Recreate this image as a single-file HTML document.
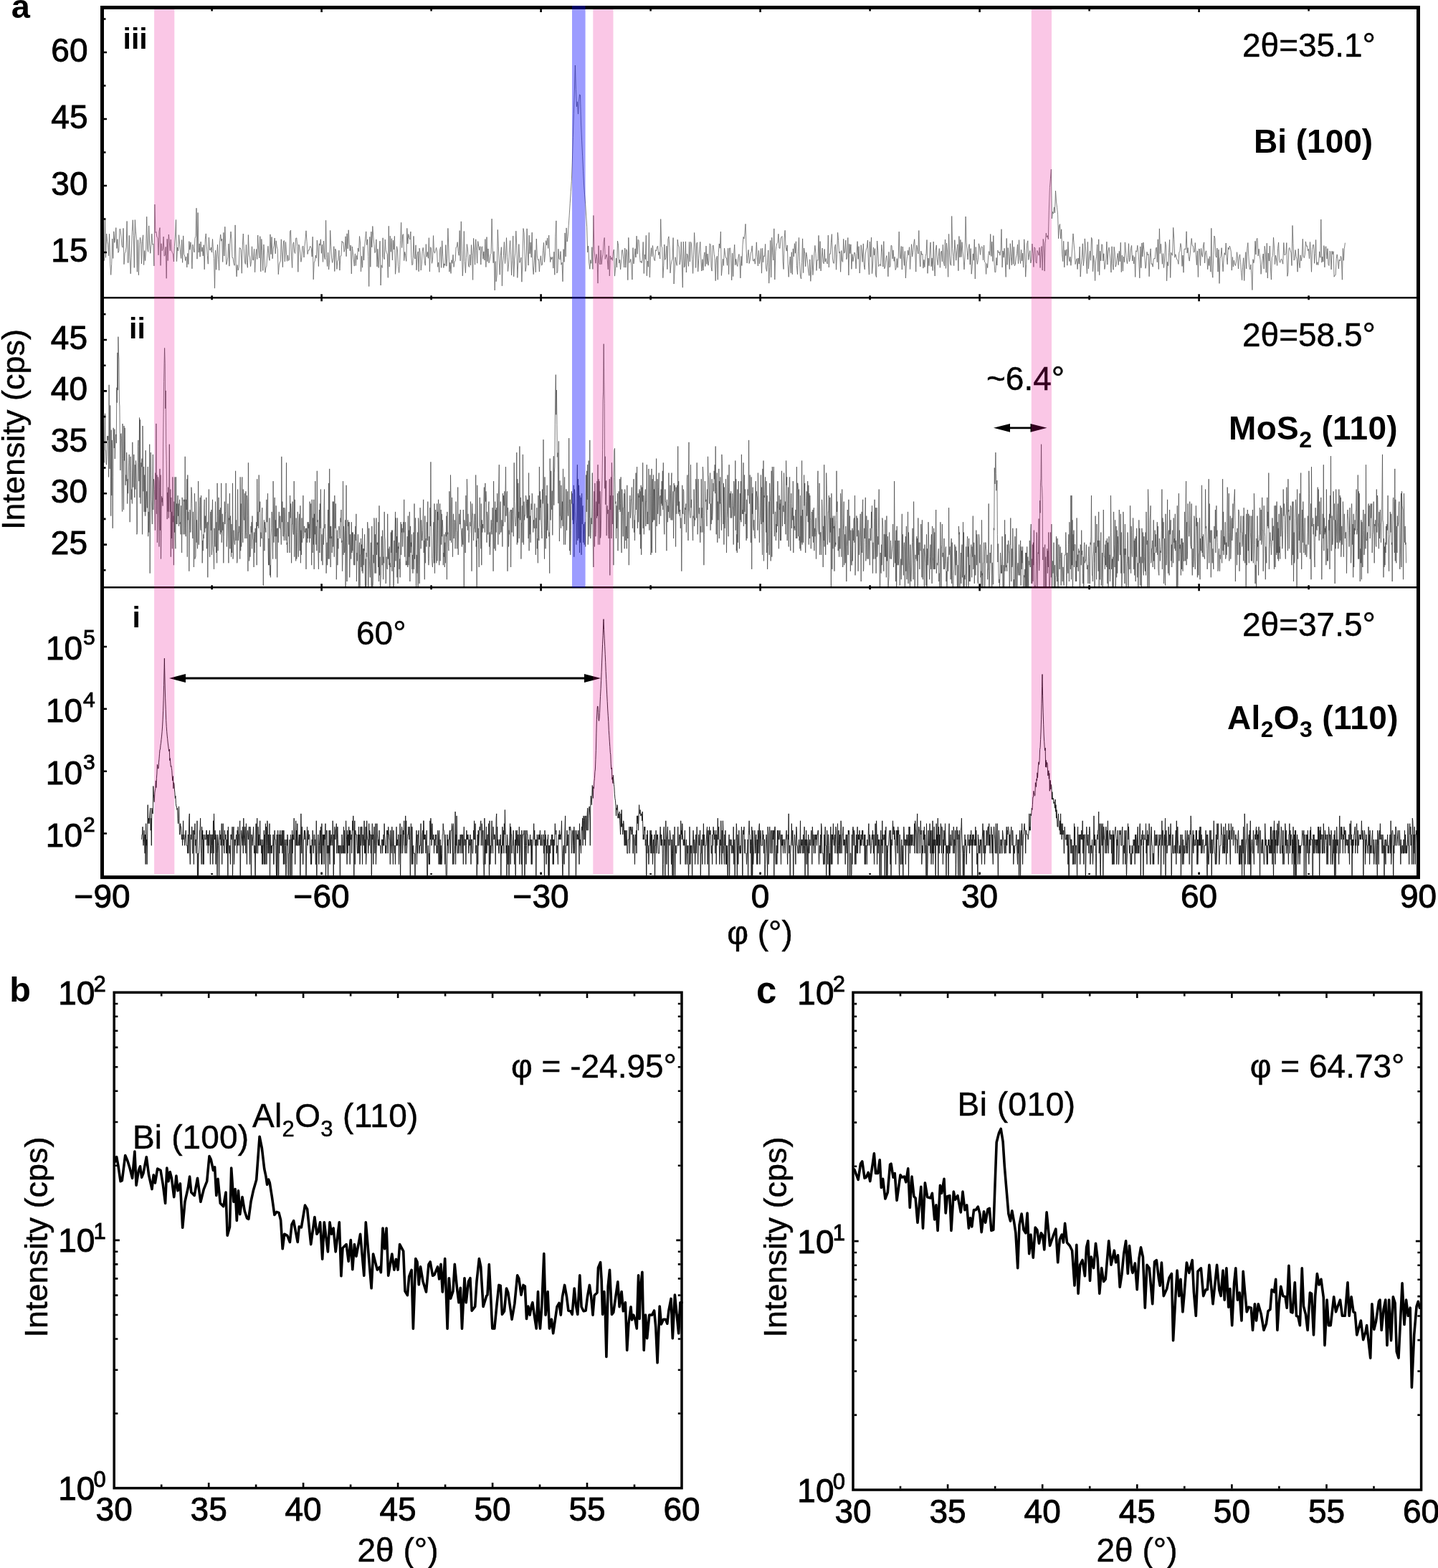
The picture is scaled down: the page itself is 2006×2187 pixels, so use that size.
<!DOCTYPE html>
<html><head><meta charset="utf-8"><style>
html,body{margin:0;padding:0;background:#fff;overflow:hidden;}
svg text{font-family:'Liberation Sans',Arial,sans-serif;fill:#000;}
svg text.r{stroke:#000;stroke-width:0.9px;}
svg text.r2{stroke:#000;stroke-width:0.45px;}
</style></head><body>
<svg width="2006" height="2187" viewBox="0 0 2006 2187" style="display:block">
<defs>
<clipPath id="clip3"><rect x="145.0" y="13.0" width="1831.0" height="400.9"/></clipPath>
<clipPath id="clip2"><rect x="145.0" y="416.5" width="1831.0" height="401.49999999999994"/></clipPath>
<clipPath id="clip1"><rect x="145.0" y="820.5999999999999" width="1831.0" height="400.49999999999994"/></clipPath>
</defs>
<g clip-path="url(#clip3)"><polyline points="145.5,363.7 146.5,305.8 147.5,359.3 148.6,326.0 149.6,336.6 150.6,341.6 151.6,356.8 152.6,326.3 153.7,367.9 154.7,383.4 155.7,368.4 156.7,333.0 157.7,360.4 158.8,322.8 159.8,338.4 160.8,331.9 161.8,317.6 162.8,346.5 163.9,333.6 164.9,352.4 165.9,349.7 166.9,319.6 167.9,319.5 169.0,329.9 170.0,342.3 171.0,345.2 172.0,318.4 173.0,368.7 174.1,353.4 175.1,351.3 176.1,344.4 177.1,308.5 178.1,366.2 179.2,366.3 180.2,328.4 181.2,357.2 182.2,381.8 183.2,359.7 184.3,323.3 185.3,306.8 186.3,328.5 187.3,373.4 188.3,306.6 189.4,322.9 190.4,333.2 191.4,379.2 192.4,334.6 193.4,383.7 194.5,341.2 195.5,331.3 196.5,336.5 197.5,367.9 198.5,336.5 199.6,327.8 200.6,369.5 201.6,349.6 202.6,363.6 203.6,349.0 204.7,302.2 205.7,347.2 206.7,351.3 207.7,314.9 208.7,342.1 209.8,353.3 210.8,340.4 211.8,326.2 212.8,341.2 213.8,340.1 214.9,370.9 215.9,285.1 216.9,324.6 217.9,323.4 218.9,330.6 220.0,331.5 221.0,355.8 222.0,322.7 223.0,317.6 224.0,370.4 225.1,339.7 226.1,349.7 227.1,347.5 228.1,330.1 229.1,357.1 230.2,356.2 231.2,344.4 232.2,388.3 233.2,333.4 234.2,363.6 235.3,327.0 236.3,338.0 237.3,349.8 238.3,334.1 239.3,349.1 240.4,352.5 241.4,354.0 242.4,365.0 243.4,343.4 244.4,330.0 245.5,306.5 246.5,364.6 247.5,345.0 248.5,349.9 249.5,327.7 250.6,340.1 251.6,351.8 252.6,360.4 253.6,334.5 254.6,366.3 255.7,328.9 256.7,354.4 257.7,357.0 258.7,363.5 259.7,358.1 260.8,372.9 261.8,353.3 262.8,368.6 263.8,336.6 264.8,348.3 265.9,337.8 266.9,347.5 267.9,374.8 268.9,341.1 269.9,346.8 271.0,351.9 272.0,332.4 273.0,329.4 274.0,290.3 275.0,361.2 276.1,296.6 277.1,352.0 278.1,339.9 279.1,358.2 280.1,337.1 281.2,350.9 282.2,344.9 283.2,356.9 284.2,341.7 285.2,375.8 286.3,333.6 287.3,325.9 288.3,343.2 289.3,356.6 290.3,368.2 291.4,331.2 292.4,348.4 293.4,349.0 294.4,345.1 295.4,352.0 296.5,333.5 297.5,350.6 298.5,360.6 299.5,402.1 300.5,349.1 301.6,376.2 302.6,354.1 303.6,341.2 304.6,361.7 305.6,377.1 306.7,335.9 307.7,327.1 308.7,336.2 309.7,333.3 310.7,365.4 311.8,324.4 312.8,357.0 313.8,316.2 314.8,344.7 315.8,369.1 316.9,364.7 317.9,358.2 318.9,340.1 319.9,371.2 320.9,340.0 322.0,323.0 323.0,333.5 324.0,359.4 325.0,359.6 326.0,366.8 327.1,370.3 328.1,313.9 329.1,366.9 330.1,385.8 331.1,369.5 332.2,377.0 333.2,372.6 334.2,345.6 335.2,346.0 336.2,348.6 337.3,381.2 338.3,342.9 339.3,326.0 340.3,346.9 341.3,364.3 342.4,368.5 343.4,341.4 344.4,366.7 345.4,373.3 346.4,327.6 347.5,355.1 348.5,359.1 349.5,371.6 350.5,364.4 351.5,343.8 352.6,362.7 353.6,362.7 354.6,347.3 355.6,379.7 356.6,357.4 357.7,347.5 358.7,361.5 359.7,328.0 360.7,348.3 361.7,359.9 362.8,329.7 363.8,378.8 364.8,333.5 365.8,349.8 366.8,377.4 367.9,341.0 368.9,355.1 369.9,380.2 370.9,373.4 371.9,371.1 373.0,353.4 374.0,343.3 375.0,358.0 376.0,363.3 377.0,326.9 378.1,354.6 379.1,330.5 380.1,360.8 381.1,347.2 382.1,342.5 383.2,332.0 384.2,353.9 385.2,335.8 386.2,343.9 387.2,347.7 388.3,382.7 389.3,369.7 390.3,366.2 391.3,364.1 392.3,333.8 393.4,353.0 394.4,372.7 395.4,336.8 396.4,335.5 397.4,364.9 398.5,337.5 399.5,352.9 400.5,364.3 401.5,355.9 402.5,363.5 403.6,361.9 404.6,322.5 405.6,321.1 406.6,357.9 407.6,373.5 408.7,340.4 409.7,337.8 410.7,351.6 411.7,353.5 412.7,332.3 413.8,331.9 414.8,343.5 415.8,379.3 416.8,341.0 417.8,344.8 418.9,353.1 419.9,365.3 420.9,359.2 421.9,343.9 422.9,343.1 424.0,359.0 425.0,343.5 426.0,333.7 427.0,321.8 428.0,336.6 429.1,354.5 430.1,348.9 431.1,349.2 432.1,344.2 433.1,343.4 434.2,346.4 435.2,358.0 436.2,330.2 437.2,389.8 438.2,366.0 439.3,364.0 440.3,356.2 441.3,360.1 442.3,335.1 443.3,344.3 444.4,371.5 445.4,339.8 446.4,342.2 447.4,333.8 448.4,353.3 449.5,341.0 450.5,365.4 451.5,336.0 452.5,358.4 453.5,361.8 454.6,307.3 455.6,359.4 456.6,371.5 457.6,352.2 458.6,376.0 459.7,362.0 460.7,321.4 461.7,343.9 462.7,361.2 463.7,366.4 464.8,359.7 465.8,343.7 466.8,378.5 467.8,347.1 468.8,350.4 469.9,375.4 470.9,364.1 471.9,362.5 472.9,349.2 473.9,377.1 475.0,357.0 476.0,356.7 477.0,336.3 478.0,338.4 479.0,338.0 480.1,351.3 481.1,347.1 482.1,329.8 483.1,357.7 484.1,325.8 485.2,346.9 486.2,320.8 487.2,339.0 488.2,349.8 489.2,342.0 490.3,381.9 491.3,343.9 492.3,351.8 493.3,361.7 494.3,371.1 495.4,353.8 496.4,370.5 497.4,356.4 498.4,362.1 499.4,346.1 500.5,350.9 501.5,329.5 502.5,338.0 503.5,378.8 504.5,357.3 505.6,373.2 506.6,343.9 507.6,363.0 508.6,345.0 509.6,333.2 510.7,322.9 511.7,341.6 512.7,333.9 513.7,357.3 514.7,399.5 515.8,330.4 516.8,372.3 517.8,323.1 518.8,344.8 519.8,315.5 520.9,331.1 521.9,340.4 522.9,352.6 523.9,351.1 524.9,333.9 526.0,371.9 527.0,347.3 528.0,373.5 529.0,360.0 530.0,336.2 531.1,398.0 532.1,369.8 533.1,373.4 534.1,331.8 535.1,358.4 536.2,361.7 537.2,334.1 538.2,348.7 539.2,352.5 540.2,354.4 541.3,387.3 542.3,315.3 543.3,372.2 544.3,329.2 545.3,351.2 546.4,332.7 547.4,362.9 548.4,335.2 549.4,348.0 550.4,329.4 551.5,382.3 552.5,370.9 553.5,343.7 554.5,348.8 555.5,371.4 556.6,380.4 557.6,369.4 558.6,335.3 559.6,310.3 560.6,345.5 561.7,327.8 562.7,326.6 563.7,363.6 564.7,351.4 565.7,356.5 566.8,364.4 567.8,318.4 568.8,340.1 569.8,326.6 570.8,331.4 571.9,334.1 572.9,323.0 573.9,359.6 574.9,369.8 575.9,368.2 577.0,329.4 578.0,359.0 579.0,361.0 580.0,341.8 581.0,376.7 582.1,355.8 583.1,350.9 584.1,378.7 585.1,346.2 586.1,352.6 587.2,377.0 588.2,368.5 589.2,350.5 590.2,345.4 591.2,353.2 592.3,365.0 593.3,370.2 594.3,340.6 595.3,358.2 596.3,351.5 597.4,360.2 598.4,331.7 599.4,378.9 600.4,344.7 601.4,345.9 602.5,367.3 603.5,362.7 604.5,328.6 605.5,351.2 606.5,353.2 607.6,349.5 608.6,345.4 609.6,350.9 610.6,372.3 611.6,366.0 612.7,379.7 613.7,348.1 614.7,344.4 615.7,373.4 616.7,335.8 617.8,358.2 618.8,373.5 619.8,367.8 620.8,370.3 621.8,341.6 622.9,371.2 623.9,360.5 624.9,318.4 625.9,346.9 626.9,379.1 628.0,366.2 629.0,381.4 630.0,362.7 631.0,367.4 632.0,355.3 633.1,372.4 634.1,364.9 635.1,364.0 636.1,345.1 637.1,344.8 638.2,337.7 639.2,350.5 640.2,356.3 641.2,321.6 642.2,363.9 643.3,308.9 644.3,349.1 645.3,384.8 646.3,365.7 647.3,322.5 648.4,364.3 649.4,380.6 650.4,359.4 651.4,340.6 652.4,347.1 653.5,370.6 654.5,372.5 655.5,355.1 656.5,370.1 657.5,341.6 658.6,356.7 659.6,390.4 660.6,332.4 661.6,348.0 662.6,369.2 663.7,333.8 664.7,349.3 665.7,367.2 666.7,336.6 667.7,343.3 668.8,348.9 669.8,343.6 670.8,369.1 671.8,344.6 672.8,343.9 673.9,361.2 674.9,350.9 675.9,363.0 676.9,333.6 677.9,372.5 679.0,330.6 680.0,364.8 681.0,346.9 682.0,366.8 683.0,363.6 684.1,354.7 685.1,353.7 686.1,305.2 687.1,344.4 688.1,366.7 689.2,350.7 690.2,404.9 691.2,364.5 692.2,392.7 693.2,383.1 694.3,320.4 695.3,343.8 696.3,366.9 697.3,383.2 698.3,356.8 699.4,344.7 700.4,398.8 701.4,367.0 702.4,356.7 703.4,337.5 704.5,367.6 705.5,356.2 706.5,331.6 707.5,358.6 708.5,378.5 709.6,368.2 710.6,348.2 711.6,335.6 712.6,355.1 713.6,383.9 714.7,362.3 715.7,329.1 716.7,385.8 717.7,362.1 718.7,353.1 719.8,322.2 720.8,342.8 721.8,387.4 722.8,366.8 723.8,340.6 724.9,366.4 725.9,363.6 726.9,359.2 727.9,393.2 728.9,363.0 730.0,318.6 731.0,324.8 732.0,351.1 733.0,378.5 734.0,372.2 735.1,318.9 736.1,350.2 737.1,370.1 738.1,328.2 739.1,353.8 740.2,337.9 741.2,359.1 742.2,324.2 743.2,371.0 744.2,382.7 745.3,363.8 746.3,348.7 747.3,379.7 748.3,333.0 749.3,357.0 750.4,362.7 751.4,361.7 752.4,379.0 753.4,363.7 754.4,356.8 755.5,370.2 756.5,368.9 757.5,349.7 758.5,338.4 759.5,365.5 760.6,353.1 761.6,335.7 762.6,341.8 763.6,331.9 764.6,346.4 765.7,328.1 766.7,352.7 767.7,365.6 768.7,358.6 769.7,361.6 770.8,358.4 771.8,374.1 772.8,351.2 773.8,383.3 774.8,330.5 775.9,307.9 776.9,380.9 777.9,378.2 778.9,347.3 779.9,360.9 781.0,362.2 782.0,350.6 783.0,369.2 784.0,366.2 785.0,392.7 786.1,347.6 787.1,365.4 788.1,324.9 789.1,357.9 790.1,317.9 791.2,337.1 792.2,329.3 793.2,314.8 794.2,300.2 795.2,283.8 796.3,267.7 797.3,252.5 798.3,226.9 799.3,191.3 800.3,158.6 801.4,126.9 802.4,91.0 803.4,124.6 804.4,148.8 805.4,141.8 806.5,159.1 807.5,141.6 808.5,131.9 809.5,132.6 810.5,172.0 811.6,196.2 812.6,217.3 813.6,238.7 814.6,258.1 815.6,271.8 816.7,284.8 817.7,301.1 818.7,316.7 819.7,351.9 820.7,343.1 821.8,367.1 822.8,375.3 823.8,362.6 824.8,367.4 825.8,344.7 826.9,375.4 827.9,300.5 828.9,348.2 829.9,358.8 830.9,367.2 832.0,354.5 833.0,361.0 834.0,395.1 835.0,342.7 836.0,366.6 837.1,369.0 838.1,348.9 839.1,368.7 840.1,359.9 841.1,354.5 842.2,337.6 843.2,331.5 844.2,361.4 845.2,358.0 846.2,355.0 847.3,362.7 848.3,375.8 849.3,342.9 850.3,384.9 851.3,356.9 852.4,361.8 853.4,359.2 854.4,363.3 855.4,351.9 856.4,348.1 857.5,385.1 858.5,374.3 859.5,360.1 860.5,373.0 861.5,336.1 862.6,342.2 863.6,367.0 864.6,362.4 865.6,375.9 866.6,364.0 867.7,348.8 868.7,348.9 869.7,361.6 870.7,373.0 871.7,346.0 872.8,373.1 873.8,347.8 874.8,351.4 875.8,390.6 876.8,331.4 877.9,366.5 878.9,365.3 879.9,361.4 880.9,370.1 881.9,390.0 883.0,345.6 884.0,367.9 885.0,359.6 886.0,346.8 887.0,359.0 888.1,329.2 889.1,354.3 890.1,334.2 891.1,335.3 892.1,352.7 893.2,365.7 894.2,364.3 895.2,366.8 896.2,361.7 897.2,337.5 898.3,381.5 899.3,355.0 900.3,361.7 901.3,328.3 902.3,384.8 903.4,364.0 904.4,372.2 905.4,324.4 906.4,386.9 907.4,357.8 908.5,345.7 909.5,357.9 910.5,342.5 911.5,355.0 912.5,361.9 913.6,363.7 914.6,348.7 915.6,349.9 916.6,344.3 917.6,343.1 918.7,355.8 919.7,351.6 920.7,361.0 921.7,305.6 922.7,343.4 923.8,345.4 924.8,387.6 925.8,370.4 926.8,341.0 927.8,362.4 928.9,359.6 929.9,343.2 930.9,375.6 931.9,333.8 932.9,329.9 934.0,345.5 935.0,380.8 936.0,369.4 937.0,363.9 938.0,361.2 939.1,331.6 940.1,396.0 941.1,377.0 942.1,358.7 943.1,365.3 944.2,370.4 945.2,334.2 946.2,343.0 947.2,343.6 948.2,369.1 949.3,362.3 950.3,337.4 951.3,368.1 952.3,401.1 953.3,337.1 954.4,373.0 955.4,371.3 956.4,336.9 957.4,380.0 958.4,353.9 959.5,356.6 960.5,371.4 961.5,337.4 962.5,364.9 963.5,337.3 964.6,340.6 965.6,361.7 966.6,381.4 967.6,355.1 968.6,324.5 969.7,345.0 970.7,373.5 971.7,339.3 972.7,338.0 973.7,378.8 974.8,360.7 975.8,347.8 976.8,337.3 977.8,362.5 978.8,378.0 979.9,361.6 980.9,377.1 981.9,358.6 982.9,351.8 983.9,371.5 985.0,343.1 986.0,368.3 987.0,354.1 988.0,370.2 989.0,363.3 990.1,339.8 991.1,341.0 992.1,372.2 993.1,378.1 994.1,342.8 995.2,342.2 996.2,354.4 997.2,360.6 998.2,391.7 999.2,362.1 1000.3,357.3 1001.3,390.2 1002.3,352.4 1003.3,340.0 1004.3,346.2 1005.4,323.0 1006.4,384.4 1007.4,373.4 1008.4,361.2 1009.4,370.5 1010.5,346.2 1011.5,354.1 1012.5,359.7 1013.5,359.9 1014.5,370.2 1015.6,346.3 1016.6,382.6 1017.6,346.2 1018.6,345.9 1019.6,359.1 1020.7,390.8 1021.7,353.1 1022.7,385.6 1023.7,354.6 1024.7,341.2 1025.8,369.6 1026.8,361.3 1027.8,369.0 1028.8,371.5 1029.8,360.2 1030.9,354.5 1031.9,366.5 1032.9,387.9 1033.9,357.4 1034.9,370.5 1036.0,341.9 1037.0,330.5 1038.0,333.1 1039.0,325.0 1040.0,312.4 1041.1,348.4 1042.1,367.0 1043.1,356.7 1044.1,348.5 1045.1,367.5 1046.2,363.0 1047.2,353.1 1048.2,350.7 1049.2,342.9 1050.2,363.4 1051.3,364.2 1052.3,360.9 1053.3,368.2 1054.3,358.6 1055.3,337.8 1056.4,358.2 1057.4,371.0 1058.4,349.4 1059.4,367.9 1060.4,361.1 1061.5,346.6 1062.5,381.1 1063.5,346.3 1064.5,365.8 1065.5,356.9 1066.6,357.5 1067.6,340.4 1068.6,374.0 1069.6,378.4 1070.6,366.2 1071.7,349.0 1072.7,395.1 1073.7,372.7 1074.7,335.4 1075.7,386.8 1076.8,331.3 1077.8,352.9 1078.8,363.0 1079.8,318.9 1080.8,390.0 1081.9,350.7 1082.9,343.5 1083.9,339.6 1084.9,338.3 1085.9,326.3 1087.0,346.1 1088.0,346.4 1089.0,332.8 1090.0,330.7 1091.0,329.5 1092.1,364.1 1093.1,375.5 1094.1,331.9 1095.1,321.3 1096.1,344.5 1097.2,350.1 1098.2,341.9 1099.2,368.3 1100.2,386.3 1101.2,370.7 1102.3,358.0 1103.3,380.8 1104.3,351.7 1105.3,382.7 1106.3,346.9 1107.4,357.8 1108.4,339.6 1109.4,353.2 1110.4,336.8 1111.4,370.4 1112.5,382.7 1113.5,350.8 1114.5,331.4 1115.5,364.6 1116.5,385.6 1117.6,389.0 1118.6,366.4 1119.6,332.9 1120.6,380.6 1121.6,346.0 1122.7,353.8 1123.7,371.7 1124.7,352.2 1125.7,357.8 1126.7,366.9 1127.8,379.1 1128.8,384.4 1129.8,361.8 1130.8,392.3 1131.8,376.3 1132.9,355.6 1133.9,383.6 1134.9,370.0 1135.9,354.0 1136.9,342.4 1138.0,353.7 1139.0,377.4 1140.0,362.5 1141.0,363.3 1142.0,328.4 1143.1,374.6 1144.1,336.6 1145.1,377.9 1146.1,361.7 1147.1,346.1 1148.2,365.5 1149.2,367.8 1150.2,347.5 1151.2,365.2 1152.2,360.5 1153.3,366.4 1154.3,368.1 1155.3,328.1 1156.3,372.9 1157.3,354.1 1158.4,354.3 1159.4,338.2 1160.4,326.6 1161.4,360.0 1162.4,366.7 1163.5,367.3 1164.5,344.9 1165.5,340.9 1166.5,376.2 1167.5,354.7 1168.6,324.3 1169.6,335.5 1170.6,353.2 1171.6,350.9 1172.6,379.3 1173.7,349.5 1174.7,364.4 1175.7,365.3 1176.7,333.3 1177.7,353.2 1178.8,351.1 1179.8,335.1 1180.8,361.8 1181.8,358.6 1182.8,331.5 1183.9,383.9 1184.9,340.4 1185.9,353.6 1186.9,340.9 1187.9,375.3 1189.0,354.5 1190.0,364.6 1191.0,357.7 1192.0,352.0 1193.0,354.6 1194.1,374.8 1195.1,353.6 1196.1,336.7 1197.1,361.4 1198.1,343.7 1199.2,381.0 1200.2,365.8 1201.2,341.8 1202.2,351.1 1203.2,365.4 1204.3,339.9 1205.3,369.8 1206.3,375.9 1207.3,354.0 1208.3,348.1 1209.4,344.9 1210.4,335.0 1211.4,365.9 1212.4,383.1 1213.4,337.0 1214.5,358.3 1215.5,331.1 1216.5,381.6 1217.5,370.1 1218.5,345.0 1219.6,355.8 1220.6,346.7 1221.6,383.7 1222.6,386.6 1223.6,336.0 1224.7,349.2 1225.7,371.7 1226.7,369.6 1227.7,368.5 1228.7,371.1 1229.8,341.4 1230.8,351.3 1231.8,372.1 1232.8,336.6 1233.8,374.8 1234.9,372.0 1235.9,359.9 1236.9,356.6 1237.9,366.1 1238.9,385.7 1240.0,351.4 1241.0,372.8 1242.0,370.8 1243.0,342.4 1244.0,342.7 1245.1,360.9 1246.1,348.8 1247.1,364.3 1248.1,358.3 1249.1,376.5 1250.2,373.7 1251.2,360.6 1252.2,373.2 1253.2,358.8 1254.2,323.1 1255.3,359.7 1256.3,360.8 1257.3,343.5 1258.3,376.0 1259.3,344.1 1260.4,357.2 1261.4,370.4 1262.4,350.4 1263.4,387.9 1264.4,367.9 1265.5,357.6 1266.5,349.2 1267.5,355.8 1268.5,344.7 1269.5,375.5 1270.6,356.6 1271.6,340.7 1272.6,358.1 1273.6,352.4 1274.6,340.9 1275.7,333.7 1276.7,351.8 1277.7,379.1 1278.7,342.0 1279.7,347.1 1280.8,354.0 1281.8,321.5 1282.8,360.1 1283.8,372.0 1284.8,350.2 1285.9,355.3 1286.9,354.0 1287.9,374.1 1288.9,362.4 1289.9,372.6 1291.0,357.6 1292.0,353.8 1293.0,334.5 1294.0,381.3 1295.0,360.1 1296.1,370.7 1297.1,348.9 1298.1,337.9 1299.1,371.7 1300.1,359.9 1301.2,377.5 1302.2,337.0 1303.2,368.2 1304.2,385.0 1305.2,349.1 1306.3,341.9 1307.3,362.1 1308.3,369.6 1309.3,357.4 1310.3,346.6 1311.4,373.3 1312.4,351.9 1313.4,350.0 1314.4,364.9 1315.4,341.3 1316.5,366.0 1317.5,371.0 1318.5,334.0 1319.5,374.4 1320.5,339.0 1321.6,351.1 1322.6,386.3 1323.6,326.4 1324.6,356.0 1325.6,368.5 1326.7,370.2 1327.7,301.5 1328.7,346.4 1329.7,357.3 1330.7,370.6 1331.8,334.7 1332.8,349.3 1333.8,363.2 1334.8,349.6 1335.8,340.8 1336.9,377.7 1337.9,329.5 1338.9,358.8 1339.9,334.4 1340.9,358.5 1342.0,337.7 1343.0,350.8 1344.0,360.0 1345.0,375.9 1346.0,359.1 1347.1,302.0 1348.1,338.2 1349.1,349.7 1350.1,362.0 1351.1,346.5 1352.2,340.6 1353.2,369.1 1354.2,346.6 1355.2,382.2 1356.2,371.6 1357.3,353.8 1358.3,363.2 1359.3,333.8 1360.3,389.0 1361.3,344.6 1362.4,359.8 1363.4,368.4 1364.4,362.3 1365.4,339.8 1366.4,343.9 1367.5,355.4 1368.5,346.0 1369.5,343.8 1370.5,344.6 1371.5,362.9 1372.6,342.0 1373.6,365.2 1374.6,366.6 1375.6,382.4 1376.6,367.6 1377.7,373.5 1378.7,356.6 1379.7,350.6 1380.7,355.8 1381.7,326.5 1382.8,357.5 1383.8,337.2 1384.8,364.5 1385.8,328.7 1386.8,363.0 1387.9,379.6 1388.9,379.6 1389.9,359.5 1390.9,370.0 1391.9,349.1 1393.0,352.7 1394.0,351.3 1395.0,356.2 1396.0,347.9 1397.0,319.7 1398.1,372.9 1399.1,350.0 1400.1,359.1 1401.1,346.3 1402.1,360.8 1403.2,386.4 1404.2,332.5 1405.2,369.3 1406.2,345.6 1407.2,357.3 1408.3,375.5 1409.3,339.7 1410.3,358.3 1411.3,369.9 1412.3,335.2 1413.4,368.4 1414.4,344.4 1415.4,370.7 1416.4,368.5 1417.4,359.1 1418.5,353.7 1419.5,340.9 1420.5,367.7 1421.5,334.7 1422.5,359.4 1423.6,367.5 1424.6,348.3 1425.6,364.0 1426.6,353.0 1427.6,372.9 1428.7,333.8 1429.7,349.6 1430.7,386.2 1431.7,368.3 1432.7,340.0 1433.8,335.8 1434.8,362.4 1435.8,354.7 1436.8,349.6 1437.8,366.9 1438.9,361.8 1439.9,340.1 1440.9,353.3 1441.9,372.4 1442.9,344.8 1444.0,346.2 1445.0,365.3 1446.0,367.1 1447.0,349.5 1448.0,352.3 1449.1,356.2 1450.1,345.1 1451.1,373.5 1452.1,351.8 1453.1,343.5 1454.2,377.0 1455.2,333.5 1456.2,338.8 1457.2,378.1 1458.2,339.4 1459.3,325.1 1460.3,330.9 1461.3,328.6 1462.3,333.7 1463.3,293.9 1464.4,261.6 1465.4,249.2 1466.4,236.1 1467.4,305.0 1468.4,295.5 1469.5,298.0 1470.5,288.9 1471.5,297.0 1472.5,266.1 1473.5,280.8 1474.6,289.7 1475.6,299.7 1476.6,332.8 1477.6,314.6 1478.6,312.6 1479.7,333.0 1480.7,319.8 1481.7,354.7 1482.7,364.6 1483.7,336.3 1484.8,372.8 1485.8,348.8 1486.8,356.6 1487.8,347.8 1488.8,370.2 1489.9,337.2 1490.9,359.4 1491.9,364.6 1492.9,358.2 1493.9,370.3 1495.0,357.9 1496.0,341.6 1497.0,325.9 1498.0,338.3 1499.0,351.3 1500.1,368.6 1501.1,364.0 1502.1,360.7 1503.1,375.5 1504.1,360.0 1505.2,368.1 1506.2,344.1 1507.2,386.0 1508.2,369.8 1509.2,359.7 1510.3,339.8 1511.3,370.6 1512.3,361.4 1513.3,332.9 1514.3,343.4 1515.4,364.0 1516.4,381.6 1517.4,337.5 1518.4,374.9 1519.4,361.0 1520.5,350.0 1521.5,363.2 1522.5,331.3 1523.5,333.6 1524.5,378.7 1525.6,356.5 1526.6,365.9 1527.6,391.5 1528.6,363.9 1529.6,357.4 1530.7,341.1 1531.7,378.7 1532.7,333.8 1533.7,383.7 1534.7,350.2 1535.8,363.8 1536.8,340.8 1537.8,341.3 1538.8,363.9 1539.8,353.7 1540.9,375.5 1541.9,369.8 1542.9,360.9 1543.9,337.2 1544.9,369.1 1546.0,350.1 1547.0,345.1 1548.0,353.5 1549.0,363.4 1550.0,380.0 1551.1,343.8 1552.1,367.6 1553.1,376.3 1554.1,344.3 1555.1,351.8 1556.2,372.2 1557.2,368.9 1558.2,359.8 1559.2,353.4 1560.2,369.6 1561.3,350.3 1562.3,364.7 1563.3,338.2 1564.3,379.5 1565.3,356.1 1566.4,378.1 1567.4,358.0 1568.4,365.6 1569.4,337.9 1570.4,350.0 1571.5,362.3 1572.5,367.8 1573.5,359.7 1574.5,339.7 1575.5,364.9 1576.6,359.5 1577.6,346.4 1578.6,342.4 1579.6,364.0 1580.6,356.4 1581.7,367.9 1582.7,358.4 1583.7,386.4 1584.7,349.7 1585.7,351.2 1586.8,342.3 1587.8,351.8 1588.8,364.0 1589.8,387.8 1590.8,343.9 1591.9,373.7 1592.9,339.0 1593.9,357.9 1594.9,338.1 1595.9,348.2 1597.0,359.6 1598.0,374.3 1599.0,369.0 1600.0,351.4 1601.0,355.9 1602.1,354.4 1603.1,385.7 1604.1,360.1 1605.1,346.9 1606.1,368.5 1607.2,367.7 1608.2,372.2 1609.2,362.1 1610.2,360.1 1611.2,361.1 1612.3,346.7 1613.3,345.0 1614.3,365.7 1615.3,333.8 1616.3,375.5 1617.4,318.9 1618.4,353.7 1619.4,340.3 1620.4,352.4 1621.4,368.3 1622.5,353.6 1623.5,373.5 1624.5,363.0 1625.5,337.0 1626.5,341.6 1627.6,391.8 1628.6,365.4 1629.6,370.7 1630.6,352.5 1631.6,334.4 1632.7,387.4 1633.7,352.3 1634.7,354.9 1635.7,356.3 1636.7,317.4 1637.8,333.4 1638.8,359.2 1639.8,354.7 1640.8,357.8 1641.8,362.1 1642.9,362.9 1643.9,368.4 1644.9,352.0 1645.9,350.3 1646.9,339.5 1648.0,345.2 1649.0,371.4 1650.0,356.0 1651.0,380.2 1652.0,347.3 1653.1,347.2 1654.1,347.9 1655.1,322.8 1656.1,352.9 1657.1,345.6 1658.2,357.7 1659.2,364.1 1660.2,355.1 1661.2,342.6 1662.2,332.5 1663.3,342.8 1664.3,342.9 1665.3,352.0 1666.3,351.3 1667.3,338.6 1668.4,355.9 1669.4,369.6 1670.4,349.9 1671.4,386.5 1672.4,347.2 1673.5,347.5 1674.5,370.5 1675.5,346.4 1676.5,355.1 1677.5,358.3 1678.6,342.1 1679.6,337.9 1680.6,366.9 1681.6,352.4 1682.6,349.8 1683.7,359.1 1684.7,375.7 1685.7,360.6 1686.7,370.5 1687.7,357.7 1688.8,379.1 1689.8,318.3 1690.8,379.1 1691.8,387.2 1692.8,355.5 1693.9,329.0 1694.9,332.5 1695.9,356.8 1696.9,359.1 1697.9,346.0 1699.0,379.1 1700.0,348.2 1701.0,395.4 1702.0,360.3 1703.0,357.4 1704.1,345.7 1705.1,362.8 1706.1,378.7 1707.1,360.9 1708.1,352.7 1709.2,355.5 1710.2,339.0 1711.2,358.7 1712.2,368.8 1713.2,345.3 1714.3,348.1 1715.3,343.1 1716.3,345.6 1717.3,351.1 1718.3,377.1 1719.4,358.5 1720.4,372.1 1721.4,363.0 1722.4,368.5 1723.4,370.5 1724.5,365.0 1725.5,351.7 1726.5,360.1 1727.5,375.0 1728.5,359.1 1729.6,354.9 1730.6,365.3 1731.6,380.7 1732.6,390.7 1733.6,372.7 1734.7,359.7 1735.7,391.5 1736.7,368.2 1737.7,351.6 1738.7,374.9 1739.8,346.6 1740.8,338.6 1741.8,357.2 1742.8,372.0 1743.8,376.0 1744.9,368.9 1745.9,383.1 1746.9,404.5 1747.9,361.7 1748.9,366.8 1750.0,361.2 1751.0,336.3 1752.0,355.0 1753.0,333.1 1754.0,332.4 1755.1,357.1 1756.1,347.2 1757.1,354.6 1758.1,362.4 1759.1,382.3 1760.2,369.8 1761.2,360.8 1762.2,354.0 1763.2,375.0 1764.2,343.3 1765.3,351.6 1766.3,380.2 1767.3,339.2 1768.3,388.0 1769.3,353.0 1770.4,364.0 1771.4,343.0 1772.4,373.1 1773.4,390.1 1774.4,359.5 1775.5,356.5 1776.5,331.2 1777.5,345.1 1778.5,368.7 1779.5,356.2 1780.6,362.0 1781.6,370.4 1782.6,346.4 1783.6,338.0 1784.6,363.3 1785.7,366.3 1786.7,362.1 1787.7,361.1 1788.7,364.3 1789.7,368.2 1790.8,338.5 1791.8,355.6 1792.8,355.6 1793.8,353.4 1794.8,338.6 1795.9,385.3 1796.9,379.7 1797.9,346.8 1798.9,345.4 1799.9,349.0 1801.0,352.6 1802.0,370.5 1803.0,314.5 1804.0,339.6 1805.0,363.1 1806.1,361.9 1807.1,348.6 1808.1,357.4 1809.1,361.4 1810.1,379.2 1811.2,346.9 1812.2,366.2 1813.2,373.7 1814.2,355.8 1815.2,363.8 1816.3,358.2 1817.3,333.3 1818.3,357.6 1819.3,359.6 1820.3,355.4 1821.4,336.9 1822.4,343.3 1823.4,342.9 1824.4,349.6 1825.4,347.4 1826.5,360.7 1827.5,337.5 1828.5,355.2 1829.5,379.3 1830.5,348.5 1831.6,341.5 1832.6,341.4 1833.6,367.3 1834.6,353.5 1835.6,334.5 1836.7,369.4 1837.7,365.6 1838.7,369.6 1839.7,364.5 1840.7,350.9 1841.8,359.3 1842.8,306.0 1843.8,366.1 1844.8,358.0 1845.8,365.1 1846.9,342.6 1847.9,372.8 1848.9,344.4 1849.9,343.8 1850.9,361.2 1852.0,346.7 1853.0,368.8 1854.0,370.5 1855.0,350.2 1856.0,351.2 1857.1,375.9 1858.1,350.2 1859.1,354.8 1860.1,350.7 1861.1,386.2 1862.2,383.9 1863.2,383.5 1864.2,360.8 1865.2,354.9 1866.2,361.8 1867.3,374.9 1868.3,362.4 1869.3,364.0 1870.3,357.4 1871.3,359.7 1872.4,390.2 1873.4,346.5 1874.4,363.3 1875.4,346.3 1876.4,338.7" fill="none" stroke="#606060" stroke-width="0.8" stroke-linejoin="round"/></g>
<g clip-path="url(#clip2)"><polyline points="145.5,645.4 146.0,608.2 146.5,576.8 147.0,628.2 147.5,628.2 148.0,645.4 148.6,648.2 149.1,636.8 149.6,608.2 150.1,613.9 150.6,608.2 151.1,608.2 151.6,665.4 152.1,536.8 152.6,628.2 153.1,653.9 153.7,565.4 154.2,616.8 154.7,719.6 155.2,599.7 155.7,691.1 156.2,613.9 156.7,625.4 157.2,736.8 157.7,665.3 158.2,596.8 158.8,613.8 159.3,625.0 159.8,598.7 160.3,640.0 160.8,622.2 161.3,609.5 161.8,605.8 162.3,618.1 162.8,540.7 163.3,561.6 163.9,491.9 164.4,544.1 164.9,469.7 165.4,491.1 165.9,501.3 166.4,559.2 166.9,567.0 167.4,613.4 167.9,656.0 168.4,605.9 169.0,604.6 169.5,611.2 170.0,661.5 170.5,713.5 171.0,591.0 171.5,639.6 172.0,659.6 172.5,711.0 173.0,594.0 173.5,642.5 174.1,596.8 174.6,628.2 175.1,676.8 175.6,662.5 176.1,671.1 176.6,631.1 177.1,642.5 177.6,702.5 178.1,668.2 178.6,688.2 179.2,665.4 179.7,645.4 180.2,633.9 180.7,651.1 181.2,728.2 181.7,685.3 182.2,636.8 182.7,659.6 183.2,696.8 183.7,682.5 184.3,702.5 184.8,616.8 185.3,653.9 185.8,679.6 186.3,651.1 186.8,633.9 187.3,673.9 187.8,693.9 188.3,648.2 188.8,682.5 189.4,642.5 189.9,648.2 190.4,673.9 190.9,745.3 191.4,742.5 191.9,679.6 192.4,622.5 192.9,613.9 193.4,645.4 193.9,671.1 194.5,582.5 195.0,693.9 195.5,585.4 196.0,702.5 196.5,653.9 197.0,645.4 197.5,651.1 198.0,639.6 198.5,745.3 199.0,594.0 199.6,645.4 200.1,685.3 200.6,651.1 201.1,713.9 201.6,662.5 202.1,702.5 202.6,719.6 203.1,628.2 203.6,713.9 204.1,696.8 204.7,685.3 205.2,708.2 205.7,708.2 206.2,651.1 206.7,748.2 207.2,713.9 207.7,742.5 208.2,722.5 208.7,619.7 209.2,799.6 209.8,659.6 210.3,631.1 210.8,662.5 211.3,696.8 211.8,713.9 212.3,731.0 212.8,693.9 213.3,633.9 213.8,711.0 214.3,668.2 214.9,671.1 215.4,682.5 215.9,705.3 216.4,739.6 216.9,659.6 217.4,696.8 217.9,590.9 218.4,716.8 218.9,662.5 219.4,756.7 220.0,722.5 220.5,665.4 221.0,671.1 221.5,711.0 222.0,762.5 222.5,679.6 223.0,653.9 223.5,739.6 224.0,662.5 224.5,779.5 225.1,710.6 225.6,692.3 226.1,700.3 226.6,694.6 227.1,705.6 227.6,623.9 228.1,578.8 228.6,532.4 229.1,506.8 229.6,485.4 230.2,506.8 230.7,569.8 231.2,544.9 231.7,619.5 232.2,641.4 232.7,679.7 233.2,724.1 233.7,686.9 234.2,713.6 234.7,679.6 235.3,722.5 235.8,679.6 236.3,619.7 236.8,693.9 237.3,713.9 237.8,682.5 238.3,776.7 238.8,693.9 239.3,751.0 239.8,713.9 240.4,765.3 240.9,665.4 241.4,728.2 241.9,719.6 242.4,788.2 242.9,699.6 243.4,742.5 243.9,665.4 244.4,751.0 244.9,765.3 245.5,665.4 246.0,731.0 246.5,702.5 247.0,731.0 247.5,702.5 248.0,691.1 248.5,719.6 249.0,702.5 249.5,733.9 250.0,705.3 250.6,696.8 251.1,731.0 251.6,728.2 252.1,745.3 252.6,705.3 253.1,731.0 253.6,771.0 254.1,693.9 254.6,699.6 255.1,708.2 255.7,745.3 256.2,696.8 256.7,699.6 257.2,696.8 257.7,745.3 258.2,636.8 258.7,736.8 259.2,748.2 259.7,696.8 260.2,711.0 260.8,668.2 261.3,776.7 261.8,662.5 262.3,725.3 262.8,713.9 263.3,731.0 263.8,796.7 264.3,739.6 264.8,711.0 265.3,713.9 265.9,742.5 266.4,708.2 266.9,679.6 267.4,685.3 267.9,702.5 268.4,739.6 268.9,751.0 269.4,713.9 269.9,748.2 270.4,791.0 271.0,759.6 271.5,688.2 272.0,779.6 272.5,776.7 273.0,776.7 273.5,699.6 274.0,756.7 274.5,725.3 275.0,748.2 275.5,765.3 276.1,751.0 276.6,671.1 277.1,759.6 277.6,759.6 278.1,728.2 278.6,705.3 279.1,693.9 279.6,736.8 280.1,739.6 280.6,691.1 281.2,736.8 281.7,748.2 282.2,785.3 282.7,753.9 283.2,768.2 283.7,745.3 284.2,751.0 284.7,708.2 285.2,696.8 285.7,742.5 286.3,719.6 286.8,736.8 287.3,733.9 287.8,693.9 288.3,765.3 288.8,731.0 289.3,728.2 289.8,805.3 290.3,733.9 290.8,725.3 291.4,682.5 291.9,756.7 292.4,776.7 292.9,776.7 293.4,719.6 293.9,713.9 294.4,739.6 294.9,711.0 295.4,773.9 295.9,722.5 296.5,696.8 297.0,759.6 297.5,768.2 298.0,771.0 298.5,793.9 299.0,736.8 299.5,753.9 300.0,762.5 300.5,699.6 301.0,739.6 301.6,771.0 302.1,728.2 302.6,785.3 303.1,673.9 303.6,719.6 304.1,768.2 304.6,736.8 305.1,693.9 305.6,739.6 306.1,711.0 306.7,733.9 307.2,745.3 307.7,708.2 308.2,742.5 308.7,673.9 309.2,756.7 309.7,745.3 310.2,716.8 310.7,739.6 311.2,728.2 311.8,785.3 312.3,748.2 312.8,728.2 313.3,699.6 313.8,731.0 314.3,716.8 314.8,713.9 315.3,673.9 315.8,716.8 316.3,762.5 316.9,748.2 317.4,728.2 317.9,702.5 318.4,722.5 318.9,785.3 319.4,722.5 319.9,725.3 320.4,688.2 320.9,765.3 321.4,719.6 322.0,739.6 322.5,776.7 323.0,731.0 323.5,771.0 324.0,745.3 324.5,673.9 325.0,779.6 325.5,771.0 326.0,739.6 326.5,751.0 327.1,756.7 327.6,759.6 328.1,748.2 328.6,656.8 329.1,753.9 329.6,725.3 330.1,753.9 330.6,785.3 331.1,782.4 331.6,682.5 332.2,753.9 332.7,742.5 333.2,742.5 333.7,733.9 334.2,751.0 334.7,779.6 335.2,665.4 335.7,768.2 336.2,702.5 336.7,762.5 337.3,679.6 337.8,665.4 338.3,742.5 338.8,756.7 339.3,682.5 339.8,719.6 340.3,725.3 340.8,725.3 341.3,688.2 341.8,751.0 342.4,739.6 342.9,685.3 343.4,742.5 343.9,751.0 344.4,691.1 344.9,696.8 345.4,719.6 345.9,796.7 346.4,645.4 346.9,708.2 347.5,782.4 348.0,776.7 348.5,745.3 349.0,776.7 349.5,762.5 350.0,733.9 350.5,742.5 351.0,728.2 351.5,765.3 352.0,719.6 352.6,739.6 353.1,751.0 353.6,753.9 354.1,791.0 354.6,742.5 355.1,771.0 355.6,748.2 356.1,736.8 356.6,745.3 357.1,756.7 357.7,728.2 358.2,788.2 358.7,668.2 359.2,733.9 359.7,731.0 360.2,713.9 360.7,736.8 361.2,662.5 361.7,713.9 362.2,713.9 362.8,699.6 363.3,762.5 363.8,742.5 364.3,745.3 364.8,751.0 365.3,716.8 365.8,708.2 366.3,751.0 366.8,751.0 367.3,816.7 367.9,739.6 368.4,725.3 368.9,768.2 369.4,728.2 369.9,736.8 370.4,736.8 370.9,742.5 371.4,713.9 371.9,696.8 372.4,728.2 373.0,719.6 373.5,688.2 374.0,765.3 374.5,788.2 375.0,751.0 375.5,788.2 376.0,722.5 376.5,802.4 377.0,788.2 377.5,805.3 378.1,748.2 378.6,736.8 379.1,713.9 379.6,719.6 380.1,742.5 380.6,779.6 381.1,671.1 381.6,736.8 382.1,756.7 382.6,711.0 383.2,693.9 383.7,748.2 384.2,725.3 384.7,779.6 385.2,705.3 385.7,748.2 386.2,736.8 386.7,805.3 387.2,736.8 387.7,736.8 388.3,756.7 388.8,722.5 389.3,713.9 389.8,733.9 390.3,736.8 390.8,719.6 391.3,736.8 391.8,739.6 392.3,759.6 392.8,636.9 393.4,728.2 393.9,699.6 394.4,731.0 394.9,748.2 395.4,708.2 395.9,725.3 396.4,753.9 396.9,708.2 397.4,711.0 397.9,742.5 398.5,751.0 399.0,753.9 399.5,645.4 400.0,759.6 400.5,756.7 401.0,771.0 401.5,728.2 402.0,736.8 402.5,748.2 403.0,713.9 403.6,759.6 404.1,771.0 404.6,691.1 405.1,722.5 405.6,702.5 406.1,711.0 406.6,785.3 407.1,731.0 407.6,731.0 408.1,699.6 408.7,739.6 409.2,745.3 409.7,745.3 410.2,671.1 410.7,776.7 411.2,696.8 411.7,733.9 412.2,745.3 412.7,782.4 413.2,722.5 413.8,779.6 414.3,771.0 414.8,742.5 415.3,713.9 415.8,725.3 416.3,776.7 416.8,753.9 417.3,728.2 417.8,716.8 418.3,768.2 418.9,705.3 419.4,785.3 419.9,739.6 420.4,773.9 420.9,722.5 421.4,756.7 421.9,745.3 422.4,736.8 422.9,691.1 423.4,751.0 424.0,748.2 424.5,733.9 425.0,739.6 425.5,742.5 426.0,739.6 426.5,736.8 427.0,793.9 427.5,736.8 428.0,742.5 428.5,756.7 429.1,728.2 429.6,751.0 430.1,728.2 430.6,736.8 431.1,731.0 431.6,756.7 432.1,699.6 432.6,751.0 433.1,731.0 433.6,702.5 434.2,736.8 434.7,788.2 435.2,696.8 435.7,719.6 436.2,771.0 436.7,722.5 437.2,759.6 437.7,696.8 438.2,793.9 438.7,716.8 439.3,745.3 439.8,671.1 440.3,748.2 440.8,759.6 441.3,733.9 441.8,768.2 442.3,656.8 442.8,728.2 443.3,725.3 443.8,768.2 444.4,793.9 444.9,759.6 445.4,711.0 445.9,771.0 446.4,702.5 446.9,736.8 447.4,682.5 447.9,742.5 448.4,782.4 448.9,745.3 449.5,756.7 450.0,788.2 450.5,742.5 451.0,736.8 451.5,759.6 452.0,705.3 452.5,682.5 453.0,736.8 453.5,731.0 454.0,748.2 454.6,756.7 455.1,799.6 455.6,776.7 456.1,756.7 456.6,788.2 457.1,745.3 457.6,711.0 458.1,779.6 458.6,673.9 459.1,779.6 459.7,653.9 460.2,751.0 460.7,733.9 461.2,791.0 461.7,733.9 462.2,751.0 462.7,748.2 463.2,771.0 463.7,759.6 464.2,699.6 464.8,762.5 465.3,699.6 465.8,753.9 466.3,776.7 466.8,691.1 467.3,728.2 467.8,736.8 468.3,702.5 468.8,745.3 469.3,808.2 469.9,776.7 470.4,739.6 470.9,788.2 471.4,751.0 471.9,765.3 472.4,736.8 472.9,733.9 473.4,736.8 473.9,739.6 474.4,751.0 475.0,722.5 475.5,728.2 476.0,711.0 476.5,756.7 477.0,753.9 477.5,796.7 478.0,785.3 478.5,671.1 479.0,773.9 479.5,733.9 480.1,751.0 480.6,771.0 481.1,768.2 481.6,725.3 482.1,836.7 482.6,739.6 483.1,676.8 483.6,768.2 484.1,811.0 484.6,756.7 485.2,725.3 485.7,733.9 486.2,728.2 486.7,759.6 487.2,728.2 487.7,805.3 488.2,782.4 488.7,745.3 489.2,759.6 489.7,779.6 490.3,728.2 490.8,771.0 491.3,742.5 491.8,768.2 492.3,742.5 492.8,762.5 493.3,785.3 493.8,788.2 494.3,745.3 494.8,788.2 495.4,745.3 495.9,733.9 496.4,753.9 496.9,716.8 497.4,811.0 497.9,771.0 498.4,782.4 498.9,753.9 499.4,745.3 499.9,753.9 500.5,825.3 501.0,765.3 501.5,756.7 502.0,833.9 502.5,773.9 503.0,773.9 503.5,751.0 504.0,791.0 504.5,759.6 505.0,796.7 505.6,736.8 506.1,799.6 506.6,765.3 507.1,788.2 507.6,765.3 508.1,768.2 508.6,745.3 509.1,782.4 509.6,825.3 510.1,779.6 510.7,865.3 511.2,771.0 511.7,776.7 512.2,756.7 512.7,728.2 513.2,736.8 513.7,842.4 514.2,782.4 514.7,736.8 515.2,776.7 515.8,793.9 516.3,805.3 516.8,779.6 517.3,756.7 517.8,793.9 518.3,833.9 518.8,733.9 519.3,811.0 519.8,819.6 520.3,813.9 520.9,773.9 521.4,785.3 521.9,722.5 522.4,728.2 522.9,799.6 523.4,745.3 523.9,776.7 524.4,799.6 524.9,722.5 525.4,773.9 526.0,756.7 526.5,759.6 527.0,756.7 527.5,791.0 528.0,728.2 528.5,811.0 529.0,705.3 529.5,802.4 530.0,776.7 530.5,822.4 531.1,808.2 531.6,802.4 532.1,748.2 532.6,748.2 533.1,788.2 533.6,739.6 534.1,768.2 534.6,808.2 535.1,776.7 535.6,785.3 536.2,713.9 536.7,748.2 537.2,753.9 537.7,793.9 538.2,813.9 538.7,808.2 539.2,776.7 539.7,791.0 540.2,793.9 540.7,716.8 541.3,779.6 541.8,765.3 542.3,771.0 542.8,788.2 543.3,762.5 543.8,828.1 544.3,785.3 544.8,791.0 545.3,742.5 545.8,771.0 546.4,739.6 546.9,796.7 547.4,739.6 547.9,765.3 548.4,788.2 548.9,828.1 549.4,813.9 549.9,753.9 550.4,791.0 550.9,742.5 551.5,713.9 552.0,782.4 552.5,722.5 553.0,771.0 553.5,748.2 554.0,805.3 554.5,722.5 555.0,813.9 555.5,762.5 556.0,765.3 556.6,756.7 557.1,793.9 557.6,779.6 558.1,805.3 558.6,782.4 559.1,728.2 559.6,773.9 560.1,731.0 560.6,742.5 561.1,736.8 561.7,762.5 562.2,745.3 562.7,728.2 563.2,742.5 563.7,696.8 564.2,765.3 564.7,776.7 565.2,728.2 565.7,739.6 566.2,788.2 566.8,782.4 567.3,788.2 567.8,785.3 568.3,748.2 568.8,791.0 569.3,719.6 569.8,788.2 570.3,739.6 570.8,776.7 571.3,713.9 571.9,811.0 572.4,733.9 572.9,771.0 573.4,756.7 573.9,762.5 574.4,745.3 574.9,793.9 575.4,773.9 575.9,799.6 576.4,776.7 577.0,742.5 577.5,793.9 578.0,702.5 578.5,779.6 579.0,753.9 579.5,722.5 580.0,745.3 580.5,822.4 581.0,773.9 581.5,776.7 582.1,799.6 582.6,742.5 583.1,825.3 583.6,722.5 584.1,728.2 584.6,788.2 585.1,813.9 585.6,768.2 586.1,708.2 586.6,725.3 587.2,765.3 587.7,725.3 588.2,739.6 588.7,753.9 589.2,753.9 589.7,739.6 590.2,719.6 590.7,696.8 591.2,771.0 591.7,753.9 592.3,808.2 592.8,719.6 593.3,785.3 593.8,753.9 594.3,751.0 594.8,762.5 595.3,728.2 595.8,745.3 596.3,753.9 596.8,699.6 597.4,779.6 597.9,788.2 598.4,782.4 598.9,748.2 599.4,762.5 599.9,708.2 600.4,733.9 600.9,644.3 601.4,725.3 601.9,748.2 602.5,779.6 603.0,788.2 603.5,791.0 604.0,779.6 604.5,736.8 605.0,728.2 605.5,785.3 606.0,702.5 606.5,799.6 607.0,722.5 607.6,711.0 608.1,771.0 608.6,785.3 609.1,751.0 609.6,702.5 610.1,782.4 610.6,713.9 611.1,725.3 611.6,696.8 612.1,751.0 612.7,788.2 613.2,719.6 613.7,702.5 614.2,782.4 614.7,745.3 615.2,711.0 615.7,759.6 616.2,716.8 616.7,748.2 617.2,725.3 617.8,736.8 618.3,788.2 618.8,771.0 619.3,776.7 619.8,745.3 620.3,791.0 620.8,756.7 621.3,785.3 621.8,742.5 622.3,748.2 622.9,719.6 623.4,808.2 623.9,713.9 624.4,745.3 624.9,742.5 625.4,762.5 625.9,768.2 626.4,742.5 626.9,685.3 627.4,708.2 628.0,753.9 628.5,662.5 629.0,696.8 629.5,756.7 630.0,713.9 630.5,693.9 631.0,731.0 631.5,776.7 632.0,728.2 632.5,716.8 633.1,751.0 633.6,745.3 634.1,725.3 634.6,728.2 635.1,765.3 635.6,748.2 636.1,699.6 636.6,739.6 637.1,742.5 637.6,765.3 638.2,739.6 638.7,679.6 639.2,773.9 639.7,736.8 640.2,728.2 640.7,716.8 641.2,731.0 641.7,731.0 642.2,711.0 642.7,736.8 643.3,739.6 643.8,751.0 644.3,762.5 644.8,736.8 645.3,751.0 645.8,759.6 646.3,711.0 646.8,728.2 647.3,853.8 647.8,725.3 648.4,731.0 648.9,771.0 649.4,771.0 649.9,691.1 650.4,725.3 650.9,733.9 651.4,668.2 651.9,682.5 652.4,739.6 652.9,716.8 653.5,733.9 654.0,756.7 654.5,745.3 655.0,742.5 655.5,728.2 656.0,733.9 656.5,699.6 657.0,713.9 657.5,725.3 658.0,796.7 658.6,702.5 659.1,716.8 659.6,716.8 660.1,731.0 660.6,753.9 661.1,736.8 661.6,736.8 662.1,716.8 662.6,725.3 663.1,742.5 663.7,662.5 664.2,762.5 664.7,753.9 665.2,819.6 665.7,676.8 666.2,708.2 666.7,751.0 667.2,736.8 667.7,759.6 668.2,791.0 668.8,739.6 669.3,693.9 669.8,733.9 670.3,733.9 670.8,765.3 671.3,702.5 671.8,788.2 672.3,725.3 672.8,742.5 673.3,731.0 673.9,736.8 674.4,736.8 674.9,699.6 675.4,679.6 675.9,716.8 676.4,742.5 676.9,673.9 677.4,699.6 677.9,685.3 678.4,693.9 679.0,756.7 679.5,713.9 680.0,719.6 680.5,745.3 681.0,745.3 681.5,705.3 682.0,699.6 682.5,762.5 683.0,742.5 683.5,773.9 684.1,756.7 684.6,739.6 685.1,725.3 685.6,739.6 686.1,745.3 686.6,728.2 687.1,708.2 687.6,728.2 688.1,796.7 688.6,671.1 689.2,751.0 689.7,765.3 690.2,725.3 690.7,699.6 691.2,768.2 691.7,711.0 692.2,742.5 692.7,708.2 693.2,728.2 693.7,688.2 694.3,705.3 694.8,759.6 695.3,696.8 695.8,673.9 696.3,648.2 696.8,745.3 697.3,739.6 697.8,711.0 698.3,699.6 698.8,742.5 699.4,739.6 699.9,725.3 700.4,733.9 700.9,762.5 701.4,688.2 701.9,733.9 702.4,691.1 702.9,702.5 703.4,705.3 703.9,685.3 704.5,728.2 705.0,682.5 705.5,651.1 706.0,719.6 706.5,711.0 707.0,688.2 707.5,685.3 708.0,796.7 708.5,708.2 709.0,719.6 709.6,762.5 710.1,739.6 710.6,745.3 711.1,713.9 711.6,713.9 712.1,711.0 712.6,791.0 713.1,725.3 713.6,711.0 714.1,742.5 714.7,713.9 715.2,708.2 715.7,716.8 716.2,748.2 716.7,719.6 717.2,645.4 717.7,699.6 718.2,711.0 718.7,728.2 719.2,733.9 719.8,728.2 720.3,719.6 720.8,631.1 721.3,759.6 721.8,668.2 722.3,756.7 722.8,673.9 723.3,722.5 723.8,713.9 724.3,751.0 724.9,622.5 725.4,705.3 725.9,725.3 726.4,693.9 726.9,779.6 727.4,731.0 727.9,728.2 728.4,705.3 728.9,756.7 729.4,633.9 730.0,708.2 730.5,759.6 731.0,699.6 731.5,725.3 732.0,719.6 732.5,719.6 733.0,716.8 733.5,691.1 734.0,693.9 734.5,702.5 735.1,722.5 735.6,696.8 736.1,722.5 736.6,696.8 737.1,751.0 737.6,659.6 738.1,768.2 738.6,691.1 739.1,745.3 739.6,719.6 740.2,756.7 740.7,711.0 741.2,702.5 741.7,711.0 742.2,688.2 742.7,691.1 743.2,711.0 743.7,742.5 744.2,728.2 744.7,725.3 745.3,736.8 745.8,702.5 746.3,731.0 746.8,742.5 747.3,773.9 747.8,722.5 748.3,736.8 748.8,708.2 749.3,765.3 749.8,751.0 750.4,785.3 750.9,691.1 751.4,745.3 751.9,753.9 752.4,651.1 752.9,725.3 753.4,685.3 753.9,708.2 754.4,696.8 754.9,728.2 755.5,739.6 756.0,751.0 756.5,682.5 757.0,702.5 757.5,696.8 758.0,613.1 758.5,685.3 759.0,722.5 759.5,779.6 760.0,665.4 760.6,739.6 761.1,765.3 761.6,733.9 762.1,691.1 762.6,751.0 763.1,676.8 763.6,739.6 764.1,702.5 764.6,725.3 765.1,736.8 765.7,748.2 766.2,742.5 766.7,799.6 767.2,639.6 767.7,725.3 768.2,725.3 768.7,656.8 769.2,705.3 769.7,710.8 770.2,684.7 770.8,746.4 771.3,700.8 771.8,655.2 772.3,636.2 772.8,704.6 773.3,659.6 773.8,651.1 774.3,591.9 774.8,546.1 775.3,522.6 775.9,578.3 776.4,544.0 776.9,592.5 777.4,637.4 777.9,631.6 778.4,659.3 778.9,702.1 779.4,615.4 779.9,669.5 780.4,755.0 781.0,670.4 781.5,719.4 782.0,719.6 782.5,736.7 783.0,676.8 783.5,725.3 784.0,722.5 784.5,699.6 785.0,733.9 785.5,653.9 786.1,731.0 786.6,759.6 787.1,693.9 787.6,665.4 788.1,725.3 788.6,759.6 789.1,742.5 789.6,682.5 790.1,682.5 790.6,739.6 791.2,711.0 791.7,685.3 792.2,711.0 792.7,719.6 793.2,702.5 793.7,611.1 794.2,708.2 794.7,768.2 795.2,696.8 795.7,773.9 796.3,739.6 796.8,705.3 797.3,685.3 797.8,702.5 798.3,688.2 798.8,725.3 799.3,702.5 799.8,731.0 800.3,676.8 800.8,776.7 801.4,682.5 801.9,688.2 802.4,713.9 802.9,725.3 803.4,731.0 803.9,759.6 804.4,728.2 804.9,676.8 805.4,648.2 805.9,753.9 806.5,668.2 807.0,751.0 807.5,676.8 808.0,699.6 808.5,771.0 809.0,691.1 809.5,756.7 810.0,693.9 810.5,739.6 811.0,773.9 811.6,688.2 812.1,731.0 812.6,708.2 813.1,705.3 813.6,756.7 814.1,731.0 814.6,745.3 815.1,759.6 815.6,731.0 816.1,728.2 816.7,762.5 817.2,722.5 817.7,662.5 818.2,713.9 818.7,656.8 819.2,696.8 819.7,648.2 820.2,759.6 820.7,748.2 821.2,642.5 821.8,748.2 822.3,722.5 822.8,613.9 823.3,731.0 823.8,751.0 824.3,739.6 824.8,722.5 825.3,731.0 825.8,708.2 826.3,659.6 826.9,725.3 827.4,762.5 827.9,791.0 828.4,713.9 828.9,685.3 829.4,762.5 829.9,673.9 830.4,711.0 830.9,748.2 831.4,739.6 832.0,699.6 832.5,722.5 833.0,671.1 833.5,719.6 834.0,648.2 834.5,759.6 835.0,668.2 835.5,702.5 836.0,671.1 836.5,759.6 837.1,685.2 837.6,750.4 838.1,745.9 838.6,724.1 839.1,696.0 839.6,685.6 840.1,663.9 840.6,627.4 841.1,557.9 841.6,546.1 842.2,479.7 842.7,530.9 843.2,562.6 843.7,681.3 844.2,636.7 844.7,703.7 845.2,692.5 845.7,670.4 846.2,747.1 846.7,707.9 847.3,705.3 847.8,716.7 848.3,711.0 848.8,745.3 849.3,751.0 849.8,708.2 850.3,668.2 850.8,802.4 851.3,691.1 851.8,711.0 852.4,665.4 852.9,751.0 853.4,645.4 853.9,665.4 854.4,731.0 854.9,691.1 855.4,711.0 855.9,788.2 856.4,665.4 856.9,628.2 857.5,625.4 858.0,671.1 858.5,702.5 859.0,699.6 859.5,751.0 860.0,705.3 860.5,736.8 861.0,719.6 861.5,688.2 862.0,768.2 862.6,716.8 863.1,685.3 863.6,696.8 864.1,711.0 864.6,668.2 865.1,713.9 865.6,702.5 866.1,665.4 866.6,753.9 867.1,771.0 867.7,682.5 868.2,693.9 868.7,719.6 869.2,748.2 869.7,708.2 870.2,708.2 870.7,688.2 871.2,765.3 871.7,682.5 872.2,691.1 872.8,753.9 873.3,739.6 873.8,733.9 874.3,765.3 874.8,676.8 875.3,748.2 875.8,751.0 876.3,719.6 876.8,713.9 877.3,788.2 877.9,745.3 878.4,699.6 878.9,691.1 879.4,722.5 879.9,713.9 880.4,696.8 880.9,696.8 881.4,679.6 881.9,711.0 882.4,736.8 883.0,705.3 883.5,688.2 884.0,668.2 884.5,742.5 885.0,725.3 885.5,753.9 886.0,719.6 886.5,716.8 887.0,659.6 887.5,711.0 888.1,679.6 888.6,651.1 889.1,728.2 889.6,736.8 890.1,688.2 890.6,728.2 891.1,691.1 891.6,693.9 892.1,682.5 892.6,745.3 893.2,685.3 893.7,765.3 894.2,676.8 894.7,773.9 895.2,711.0 895.7,679.6 896.2,699.6 896.7,645.4 897.2,736.8 897.7,691.1 898.3,745.3 898.8,731.0 899.3,711.0 899.8,691.1 900.3,682.5 900.8,733.9 901.3,699.6 901.8,699.6 902.3,648.2 902.8,731.0 903.4,713.9 903.9,731.0 904.4,693.9 904.9,653.9 905.4,719.6 905.9,739.6 906.4,691.1 906.9,662.5 907.4,691.1 907.9,773.9 908.5,765.3 909.0,653.9 909.5,771.0 910.0,668.2 910.5,728.2 911.0,725.3 911.5,662.5 912.0,725.3 912.5,682.5 913.0,725.3 913.6,671.1 914.1,719.6 914.6,771.0 915.1,688.2 915.6,639.6 916.1,733.9 916.6,725.3 917.1,668.2 917.6,716.8 918.1,705.3 918.7,679.6 919.2,659.6 919.7,731.0 920.2,693.9 920.7,693.9 921.2,691.1 921.7,719.6 922.2,682.5 922.7,702.5 923.2,671.1 923.8,705.3 924.3,656.8 924.8,711.0 925.3,645.4 925.8,705.3 926.3,731.0 926.8,745.3 927.3,708.2 927.8,682.5 928.3,699.6 928.9,699.6 929.4,713.9 929.9,768.2 930.4,696.8 930.9,713.9 931.4,728.2 931.9,705.3 932.4,713.9 932.9,659.6 933.4,705.3 934.0,722.5 934.5,688.2 935.0,676.8 935.5,691.1 936.0,725.3 936.5,665.4 937.0,659.6 937.5,725.3 938.0,725.3 938.5,708.2 939.1,685.3 939.6,751.0 940.1,673.9 940.6,685.3 941.1,682.5 941.6,676.8 942.1,702.5 942.6,762.5 943.1,679.6 943.6,716.8 944.2,688.2 944.7,676.8 945.2,705.3 945.7,622.5 946.2,716.8 946.7,671.1 947.2,713.9 947.7,699.6 948.2,719.6 948.7,711.0 949.3,736.8 949.8,722.5 950.3,736.8 950.8,796.7 951.3,745.3 951.8,676.8 952.3,713.9 952.8,716.8 953.3,682.5 953.8,685.3 954.4,719.6 954.9,731.0 955.4,719.6 955.9,708.2 956.4,711.0 956.9,702.5 957.4,742.5 957.9,705.3 958.4,668.2 958.9,662.5 959.5,708.2 960.0,753.9 960.5,659.6 961.0,616.8 961.5,711.0 962.0,713.9 962.5,719.6 963.0,722.5 963.5,648.2 964.0,708.2 964.6,696.8 965.1,719.6 965.6,722.5 966.1,742.5 966.6,753.9 967.1,719.6 967.6,722.5 968.1,682.5 968.6,733.9 969.1,722.5 969.7,725.3 970.2,688.2 970.7,668.2 971.2,673.9 971.7,722.5 972.2,645.4 972.7,702.5 973.2,745.3 973.7,719.6 974.2,668.2 974.8,713.9 975.3,716.8 975.8,708.2 976.3,745.3 976.8,756.7 977.3,733.9 977.8,742.5 978.3,668.2 978.8,722.5 979.3,708.2 979.9,742.5 980.4,651.1 980.9,659.6 981.4,719.6 981.9,788.2 982.4,745.3 982.9,722.5 983.4,671.1 983.9,685.3 984.4,699.6 985.0,696.8 985.5,716.8 986.0,733.9 986.5,682.5 987.0,711.0 987.5,636.8 988.0,662.5 988.5,665.4 989.0,691.1 989.5,702.5 990.1,699.6 990.6,659.6 991.1,739.6 991.6,702.5 992.1,731.0 992.6,719.6 993.1,668.2 993.6,725.3 994.1,713.9 994.6,693.9 995.2,673.9 995.7,685.3 996.2,656.8 996.7,668.2 997.2,648.2 997.7,688.2 998.2,622.5 998.7,685.3 999.2,745.3 999.7,679.6 1000.3,659.6 1000.8,756.7 1001.3,699.6 1001.8,725.3 1002.3,693.9 1002.8,653.9 1003.3,751.0 1003.8,671.1 1004.3,702.5 1004.8,665.4 1005.4,699.6 1005.9,722.5 1006.4,739.6 1006.9,633.9 1007.4,645.4 1007.9,673.9 1008.4,676.8 1008.9,731.0 1009.4,673.9 1009.9,759.6 1010.5,679.6 1011.0,736.8 1011.5,725.3 1012.0,708.2 1012.5,668.2 1013.0,722.5 1013.5,771.0 1014.0,722.5 1014.5,713.9 1015.0,662.5 1015.6,722.5 1016.1,748.2 1016.6,679.6 1017.1,648.2 1017.6,705.3 1018.1,708.2 1018.6,688.2 1019.1,722.5 1019.6,685.3 1020.1,705.3 1020.7,722.5 1021.2,716.8 1021.7,688.2 1022.2,705.3 1022.7,711.0 1023.2,759.6 1023.7,671.1 1024.2,676.8 1024.7,719.6 1025.2,702.5 1025.8,642.5 1026.3,739.6 1026.8,668.2 1027.3,768.2 1027.8,745.3 1028.3,771.0 1028.8,682.5 1029.3,756.7 1029.8,708.2 1030.3,671.1 1030.9,725.3 1031.4,765.3 1031.9,731.0 1032.4,688.2 1032.9,725.3 1033.4,671.1 1033.9,728.2 1034.4,633.9 1034.9,679.6 1035.4,716.8 1036.0,711.0 1036.5,716.8 1037.0,645.4 1037.5,733.9 1038.0,699.6 1038.5,662.5 1039.0,713.9 1039.5,682.5 1040.0,731.0 1040.5,716.8 1041.1,753.9 1041.6,696.8 1042.1,751.0 1042.6,708.2 1043.1,682.5 1043.6,691.1 1044.1,673.9 1044.6,613.9 1045.1,691.1 1045.6,702.5 1046.2,662.5 1046.7,708.2 1047.2,756.7 1047.7,756.7 1048.2,665.4 1048.7,793.9 1049.2,688.2 1049.7,716.8 1050.2,679.6 1050.7,733.9 1051.3,739.6 1051.8,725.3 1052.3,745.3 1052.8,748.2 1053.3,751.0 1053.8,682.5 1054.3,671.1 1054.8,711.0 1055.3,685.3 1055.8,691.1 1056.4,693.9 1056.9,739.6 1057.4,659.6 1057.9,691.1 1058.4,705.3 1058.9,725.3 1059.4,756.7 1059.9,728.2 1060.4,722.5 1060.9,685.3 1061.5,662.5 1062.0,731.0 1062.5,679.6 1063.0,739.6 1063.5,773.9 1064.0,653.9 1064.5,728.2 1065.0,642.5 1065.5,782.4 1066.0,691.1 1066.6,693.9 1067.1,676.8 1067.6,665.4 1068.1,708.2 1068.6,742.5 1069.1,671.1 1069.6,771.0 1070.1,691.1 1070.6,793.9 1071.1,762.5 1071.7,756.7 1072.2,711.0 1072.7,699.6 1073.2,773.9 1073.7,673.9 1074.2,688.2 1074.7,699.6 1075.2,782.4 1075.7,739.6 1076.2,656.8 1076.8,776.7 1077.3,651.1 1077.8,659.6 1078.3,679.6 1078.8,716.8 1079.3,651.1 1079.8,728.2 1080.3,748.2 1080.8,739.6 1081.3,713.9 1081.9,713.9 1082.4,753.9 1082.9,731.0 1083.4,742.5 1083.9,699.6 1084.4,733.9 1084.9,671.1 1085.4,708.2 1085.9,708.2 1086.4,765.3 1087.0,691.1 1087.5,711.0 1088.0,702.5 1088.5,753.9 1089.0,696.8 1089.5,753.9 1090.0,699.6 1090.5,656.8 1091.0,676.8 1091.5,733.9 1092.1,708.2 1092.6,705.3 1093.1,713.9 1093.6,659.6 1094.1,696.8 1094.6,731.0 1095.1,716.8 1095.6,699.6 1096.1,745.3 1096.6,642.5 1097.2,676.8 1097.7,665.4 1098.2,753.9 1098.7,722.5 1099.2,696.8 1099.7,679.6 1100.2,762.5 1100.7,702.5 1101.2,668.2 1101.7,665.4 1102.3,745.3 1102.8,768.2 1103.3,702.5 1103.8,688.2 1104.3,736.8 1104.8,716.8 1105.3,708.2 1105.8,725.3 1106.3,671.1 1106.8,771.0 1107.4,719.6 1107.9,736.8 1108.4,733.9 1108.9,739.6 1109.4,719.6 1109.9,711.0 1110.4,751.0 1110.9,719.6 1111.4,651.1 1111.9,751.0 1112.5,673.9 1113.0,673.9 1113.5,682.5 1114.0,748.2 1114.5,682.5 1115.0,753.9 1115.5,748.2 1116.0,765.3 1116.5,691.1 1117.0,768.2 1117.6,719.6 1118.1,756.7 1118.6,642.5 1119.1,759.6 1119.6,711.0 1120.1,725.3 1120.6,756.7 1121.1,702.5 1121.6,662.5 1122.1,705.3 1122.7,673.9 1123.2,756.7 1123.7,771.0 1124.2,751.0 1124.7,699.6 1125.2,685.3 1125.7,719.6 1126.2,713.9 1126.7,671.1 1127.2,728.2 1127.8,676.8 1128.3,759.6 1128.8,688.2 1129.3,751.0 1129.8,691.1 1130.3,722.5 1130.8,725.3 1131.3,765.3 1131.8,733.9 1132.3,713.9 1132.9,716.8 1133.4,748.2 1133.9,711.0 1134.4,756.7 1134.9,713.9 1135.4,708.2 1135.9,768.2 1136.4,736.8 1136.9,748.2 1137.4,742.5 1138.0,722.5 1138.5,779.6 1139.0,748.2 1139.5,742.5 1140.0,736.8 1140.5,676.8 1141.0,656.8 1141.5,719.6 1142.0,742.5 1142.5,745.3 1143.1,673.9 1143.6,773.9 1144.1,751.0 1144.6,742.5 1145.1,742.5 1145.6,773.9 1146.1,722.5 1146.6,696.8 1147.1,708.2 1147.6,739.6 1148.2,791.0 1148.7,733.9 1149.2,753.9 1149.7,648.2 1150.2,762.5 1150.7,719.6 1151.2,739.6 1151.7,773.9 1152.2,733.9 1152.7,659.6 1153.3,682.5 1153.8,713.9 1154.3,759.6 1154.8,751.0 1155.3,713.9 1155.8,713.9 1156.3,691.1 1156.8,725.3 1157.3,756.7 1157.8,693.9 1158.4,742.5 1158.9,722.5 1159.4,831.0 1159.9,688.2 1160.4,728.2 1160.9,793.9 1161.4,722.5 1161.9,765.3 1162.4,719.6 1162.9,736.8 1163.5,733.9 1164.0,796.7 1164.5,719.6 1165.0,762.5 1165.5,756.7 1166.0,759.6 1166.5,725.3 1167.0,656.8 1167.5,713.9 1168.0,699.6 1168.6,748.2 1169.1,768.2 1169.6,762.5 1170.1,748.2 1170.6,776.7 1171.1,736.8 1171.6,765.3 1172.1,765.3 1172.6,688.2 1173.1,702.5 1173.7,776.7 1174.2,713.9 1174.7,682.5 1175.2,722.5 1175.7,791.0 1176.2,739.6 1176.7,731.0 1177.2,699.6 1177.7,788.2 1178.2,771.0 1178.8,745.3 1179.3,785.3 1179.8,733.9 1180.3,751.0 1180.8,811.0 1181.3,762.5 1181.8,751.0 1182.3,711.0 1182.8,773.9 1183.3,773.9 1183.9,696.8 1184.4,736.8 1184.9,753.9 1185.4,719.6 1185.9,751.0 1186.4,796.7 1186.9,739.6 1187.4,779.6 1187.9,788.2 1188.4,788.2 1189.0,736.8 1189.5,782.4 1190.0,739.6 1190.5,753.9 1191.0,725.3 1191.5,722.5 1192.0,756.7 1192.5,691.1 1193.0,802.4 1193.5,782.4 1194.1,736.8 1194.6,719.6 1195.1,719.6 1195.6,748.2 1196.1,722.5 1196.6,725.3 1197.1,796.7 1197.6,739.6 1198.1,745.3 1198.6,773.9 1199.2,756.7 1199.7,733.9 1200.2,716.8 1200.7,762.5 1201.2,811.0 1201.7,753.9 1202.2,713.9 1202.7,771.0 1203.2,705.3 1203.7,696.8 1204.3,796.7 1204.8,793.9 1205.3,756.7 1205.8,736.8 1206.3,751.0 1206.8,728.2 1207.3,693.9 1207.8,782.4 1208.3,759.6 1208.8,719.6 1209.4,771.0 1209.9,779.6 1210.4,736.8 1210.9,725.3 1211.4,779.6 1211.9,753.9 1212.4,751.0 1212.9,768.2 1213.4,788.2 1213.9,736.8 1214.5,753.9 1215.0,753.9 1215.5,713.9 1216.0,736.8 1216.5,705.3 1217.0,782.4 1217.5,799.6 1218.0,756.7 1218.5,779.6 1219.0,759.6 1219.6,722.5 1220.1,696.8 1220.6,779.6 1221.1,771.0 1221.6,708.2 1222.1,799.6 1222.6,736.8 1223.1,708.2 1223.6,776.7 1224.1,773.9 1224.7,748.2 1225.2,759.6 1225.7,713.9 1226.2,682.5 1226.7,753.9 1227.2,816.7 1227.7,828.1 1228.2,771.0 1228.7,796.7 1229.2,799.6 1229.8,759.6 1230.3,788.2 1230.8,722.5 1231.3,725.3 1231.8,736.8 1232.3,776.7 1232.8,796.7 1233.3,745.3 1233.8,745.3 1234.3,776.7 1234.9,725.3 1235.4,776.7 1235.9,745.3 1236.4,805.3 1236.9,719.6 1237.4,782.4 1237.9,771.0 1238.4,748.2 1238.9,831.0 1239.4,813.9 1240.0,805.3 1240.5,742.5 1241.0,776.7 1241.5,776.7 1242.0,779.6 1242.5,753.9 1243.0,773.9 1243.5,779.6 1244.0,771.0 1244.5,765.3 1245.1,759.6 1245.6,731.0 1246.1,765.3 1246.6,791.0 1247.1,773.9 1247.6,671.1 1248.1,739.6 1248.6,785.3 1249.1,753.9 1249.6,811.0 1250.2,739.6 1250.7,828.1 1251.2,733.9 1251.7,788.2 1252.2,785.3 1252.7,753.9 1253.2,788.2 1253.7,782.4 1254.2,753.9 1254.7,768.2 1255.3,816.7 1255.8,796.7 1256.3,788.2 1256.8,779.6 1257.3,808.2 1257.8,751.0 1258.3,716.8 1258.8,788.2 1259.3,745.3 1259.8,773.9 1260.4,802.4 1260.9,762.5 1261.4,756.7 1261.9,771.0 1262.4,851.0 1262.9,762.5 1263.4,748.2 1263.9,796.7 1264.4,733.9 1264.9,808.2 1265.5,793.9 1266.0,773.9 1266.5,713.9 1267.0,813.9 1267.5,742.5 1268.0,762.5 1268.5,788.2 1269.0,811.0 1269.5,819.6 1270.0,759.6 1270.6,808.2 1271.1,811.0 1271.6,791.0 1272.1,768.2 1272.6,756.7 1273.1,736.8 1273.6,756.7 1274.1,808.2 1274.6,699.6 1275.1,762.5 1275.7,785.3 1276.2,839.6 1276.7,796.7 1277.2,773.9 1277.7,779.6 1278.2,773.9 1278.7,748.2 1279.2,782.4 1279.7,751.0 1280.2,833.9 1280.8,722.5 1281.3,773.9 1281.8,756.7 1282.3,773.9 1282.8,793.9 1283.3,756.7 1283.8,768.2 1284.3,733.9 1284.8,731.0 1285.3,736.8 1285.9,805.3 1286.4,725.3 1286.9,771.0 1287.4,808.2 1287.9,773.9 1288.4,765.3 1288.9,771.0 1289.4,825.3 1289.9,759.6 1290.4,771.0 1291.0,776.7 1291.5,785.3 1292.0,816.7 1292.5,745.3 1293.0,822.4 1293.5,765.3 1294.0,788.2 1294.5,779.6 1295.0,728.2 1295.5,745.3 1296.1,788.2 1296.6,808.2 1297.1,791.0 1297.6,776.7 1298.1,759.6 1298.6,793.9 1299.1,748.2 1299.6,745.3 1300.1,813.9 1300.6,733.9 1301.2,776.7 1301.7,782.4 1302.2,793.9 1302.7,736.8 1303.2,793.9 1303.7,742.5 1304.2,793.9 1304.7,779.6 1305.2,748.2 1305.7,711.0 1306.3,799.6 1306.8,791.0 1307.3,785.3 1307.8,788.2 1308.3,782.4 1308.8,771.0 1309.3,765.3 1309.8,811.0 1310.3,799.6 1310.8,822.4 1311.4,782.4 1311.9,728.2 1312.4,791.0 1312.9,839.6 1313.4,765.3 1313.9,759.6 1314.4,731.0 1314.9,776.7 1315.4,771.0 1315.9,779.6 1316.5,793.9 1317.0,751.0 1317.5,793.9 1318.0,791.0 1318.5,782.4 1319.0,765.3 1319.5,762.5 1320.0,811.0 1320.5,796.7 1321.0,828.1 1321.6,782.4 1322.1,776.7 1322.6,796.7 1323.1,782.4 1323.6,708.2 1324.1,773.9 1324.6,765.3 1325.1,762.5 1325.6,771.0 1326.1,808.2 1326.7,759.6 1327.2,751.0 1327.7,813.9 1328.2,756.7 1328.7,802.4 1329.2,839.6 1329.7,828.1 1330.2,802.4 1330.7,793.9 1331.2,776.7 1331.8,759.6 1332.3,771.0 1332.8,802.4 1333.3,762.5 1333.8,788.2 1334.3,768.2 1334.8,785.3 1335.3,813.9 1335.8,842.4 1336.3,788.2 1336.9,842.4 1337.4,733.9 1337.9,745.3 1338.4,742.5 1338.9,819.6 1339.4,808.2 1339.9,796.7 1340.4,771.0 1340.9,813.9 1341.4,771.0 1342.0,759.6 1342.5,805.3 1343.0,799.6 1343.5,728.2 1344.0,836.7 1344.5,742.5 1345.0,831.0 1345.5,802.4 1346.0,808.2 1346.5,802.4 1347.1,799.6 1347.6,762.5 1348.1,839.6 1348.6,791.0 1349.1,762.5 1349.6,748.2 1350.1,776.7 1350.6,762.5 1351.1,839.6 1351.6,751.0 1352.2,811.0 1352.7,788.2 1353.2,811.0 1353.7,773.9 1354.2,771.0 1354.7,759.6 1355.2,779.6 1355.7,805.3 1356.2,762.5 1356.7,776.7 1357.3,719.6 1357.8,793.9 1358.3,791.0 1358.8,756.7 1359.3,813.9 1359.8,773.9 1360.3,776.7 1360.8,802.4 1361.3,768.2 1361.8,739.6 1362.4,788.2 1362.9,745.3 1363.4,753.9 1363.9,811.0 1364.4,813.9 1364.9,799.6 1365.4,745.3 1365.9,751.0 1366.4,782.4 1366.9,785.3 1367.5,759.6 1368.0,805.3 1368.5,796.7 1369.0,845.3 1369.5,725.3 1370.0,802.4 1370.5,799.6 1371.0,839.6 1371.5,785.3 1372.0,785.3 1372.6,756.7 1373.1,776.7 1373.6,842.4 1374.1,805.3 1374.6,756.7 1375.1,756.7 1375.6,765.3 1376.1,768.2 1376.6,785.3 1377.1,773.9 1377.7,808.2 1378.2,793.9 1378.7,793.9 1379.2,702.5 1379.7,833.9 1380.2,819.6 1380.7,796.7 1381.2,771.0 1381.7,785.3 1382.2,773.9 1382.8,759.6 1383.3,802.4 1383.8,828.0 1384.3,784.8 1384.8,800.9 1385.3,815.2 1385.8,814.5 1386.3,736.6 1386.8,739.3 1387.3,652.5 1387.9,675.0 1388.4,652.5 1388.9,631.1 1389.4,660.3 1389.9,684.3 1390.4,679.9 1390.9,670.0 1391.4,745.3 1391.9,784.0 1392.4,758.5 1393.0,799.8 1393.5,813.0 1394.0,807.9 1394.5,819.5 1395.0,799.6 1395.5,771.0 1396.0,779.6 1396.5,799.6 1397.0,788.2 1397.5,799.6 1398.1,748.2 1398.6,782.4 1399.1,851.0 1399.6,819.6 1400.1,788.2 1400.6,831.0 1401.1,782.4 1401.6,725.3 1402.1,796.7 1402.6,745.3 1403.2,791.0 1403.7,791.0 1404.2,788.2 1404.7,796.7 1405.2,759.6 1405.7,785.3 1406.2,768.2 1406.7,753.9 1407.2,768.2 1407.7,771.0 1408.3,831.0 1408.8,759.6 1409.3,759.6 1409.8,722.5 1410.3,793.9 1410.8,811.0 1411.3,765.3 1411.8,791.0 1412.3,788.2 1412.8,736.8 1413.4,768.2 1413.9,831.0 1414.4,808.2 1414.9,839.6 1415.4,819.6 1415.9,748.2 1416.4,773.9 1416.9,842.4 1417.4,788.2 1417.9,736.8 1418.5,819.6 1419.0,819.6 1419.5,791.0 1420.0,785.3 1420.5,796.7 1421.0,802.4 1421.5,759.6 1422.0,796.7 1422.5,802.4 1423.0,782.4 1423.6,753.9 1424.1,816.7 1424.6,762.5 1425.1,793.9 1425.6,768.2 1426.1,785.3 1426.6,762.5 1427.1,808.2 1427.6,836.7 1428.1,842.4 1428.7,802.4 1429.2,805.3 1429.7,793.9 1430.2,833.9 1430.7,771.0 1431.2,836.7 1431.7,771.0 1432.2,819.6 1432.7,762.5 1433.2,825.3 1433.8,776.7 1434.3,805.3 1434.8,822.4 1435.3,782.4 1435.8,788.2 1436.3,753.9 1436.8,771.0 1437.3,791.0 1437.8,739.6 1438.3,731.0 1438.9,813.9 1439.4,779.6 1439.9,813.9 1440.4,759.6 1440.9,811.0 1441.4,756.7 1441.9,788.2 1442.4,739.6 1442.9,813.9 1443.4,853.8 1444.0,816.7 1444.5,828.1 1445.0,808.2 1445.5,782.4 1446.0,742.5 1446.5,745.3 1447.0,819.6 1447.5,788.1 1448.0,770.6 1448.5,772.3 1449.1,723.5 1449.6,795.9 1450.1,786.4 1450.6,698.2 1451.1,715.4 1451.6,673.8 1452.1,667.8 1452.6,619.7 1453.1,676.2 1453.6,680.2 1454.2,696.5 1454.7,781.0 1455.2,766.7 1455.7,763.4 1456.2,825.4 1456.7,790.2 1457.2,770.8 1457.7,759.6 1458.2,828.1 1458.7,776.7 1459.3,859.6 1459.8,791.0 1460.3,782.4 1460.8,765.3 1461.3,799.6 1461.8,768.2 1462.3,791.0 1462.8,742.5 1463.3,773.9 1463.8,831.0 1464.4,816.7 1464.9,802.4 1465.4,742.5 1465.9,751.0 1466.4,805.3 1466.9,731.0 1467.4,828.1 1467.9,816.7 1468.4,782.4 1468.9,799.6 1469.5,793.9 1470.0,756.7 1470.5,831.0 1471.0,796.7 1471.5,788.2 1472.0,831.0 1472.5,805.3 1473.0,802.4 1473.5,748.2 1474.0,788.2 1474.6,811.0 1475.1,751.0 1475.6,813.9 1476.1,822.4 1476.6,805.3 1477.1,759.6 1477.6,776.7 1478.1,793.9 1478.6,779.6 1479.1,762.5 1479.7,779.6 1480.2,816.7 1480.7,773.9 1481.2,771.0 1481.7,793.9 1482.2,811.0 1482.7,791.0 1483.2,791.0 1483.7,811.0 1484.2,816.7 1484.8,776.7 1485.3,773.9 1485.8,773.9 1486.3,773.9 1486.8,742.5 1487.3,762.5 1487.8,831.0 1488.3,802.4 1488.8,771.0 1489.3,791.0 1489.9,799.6 1490.4,759.6 1490.9,745.3 1491.4,811.0 1491.9,728.2 1492.4,742.5 1492.9,771.0 1493.4,793.9 1493.9,691.1 1494.4,808.2 1495.0,691.1 1495.5,788.2 1496.0,725.3 1496.5,822.4 1497.0,745.3 1497.5,768.2 1498.0,739.6 1498.5,791.0 1499.0,759.6 1499.5,759.6 1500.1,759.6 1500.6,811.0 1501.1,782.4 1501.6,811.0 1502.1,722.5 1502.6,791.0 1503.1,773.9 1503.6,773.9 1504.1,796.7 1504.6,765.3 1505.2,771.0 1505.7,768.2 1506.2,831.0 1506.7,836.7 1507.2,759.6 1507.7,762.5 1508.2,788.2 1508.7,739.6 1509.2,773.9 1509.7,768.2 1510.3,799.6 1510.8,813.9 1511.3,776.7 1511.8,833.9 1512.3,762.5 1512.8,756.7 1513.3,785.3 1513.8,782.4 1514.3,782.4 1514.8,779.6 1515.4,759.6 1515.9,785.3 1516.4,793.9 1516.9,791.0 1517.4,788.2 1517.9,813.9 1518.4,776.7 1518.9,762.5 1519.4,782.4 1519.9,813.9 1520.5,813.9 1521.0,756.7 1521.5,759.6 1522.0,748.2 1522.5,691.1 1523.0,762.5 1523.5,802.4 1524.0,802.4 1524.5,811.0 1525.0,776.7 1525.6,768.2 1526.1,756.7 1526.6,785.3 1527.1,839.6 1527.6,768.2 1528.1,719.6 1528.6,771.0 1529.1,762.5 1529.6,808.2 1530.1,731.0 1530.7,753.9 1531.2,762.5 1531.7,753.9 1532.2,796.7 1532.7,713.9 1533.2,819.6 1533.7,753.9 1534.2,808.2 1534.7,808.2 1535.2,771.0 1535.8,742.5 1536.3,816.7 1536.8,805.3 1537.3,788.2 1537.8,771.0 1538.3,822.4 1538.8,776.7 1539.3,711.0 1539.8,765.3 1540.3,776.7 1540.9,776.7 1541.4,793.9 1541.9,759.6 1542.4,788.2 1542.9,753.9 1543.4,788.2 1543.9,791.0 1544.4,751.0 1544.9,813.9 1545.4,756.7 1546.0,831.0 1546.5,776.7 1547.0,748.2 1547.5,793.9 1548.0,773.9 1548.5,811.0 1549.0,796.7 1549.5,691.1 1550.0,742.5 1550.5,793.9 1551.1,785.3 1551.6,779.6 1552.1,822.4 1552.6,776.7 1553.1,828.1 1553.6,713.9 1554.1,759.6 1554.6,771.0 1555.1,791.0 1555.6,725.3 1556.2,842.4 1556.7,796.7 1557.2,733.9 1557.7,805.3 1558.2,739.6 1558.7,799.6 1559.2,748.2 1559.7,759.6 1560.2,782.4 1560.7,753.9 1561.3,711.0 1561.8,733.9 1562.3,773.9 1562.8,773.9 1563.3,716.8 1563.8,799.6 1564.3,742.5 1564.8,842.4 1565.3,808.2 1565.8,779.6 1566.4,771.0 1566.9,713.9 1567.4,736.8 1567.9,799.6 1568.4,765.3 1568.9,813.9 1569.4,731.0 1569.9,773.9 1570.4,765.3 1570.9,825.3 1571.5,828.1 1572.0,791.0 1572.5,782.4 1573.0,742.5 1573.5,753.9 1574.0,825.3 1574.5,776.7 1575.0,785.3 1575.5,793.9 1576.0,793.9 1576.6,705.3 1577.1,756.7 1577.6,799.6 1578.1,733.9 1578.6,739.6 1579.1,771.0 1579.6,776.7 1580.1,742.5 1580.6,722.5 1581.1,736.8 1581.7,793.9 1582.2,753.9 1582.7,802.4 1583.2,751.0 1583.7,785.3 1584.2,811.0 1584.7,748.2 1585.2,776.7 1585.7,736.8 1586.2,773.9 1586.8,805.3 1587.3,785.3 1587.8,839.6 1588.3,791.0 1588.8,725.3 1589.3,785.3 1589.8,736.8 1590.3,802.4 1590.8,816.7 1591.3,776.7 1591.9,793.9 1592.4,819.6 1592.9,736.8 1593.4,762.5 1593.9,785.3 1594.4,742.5 1594.9,796.7 1595.4,802.4 1595.9,748.2 1596.4,776.7 1597.0,791.0 1597.5,796.7 1598.0,742.5 1598.5,802.4 1599.0,713.9 1599.5,751.0 1600.0,759.6 1600.5,753.9 1601.0,862.4 1601.5,682.5 1602.1,702.5 1602.6,796.7 1603.1,819.6 1603.6,768.2 1604.1,725.3 1604.6,716.8 1605.1,705.3 1605.6,785.3 1606.1,782.4 1606.6,765.3 1607.2,765.3 1607.7,753.9 1608.2,791.0 1608.7,759.6 1609.2,725.3 1609.7,782.4 1610.2,771.0 1610.7,793.9 1611.2,739.6 1611.7,762.5 1612.3,745.3 1612.8,771.0 1613.3,768.2 1613.8,762.5 1614.3,728.2 1614.8,773.9 1615.3,733.9 1615.8,793.9 1616.3,799.6 1616.8,802.4 1617.4,751.0 1617.9,762.5 1618.4,782.4 1618.9,768.2 1619.4,771.0 1619.9,762.5 1620.4,739.6 1620.9,682.5 1621.4,793.9 1621.9,722.5 1622.5,751.0 1623.0,728.2 1623.5,813.9 1624.0,799.6 1624.5,751.0 1625.0,771.0 1625.5,816.7 1626.0,716.8 1626.5,751.0 1627.0,788.2 1627.6,773.9 1628.1,748.2 1628.6,696.8 1629.1,782.4 1629.6,799.6 1630.1,742.5 1630.6,739.6 1631.1,802.4 1631.6,711.0 1632.1,745.3 1632.7,736.8 1633.2,725.3 1633.7,782.4 1634.2,759.6 1634.7,791.0 1635.2,765.3 1635.7,739.6 1636.2,773.9 1636.7,785.3 1637.2,722.5 1637.8,756.7 1638.3,751.0 1638.8,765.3 1639.3,716.8 1639.8,768.2 1640.3,753.9 1640.8,759.6 1641.3,819.6 1641.8,808.2 1642.3,705.3 1642.9,822.4 1643.4,759.6 1643.9,733.9 1644.4,688.2 1644.9,782.4 1645.4,739.6 1645.9,765.3 1646.4,759.6 1646.9,773.9 1647.4,802.4 1648.0,751.0 1648.5,793.9 1649.0,751.0 1649.5,759.6 1650.0,796.7 1650.5,756.7 1651.0,776.7 1651.5,782.4 1652.0,782.4 1652.5,713.9 1653.1,745.3 1653.6,782.4 1654.1,702.5 1654.6,671.1 1655.1,788.2 1655.6,728.2 1656.1,779.6 1656.6,768.2 1657.1,702.5 1657.6,725.3 1658.2,736.8 1658.7,748.2 1659.2,739.6 1659.7,699.6 1660.2,719.6 1660.7,759.6 1661.2,762.5 1661.7,765.3 1662.2,702.5 1662.7,782.4 1663.3,802.4 1663.8,765.3 1664.3,765.3 1664.8,791.0 1665.3,779.6 1665.8,719.6 1666.3,722.5 1666.8,782.4 1667.3,793.9 1667.8,776.7 1668.4,705.3 1668.9,733.9 1669.4,722.5 1669.9,751.0 1670.4,805.3 1670.9,728.2 1671.4,791.0 1671.9,802.4 1672.4,773.9 1672.9,771.0 1673.5,722.5 1674.0,808.2 1674.5,751.0 1675.0,765.3 1675.5,768.2 1676.0,742.5 1676.5,676.8 1677.0,771.0 1677.5,748.2 1678.0,776.7 1678.6,745.3 1679.1,773.9 1679.6,776.7 1680.1,776.7 1680.6,779.6 1681.1,742.5 1681.6,682.5 1682.1,736.8 1682.6,733.9 1683.1,748.2 1683.7,765.3 1684.2,793.9 1684.7,773.9 1685.2,756.7 1685.7,728.2 1686.2,668.2 1686.7,785.3 1687.2,702.5 1687.7,751.0 1688.2,756.7 1688.8,739.6 1689.3,805.3 1689.8,762.5 1690.3,739.6 1690.8,765.3 1691.3,785.3 1691.8,765.3 1692.3,776.7 1692.8,793.9 1693.3,753.9 1693.9,733.9 1694.4,751.0 1694.9,751.0 1695.4,711.0 1695.9,771.0 1696.4,751.0 1696.9,705.3 1697.4,748.2 1697.9,739.6 1698.4,756.7 1699.0,796.7 1699.5,793.9 1700.0,771.0 1700.5,765.3 1701.0,779.6 1701.5,796.7 1702.0,773.9 1702.5,779.6 1703.0,759.6 1703.5,739.6 1704.1,768.2 1704.6,785.3 1705.1,745.3 1705.6,668.2 1706.1,768.2 1706.6,713.9 1707.1,773.9 1707.6,748.2 1708.1,751.0 1708.6,759.6 1709.2,728.2 1709.7,779.6 1710.2,776.7 1710.7,756.7 1711.2,773.9 1711.7,728.2 1712.2,679.6 1712.7,693.9 1713.2,762.5 1713.7,742.5 1714.3,688.2 1714.8,782.4 1715.3,756.7 1715.8,742.5 1716.3,719.6 1716.8,779.6 1717.3,765.3 1717.8,728.2 1718.3,722.5 1718.8,753.9 1719.4,745.3 1719.9,702.5 1720.4,736.8 1720.9,716.8 1721.4,699.6 1721.9,691.1 1722.4,682.5 1722.9,725.3 1723.4,811.0 1723.9,759.6 1724.5,742.5 1725.0,762.5 1725.5,788.2 1726.0,736.8 1726.5,748.2 1727.0,773.9 1727.5,711.0 1728.0,711.0 1728.5,713.9 1729.0,796.7 1729.6,756.7 1730.1,773.9 1730.6,731.0 1731.1,719.6 1731.6,742.5 1732.1,742.5 1732.6,762.5 1733.1,759.6 1733.6,745.3 1734.1,719.6 1734.7,782.4 1735.2,708.2 1735.7,725.3 1736.2,779.6 1736.7,785.3 1737.2,779.6 1737.7,745.3 1738.2,831.0 1738.7,716.8 1739.2,788.2 1739.8,751.0 1740.3,711.0 1740.8,742.5 1741.3,768.2 1741.8,716.8 1742.3,785.3 1742.8,731.0 1743.3,719.6 1743.8,719.6 1744.3,742.5 1744.9,753.9 1745.4,782.4 1745.9,719.6 1746.4,782.4 1746.9,759.6 1747.4,711.0 1747.9,745.3 1748.4,785.3 1748.9,765.3 1749.4,688.2 1750.0,705.3 1750.5,759.6 1751.0,813.9 1751.5,788.2 1752.0,788.2 1752.5,822.4 1753.0,751.0 1753.5,782.4 1754.0,719.6 1754.5,762.5 1755.1,753.9 1755.6,802.4 1756.1,756.7 1756.6,748.2 1757.1,745.3 1757.6,708.2 1758.1,753.9 1758.6,751.0 1759.1,711.0 1759.6,759.6 1760.2,753.9 1760.7,693.9 1761.2,739.6 1761.7,739.6 1762.2,796.7 1762.7,762.5 1763.2,705.3 1763.7,722.5 1764.2,742.5 1764.7,748.2 1765.3,808.2 1765.8,762.5 1766.3,771.0 1766.8,785.3 1767.3,716.8 1767.8,693.9 1768.3,733.9 1768.8,713.9 1769.3,736.8 1769.8,659.6 1770.4,793.9 1770.9,765.3 1771.4,759.6 1771.9,742.5 1772.4,753.9 1772.9,753.9 1773.4,773.9 1773.9,762.5 1774.4,756.7 1774.9,722.5 1775.5,753.9 1776.0,733.9 1776.5,733.9 1777.0,765.3 1777.5,793.9 1778.0,705.3 1778.5,751.0 1779.0,791.0 1779.5,705.3 1780.0,705.3 1780.6,773.9 1781.1,699.6 1781.6,771.0 1782.1,728.2 1782.6,779.6 1783.1,736.8 1783.6,782.4 1784.1,716.8 1784.6,771.0 1785.1,762.5 1785.7,779.6 1786.2,705.3 1786.7,748.2 1787.2,736.8 1787.7,708.2 1788.2,716.8 1788.7,765.3 1789.2,762.5 1789.7,739.6 1790.2,682.5 1790.8,719.6 1791.3,702.5 1791.8,708.2 1792.3,725.3 1792.8,765.3 1793.3,779.6 1793.8,719.6 1794.3,716.8 1794.8,679.6 1795.3,699.6 1795.9,745.3 1796.4,768.2 1796.9,668.2 1797.4,713.9 1797.9,711.0 1798.4,765.3 1798.9,719.6 1799.4,725.3 1799.9,719.6 1800.4,705.3 1801.0,708.2 1801.5,782.4 1802.0,788.2 1802.5,771.0 1803.0,699.6 1803.5,773.9 1804.0,699.6 1804.5,811.0 1805.0,742.5 1805.5,785.3 1806.1,782.4 1806.6,722.5 1807.1,705.3 1807.6,696.8 1808.1,708.2 1808.6,733.9 1809.1,819.6 1809.6,682.5 1810.1,759.6 1810.6,779.6 1811.2,722.5 1811.7,716.8 1812.2,753.9 1812.7,739.6 1813.2,688.2 1813.7,771.0 1814.2,682.5 1814.7,659.6 1815.2,722.5 1815.7,793.9 1816.3,736.8 1816.8,711.0 1817.3,756.7 1817.8,699.6 1818.3,728.2 1818.8,771.0 1819.3,759.6 1819.8,759.6 1820.3,722.5 1820.8,773.9 1821.4,768.2 1821.9,759.6 1822.4,776.7 1822.9,776.7 1823.4,762.5 1823.9,742.5 1824.4,719.6 1824.9,731.0 1825.4,759.6 1825.9,656.8 1826.5,688.2 1827.0,748.2 1827.5,779.6 1828.0,753.9 1828.5,702.5 1829.0,808.2 1829.5,651.1 1830.0,733.9 1830.5,733.9 1831.0,728.2 1831.6,722.5 1832.1,745.3 1832.6,731.0 1833.1,756.7 1833.6,782.4 1834.1,791.0 1834.6,731.0 1835.1,708.2 1835.6,748.2 1836.1,719.6 1836.7,736.8 1837.2,739.6 1837.7,708.2 1838.2,679.6 1838.7,733.9 1839.2,682.5 1839.7,699.6 1840.2,753.9 1840.7,699.6 1841.2,733.9 1841.8,745.3 1842.3,716.8 1842.8,693.9 1843.3,739.6 1843.8,808.2 1844.3,768.2 1844.8,753.9 1845.3,716.8 1845.8,751.0 1846.3,648.2 1846.9,768.2 1847.4,722.5 1847.9,745.3 1848.4,736.8 1848.9,742.5 1849.4,733.9 1849.9,788.2 1850.4,682.5 1850.9,745.3 1851.4,782.4 1852.0,765.3 1852.5,782.4 1853.0,759.6 1853.5,725.3 1854.0,739.6 1854.5,716.8 1855.0,793.9 1855.5,691.1 1856.0,722.5 1856.5,636.0 1857.1,768.2 1857.6,768.2 1858.1,719.6 1858.6,759.6 1859.1,759.6 1859.6,751.0 1860.1,685.3 1860.6,702.5 1861.1,725.3 1861.6,702.5 1862.2,813.9 1862.7,725.3 1863.2,765.3 1863.7,682.5 1864.2,725.3 1864.7,748.2 1865.2,756.7 1865.7,716.8 1866.2,702.5 1866.7,765.3 1867.3,753.9 1867.8,682.5 1868.3,728.2 1868.8,756.7 1869.3,691.1 1869.8,753.9 1870.3,693.9 1870.8,776.7 1871.3,762.5 1871.8,733.9 1872.4,759.6 1872.9,742.5 1873.4,699.6 1873.9,716.8 1874.4,776.7 1874.9,733.9 1875.4,716.8 1875.9,731.0 1876.4,751.0 1876.9,742.5 1877.5,742.5 1878.0,756.7 1878.5,799.6 1879.0,765.3 1879.5,716.8 1880.0,711.0 1880.5,719.6 1881.0,725.3 1881.5,739.6 1882.0,762.5 1882.6,731.0 1883.1,708.2 1883.6,742.5 1884.1,762.5 1884.6,785.3 1885.1,771.0 1885.6,702.5 1886.1,733.9 1886.6,759.6 1887.1,731.0 1887.7,805.3 1888.2,716.8 1888.7,791.0 1889.2,736.8 1889.7,745.3 1890.2,725.3 1890.7,739.6 1891.2,713.9 1891.7,711.0 1892.2,682.5 1892.8,745.3 1893.3,739.6 1893.8,736.8 1894.3,662.5 1894.8,779.6 1895.3,685.3 1895.8,779.6 1896.3,688.2 1896.8,756.7 1897.3,811.0 1897.9,765.3 1898.4,785.3 1898.9,725.3 1899.4,808.2 1899.9,728.2 1900.4,745.3 1900.9,791.0 1901.4,725.3 1901.9,711.0 1902.4,739.6 1903.0,773.9 1903.5,768.2 1904.0,716.8 1904.5,751.0 1905.0,765.3 1905.5,648.2 1906.0,753.9 1906.5,753.9 1907.0,751.0 1907.5,742.5 1908.1,799.6 1908.6,705.3 1909.1,702.5 1909.6,733.9 1910.1,705.3 1910.6,705.3 1911.1,751.0 1911.6,748.2 1912.1,702.5 1912.6,722.5 1913.2,708.2 1913.7,702.5 1914.2,771.0 1914.7,745.3 1915.2,742.5 1915.7,722.5 1916.2,699.6 1916.7,736.8 1917.2,785.3 1917.7,731.0 1918.3,733.9 1918.8,725.3 1919.3,759.6 1919.8,762.5 1920.3,682.5 1920.8,742.5 1921.3,691.1 1921.8,693.9 1922.3,728.2 1922.8,736.8 1923.4,765.3 1923.9,713.9 1924.4,751.0 1924.9,731.0 1925.4,711.0 1925.9,731.0 1926.4,756.7 1926.9,731.0 1927.4,728.2 1927.9,696.8 1928.5,633.9 1929.0,725.3 1929.5,728.2 1930.0,805.3 1930.5,751.0 1931.0,791.0 1931.5,762.5 1932.0,788.2 1932.5,756.7 1933.0,771.0 1933.6,733.9 1934.1,759.6 1934.6,731.0 1935.1,739.6 1935.6,736.8 1936.1,691.1 1936.6,745.3 1937.1,782.4 1937.6,796.7 1938.1,753.9 1938.7,745.3 1939.2,713.9 1939.7,716.8 1940.2,742.5 1940.7,716.8 1941.2,759.6 1941.7,756.7 1942.2,811.0 1942.7,731.0 1943.2,696.8 1943.8,693.9 1944.3,699.6 1944.8,731.0 1945.3,771.0 1945.8,653.9 1946.3,782.4 1946.8,696.8 1947.3,742.5 1947.8,785.3 1948.3,733.9 1948.9,771.0 1949.4,719.6 1949.9,733.9 1950.4,731.0 1950.9,728.2 1951.4,705.3 1951.9,699.6 1952.4,791.0 1952.9,793.9 1953.4,773.9 1954.0,731.0 1954.5,688.2 1955.0,791.0 1955.5,685.3 1956.0,705.3 1956.5,708.2 1957.0,711.0 1957.5,808.2 1958.0,756.7 1958.5,688.2 1959.1,733.9 1959.6,756.7 1960.1,733.9 1960.6,759.6 1961.1,756.7 1961.6,785.3" fill="none" stroke="#444" stroke-width="0.72" stroke-linejoin="round"/></g>
<g clip-path="url(#clip1)"><polyline points="197.5,1170.9 198.0,1164.0 198.5,1164.0 199.0,1153.2 199.5,1170.9 200.0,1179.3 200.6,1170.9 201.1,1158.2 201.6,1170.9 202.1,1190.2 202.6,1164.0 203.1,1205.5 203.6,1148.7 204.1,1179.3 204.6,1170.9 205.1,1205.5 205.7,1164.0 206.2,1122.6 206.7,1148.7 207.2,1144.8 207.7,1141.2 208.2,1148.7 208.7,1137.9 209.2,1132.1 209.7,1127.1 210.2,1158.2 210.8,1141.2 211.3,1179.3 211.8,1127.1 212.3,1129.5 212.8,1134.9 213.3,1134.9 213.8,1096.5 214.3,1107.3 214.8,1113.4 215.3,1118.6 215.9,1105.9 216.4,1102.1 216.9,1099.8 217.4,1088.9 217.9,1098.6 218.4,1085.6 218.9,1079.1 219.4,1066.4 219.9,1067.8 220.4,1071.9 221.0,1071.9 221.5,1063.2 222.0,1058.3 222.5,1051.7 223.0,1045.5 223.5,1045.3 224.0,1039.3 224.5,1036.6 225.0,1031.5 225.5,1027.1 226.1,1020.3 226.6,1013.1 227.1,1003.9 227.6,991.7 228.1,976.1 228.6,955.4 229.1,932.3 229.4,918.2 229.6,930.7 230.1,952.1 230.6,973.1 231.2,989.3 231.7,1004.6 232.2,1013.3 232.7,1020.3 233.2,1026.0 233.7,1030.5 234.2,1036.0 234.7,1040.0 235.2,1044.0 235.7,1047.8 236.3,1045.0 236.8,1060.7 237.3,1057.6 237.8,1064.1 238.3,1069.3 238.8,1068.3 239.3,1071.4 239.8,1074.8 240.3,1083.3 240.8,1088.9 241.4,1082.6 241.9,1099.8 242.4,1091.6 242.9,1093.5 243.4,1100.9 243.9,1105.9 244.4,1113.4 244.9,1110.2 245.4,1120.6 245.9,1124.8 246.5,1124.8 247.0,1129.5 247.5,1127.1 248.0,1141.2 248.5,1148.7 249.0,1141.2 249.5,1124.8 250.0,1144.8 250.5,1164.0 251.0,1164.0 251.6,1148.7 252.1,1153.2 252.6,1153.2 253.1,1164.0 253.6,1170.9 254.1,1164.0 254.6,1179.3 255.1,1164.0 255.6,1144.8 256.1,1170.9 256.7,1164.0 257.2,1170.9 257.7,1179.3 258.2,1170.9 258.7,1164.0 259.2,1158.2 259.7,1170.9 260.2,1179.3 260.7,1179.3 261.2,1179.3 261.8,1190.2 262.3,1164.0 262.8,1190.2 263.3,1170.9 263.8,1141.2 264.3,1134.9 264.8,1190.2 265.3,1205.5 265.8,1170.9 266.3,1164.0 266.9,1170.9 267.4,1153.2 267.9,1153.2 268.4,1190.2 268.9,1190.2 269.4,1158.2 269.9,1170.9 270.4,1205.5 270.9,1158.2 271.4,1164.0 272.0,1148.7 272.5,1179.3 273.0,1170.9 273.5,1190.2 274.0,1170.9 274.5,1170.9 275.0,1144.8 275.5,1240.0 276.0,1190.2 276.5,1231.6 277.1,1190.2 277.6,1190.2 278.1,1179.3 278.6,1158.2 279.1,1158.2 279.6,1141.2 280.1,1179.3 280.6,1190.2 281.1,1205.5 281.6,1153.2 282.2,1170.9 282.7,1158.2 283.2,1205.5 283.7,1164.0 284.2,1205.5 284.7,1170.9 285.2,1170.9 285.7,1164.0 286.2,1170.9 286.7,1170.9 287.3,1170.9 287.8,1158.2 288.3,1158.2 288.8,1179.3 289.3,1170.9 289.8,1164.0 290.3,1190.2 290.8,1164.0 291.3,1179.3 291.8,1164.0 292.4,1158.2 292.9,1170.9 293.4,1205.5 293.9,1164.0 294.4,1164.0 294.9,1190.2 295.4,1179.3 295.9,1164.0 296.4,1164.0 296.9,1205.5 297.5,1144.8 298.0,1190.2 298.5,1134.9 299.0,1158.2 299.5,1170.9 300.0,1158.2 300.5,1170.9 301.0,1205.5 301.5,1164.0 302.0,1170.9 302.6,1190.2 303.1,1231.6 303.6,1164.0 304.1,1170.9 304.6,1179.3 305.1,1190.2 305.6,1240.0 306.1,1170.9 306.6,1158.2 307.1,1170.9 307.7,1164.0 308.2,1179.3 308.7,1170.9 309.2,1148.7 309.7,1205.5 310.2,1170.9 310.7,1170.9 311.2,1148.7 311.7,1179.3 312.2,1170.9 312.8,1190.2 313.3,1158.2 313.8,1164.0 314.3,1170.9 314.8,1164.0 315.3,1179.3 315.8,1190.2 316.3,1170.9 316.8,1190.2 317.3,1158.2 317.9,1240.0 318.4,1153.2 318.9,1179.3 319.4,1179.3 319.9,1190.2 320.4,1190.2 320.9,1179.3 321.4,1205.5 321.9,1164.0 322.4,1164.0 323.0,1170.9 323.5,1170.9 324.0,1153.2 324.5,1231.6 325.0,1179.3 325.5,1158.2 326.0,1153.2 326.5,1205.5 327.0,1190.2 327.5,1170.9 328.1,1179.3 328.6,1170.9 329.1,1170.9 329.6,1164.0 330.1,1170.9 330.6,1190.2 331.1,1158.2 331.6,1179.3 332.1,1153.2 332.6,1164.0 333.2,1179.3 333.7,1164.0 334.2,1164.0 334.7,1144.8 335.2,1231.6 335.7,1190.2 336.2,1170.9 336.7,1158.2 337.2,1164.0 337.7,1170.9 338.3,1179.3 338.8,1153.2 339.3,1190.2 339.8,1141.2 340.3,1164.0 340.8,1170.9 341.3,1179.3 341.8,1153.2 342.3,1179.3 342.8,1190.2 343.4,1148.7 343.9,1164.0 344.4,1205.5 344.9,1164.0 345.4,1158.2 345.9,1164.0 346.4,1170.9 346.9,1164.0 347.4,1153.2 347.9,1179.3 348.5,1205.5 349.0,1153.2 349.5,1158.2 350.0,1190.2 350.5,1231.6 351.0,1164.0 351.5,1170.9 352.0,1179.3 352.5,1170.9 353.0,1164.0 353.6,1153.2 354.1,1170.9 354.6,1190.2 355.1,1179.3 355.6,1190.2 356.1,1231.6 356.6,1179.3 357.1,1148.7 357.6,1190.2 358.1,1164.0 358.7,1141.2 359.2,1190.2 359.7,1190.2 360.2,1153.2 360.7,1179.3 361.2,1164.0 361.7,1179.3 362.2,1164.0 362.7,1144.8 363.2,1179.3 363.8,1170.9 364.3,1170.9 364.8,1190.2 365.3,1179.3 365.8,1205.5 366.3,1170.9 366.8,1205.5 367.3,1179.3 367.8,1179.3 368.3,1158.2 368.9,1205.5 369.4,1164.0 369.9,1205.5 370.4,1148.7 370.9,1164.0 371.4,1153.2 371.9,1205.5 372.4,1179.3 372.9,1144.8 373.4,1153.2 374.0,1190.2 374.5,1164.0 375.0,1190.2 375.5,1179.3 376.0,1148.7 376.5,1231.6 377.0,1164.0 377.5,1179.3 378.0,1190.2 378.5,1179.3 379.1,1190.2 379.6,1179.3 380.1,1179.3 380.6,1179.3 381.1,1164.0 381.6,1205.5 382.1,1205.5 382.6,1170.9 383.1,1158.2 383.6,1170.9 384.2,1170.9 384.7,1179.3 385.2,1205.5 385.7,1231.6 386.2,1164.0 386.7,1231.6 387.2,1190.2 387.7,1158.2 388.2,1190.2 388.7,1231.6 389.3,1164.0 389.8,1190.2 390.3,1164.0 390.8,1158.2 391.3,1179.3 391.8,1164.0 392.3,1179.3 392.8,1179.3 393.3,1158.2 393.8,1190.2 394.4,1179.3 394.9,1158.2 395.4,1205.5 395.9,1158.2 396.4,1190.2 396.9,1205.5 397.4,1179.3 397.9,1170.9 398.4,1179.3 398.9,1231.6 399.5,1205.5 400.0,1170.9 400.5,1179.3 401.0,1164.0 401.5,1170.9 402.0,1231.6 402.5,1231.6 403.0,1190.2 403.5,1190.2 404.0,1170.9 404.6,1231.6 405.1,1231.6 405.6,1164.0 406.1,1170.9 406.6,1170.9 407.1,1231.6 407.6,1158.2 408.1,1190.2 408.6,1164.0 409.1,1170.9 409.7,1170.9 410.2,1141.2 410.7,1170.9 411.2,1170.9 411.7,1205.5 412.2,1164.0 412.7,1144.8 413.2,1179.3 413.7,1158.2 414.2,1179.3 414.8,1148.7 415.3,1179.3 415.8,1179.3 416.3,1179.3 416.8,1170.9 417.3,1164.0 417.8,1179.3 418.3,1164.0 418.8,1240.0 419.3,1179.3 419.9,1134.9 420.4,1164.0 420.9,1190.2 421.4,1153.2 421.9,1170.9 422.4,1205.5 422.9,1205.5 423.4,1170.9 423.9,1170.9 424.4,1158.2 425.0,1170.9 425.5,1158.2 426.0,1164.0 426.5,1170.9 427.0,1231.6 427.5,1190.2 428.0,1179.3 428.5,1153.2 429.0,1179.3 429.5,1170.9 430.1,1158.2 430.6,1170.9 431.1,1164.0 431.6,1164.0 432.1,1170.9 432.6,1190.2 433.1,1179.3 433.6,1205.5 434.1,1179.3 434.6,1205.5 435.2,1170.9 435.7,1179.3 436.2,1158.2 436.7,1170.9 437.2,1190.2 437.7,1179.3 438.2,1164.0 438.7,1164.0 439.2,1179.3 439.7,1170.9 440.3,1205.5 440.8,1205.5 441.3,1144.8 441.8,1240.0 442.3,1190.2 442.8,1190.2 443.3,1170.9 443.8,1164.0 444.3,1179.3 444.8,1205.5 445.4,1179.3 445.9,1170.9 446.4,1158.2 446.9,1190.2 447.4,1153.2 447.9,1158.2 448.4,1205.5 448.9,1148.7 449.4,1205.5 449.9,1179.3 450.5,1164.0 451.0,1179.3 451.5,1164.0 452.0,1205.5 452.5,1164.0 453.0,1170.9 453.5,1164.0 454.0,1148.7 454.5,1231.6 455.0,1170.9 455.6,1158.2 456.1,1158.2 456.6,1190.2 457.1,1179.3 457.6,1231.6 458.1,1179.3 458.6,1190.2 459.1,1158.2 459.6,1190.2 460.1,1205.5 460.7,1158.2 461.2,1179.3 461.7,1170.9 462.2,1164.0 462.7,1170.9 463.2,1179.3 463.7,1170.9 464.2,1144.8 464.7,1158.2 465.2,1231.6 465.8,1164.0 466.3,1205.5 466.8,1153.2 467.3,1158.2 467.8,1170.9 468.3,1158.2 468.8,1158.2 469.3,1148.7 469.8,1190.2 470.3,1170.9 470.9,1153.2 471.4,1170.9 471.9,1190.2 472.4,1179.3 472.9,1190.2 473.4,1179.3 473.9,1179.3 474.4,1240.0 474.9,1179.3 475.4,1179.3 476.0,1190.2 476.5,1190.2 477.0,1164.0 477.5,1170.9 478.0,1190.2 478.5,1179.3 479.0,1190.2 479.5,1153.2 480.0,1190.2 480.5,1158.2 481.1,1190.2 481.6,1190.2 482.1,1170.9 482.6,1144.8 483.1,1164.0 483.6,1170.9 484.1,1205.5 484.6,1158.2 485.1,1190.2 485.6,1164.0 486.2,1179.3 486.7,1153.2 487.2,1179.3 487.7,1158.2 488.2,1205.5 488.7,1158.2 489.2,1170.9 489.7,1170.9 490.2,1164.0 490.7,1190.2 491.3,1164.0 491.8,1144.8 492.3,1158.2 492.8,1137.9 493.3,1164.0 493.8,1231.6 494.3,1170.9 494.8,1144.8 495.3,1205.5 495.8,1158.2 496.4,1164.0 496.9,1164.0 497.4,1164.0 497.9,1179.3 498.4,1190.2 498.9,1190.2 499.4,1164.0 499.9,1190.2 500.4,1153.2 500.9,1190.2 501.5,1164.0 502.0,1205.5 502.5,1190.2 503.0,1153.2 503.5,1179.3 504.0,1170.9 504.5,1153.2 505.0,1153.2 505.5,1205.5 506.0,1164.0 506.6,1170.9 507.1,1179.3 507.6,1164.0 508.1,1144.8 508.6,1190.2 509.1,1170.9 509.6,1190.2 510.1,1153.2 510.6,1205.5 511.1,1190.2 511.7,1144.8 512.2,1164.0 512.7,1170.9 513.2,1170.9 513.7,1190.2 514.2,1179.3 514.7,1148.7 515.2,1179.3 515.7,1158.2 516.2,1164.0 516.8,1164.0 517.3,1190.2 517.8,1164.0 518.3,1231.6 518.8,1170.9 519.3,1148.7 519.8,1170.9 520.3,1164.0 520.8,1205.5 521.3,1164.0 521.9,1153.2 522.4,1170.9 522.9,1190.2 523.4,1179.3 523.9,1148.7 524.4,1205.5 524.9,1190.2 525.4,1179.3 525.9,1148.7 526.4,1164.0 527.0,1170.9 527.5,1179.3 528.0,1170.9 528.5,1179.3 529.0,1158.2 529.5,1179.3 530.0,1179.3 530.5,1179.3 531.0,1190.2 531.5,1190.2 532.1,1179.3 532.6,1170.9 533.1,1170.9 533.6,1190.2 534.1,1170.9 534.6,1179.3 535.1,1164.0 535.6,1179.3 536.1,1148.7 536.6,1164.0 537.2,1170.9 537.7,1190.2 538.2,1179.3 538.7,1190.2 539.2,1179.3 539.7,1158.2 540.2,1164.0 540.7,1158.2 541.2,1190.2 541.7,1153.2 542.3,1164.0 542.8,1164.0 543.3,1170.9 543.8,1170.9 544.3,1205.5 544.8,1158.2 545.3,1179.3 545.8,1179.3 546.3,1190.2 546.8,1153.2 547.4,1179.3 547.9,1179.3 548.4,1205.5 548.9,1158.2 549.4,1179.3 549.9,1179.3 550.4,1190.2 550.9,1179.3 551.4,1205.5 551.9,1179.3 552.5,1179.3 553.0,1153.2 553.5,1179.3 554.0,1179.3 554.5,1170.9 555.0,1179.3 555.5,1164.0 556.0,1164.0 556.5,1205.5 557.0,1179.3 557.6,1179.3 558.1,1148.7 558.6,1231.6 559.1,1164.0 559.6,1190.2 560.1,1158.2 560.6,1153.2 561.1,1158.2 561.6,1190.2 562.1,1179.3 562.7,1158.2 563.2,1164.0 563.7,1144.8 564.2,1179.3 564.7,1179.3 565.2,1190.2 565.7,1137.9 566.2,1179.3 566.7,1144.8 567.2,1190.2 567.8,1179.3 568.3,1170.9 568.8,1164.0 569.3,1164.0 569.8,1153.2 570.3,1164.0 570.8,1170.9 571.3,1153.2 571.8,1164.0 572.3,1231.6 572.9,1179.3 573.4,1148.7 573.9,1170.9 574.4,1205.5 574.9,1153.2 575.4,1179.3 575.9,1205.5 576.4,1179.3 576.9,1190.2 577.4,1190.2 578.0,1190.2 578.5,1190.2 579.0,1231.6 579.5,1190.2 580.0,1179.3 580.5,1170.9 581.0,1158.2 581.5,1205.5 582.0,1164.0 582.5,1190.2 583.1,1170.9 583.6,1164.0 584.1,1158.2 584.6,1190.2 585.1,1190.2 585.6,1179.3 586.1,1179.3 586.6,1179.3 587.1,1148.7 587.6,1190.2 588.2,1190.2 588.7,1190.2 589.2,1164.0 589.7,1158.2 590.2,1190.2 590.7,1144.8 591.2,1144.8 591.7,1170.9 592.2,1164.0 592.7,1170.9 593.3,1164.0 593.8,1190.2 594.3,1179.3 594.8,1170.9 595.3,1158.2 595.8,1231.6 596.3,1240.0 596.8,1190.2 597.3,1179.3 597.8,1190.2 598.4,1205.5 598.9,1190.2 599.4,1205.5 599.9,1144.8 600.4,1170.9 600.9,1141.2 601.4,1153.2 601.9,1179.3 602.4,1170.9 602.9,1148.7 603.5,1170.9 604.0,1170.9 604.5,1170.9 605.0,1164.0 605.5,1190.2 606.0,1170.9 606.5,1170.9 607.0,1179.3 607.5,1164.0 608.0,1170.9 608.6,1164.0 609.1,1190.2 609.6,1179.3 610.1,1190.2 610.6,1158.2 611.1,1164.0 611.6,1179.3 612.1,1205.5 612.6,1158.2 613.1,1179.3 613.7,1205.5 614.2,1170.9 614.7,1205.5 615.2,1179.3 615.7,1205.5 616.2,1205.5 616.7,1190.2 617.2,1164.0 617.7,1164.0 618.2,1148.7 618.8,1158.2 619.3,1158.2 619.8,1170.9 620.3,1179.3 620.8,1205.5 621.3,1164.0 621.8,1205.5 622.3,1231.6 622.8,1231.6 623.3,1231.6 623.9,1164.0 624.4,1179.3 624.9,1170.9 625.4,1190.2 625.9,1170.9 626.4,1170.9 626.9,1164.0 627.4,1158.2 627.9,1190.2 628.4,1190.2 629.0,1158.2 629.5,1158.2 630.0,1158.2 630.5,1148.7 631.0,1164.0 631.5,1205.5 632.0,1153.2 632.5,1148.7 633.0,1205.5 633.5,1190.2 634.1,1190.2 634.6,1179.3 635.1,1132.1 635.6,1205.5 636.1,1164.0 636.6,1179.3 637.1,1137.9 637.6,1164.0 638.1,1190.2 638.6,1190.2 639.2,1179.3 639.7,1170.9 640.2,1190.2 640.7,1179.3 641.2,1170.9 641.7,1179.3 642.2,1164.0 642.7,1190.2 643.2,1170.9 643.7,1164.0 644.3,1164.0 644.8,1190.2 645.3,1164.0 645.8,1170.9 646.3,1205.5 646.8,1170.9 647.3,1153.2 647.8,1179.3 648.3,1170.9 648.8,1170.9 649.4,1170.9 649.9,1205.5 650.4,1179.3 650.9,1158.2 651.4,1170.9 651.9,1164.0 652.4,1170.9 652.9,1164.0 653.4,1170.9 653.9,1190.2 654.5,1179.3 655.0,1170.9 655.5,1179.3 656.0,1164.0 656.5,1179.3 657.0,1205.5 657.5,1170.9 658.0,1170.9 658.5,1170.9 659.0,1190.2 659.6,1190.2 660.1,1179.3 660.6,1158.2 661.1,1170.9 661.6,1144.8 662.1,1170.9 662.6,1170.9 663.1,1148.7 663.6,1190.2 664.1,1179.3 664.7,1179.3 665.2,1240.0 665.7,1205.5 666.2,1164.0 666.7,1205.5 667.2,1158.2 667.7,1179.3 668.2,1170.9 668.7,1158.2 669.2,1153.2 669.8,1158.2 670.3,1148.7 670.8,1144.8 671.3,1179.3 671.8,1164.0 672.3,1148.7 672.8,1158.2 673.3,1179.3 673.8,1158.2 674.3,1205.5 674.9,1205.5 675.4,1240.0 675.9,1141.2 676.4,1179.3 676.9,1205.5 677.4,1170.9 677.9,1190.2 678.4,1153.2 678.9,1190.2 679.4,1179.3 680.0,1164.0 680.5,1164.0 681.0,1179.3 681.5,1148.7 682.0,1170.9 682.5,1231.6 683.0,1144.8 683.5,1205.5 684.0,1205.5 684.5,1179.3 685.1,1190.2 685.6,1164.0 686.1,1144.8 686.6,1179.3 687.1,1179.3 687.6,1190.2 688.1,1153.2 688.6,1164.0 689.1,1170.9 689.6,1164.0 690.2,1164.0 690.7,1170.9 691.2,1205.5 691.7,1170.9 692.2,1141.2 692.7,1134.9 693.2,1179.3 693.7,1153.2 694.2,1179.3 694.7,1170.9 695.3,1179.3 695.8,1190.2 696.3,1190.2 696.8,1170.9 697.3,1170.9 697.8,1179.3 698.3,1164.0 698.8,1231.6 699.3,1179.3 699.8,1190.2 700.4,1190.2 700.9,1153.2 701.4,1179.3 701.9,1170.9 702.4,1158.2 702.9,1190.2 703.4,1148.7 703.9,1164.0 704.4,1129.5 704.9,1153.2 705.5,1170.9 706.0,1190.2 706.5,1179.3 707.0,1231.6 707.5,1164.0 708.0,1170.9 708.5,1205.5 709.0,1179.3 709.5,1179.3 710.0,1231.6 710.6,1179.3 711.1,1164.0 711.6,1148.7 712.1,1205.5 712.6,1153.2 713.1,1164.0 713.6,1164.0 714.1,1190.2 714.6,1179.3 715.1,1179.3 715.7,1170.9 716.2,1158.2 716.7,1190.2 717.2,1190.2 717.7,1205.5 718.2,1179.3 718.7,1170.9 719.2,1231.6 719.7,1158.2 720.2,1179.3 720.8,1164.0 721.3,1158.2 721.8,1190.2 722.3,1179.3 722.8,1164.0 723.3,1179.3 723.8,1179.3 724.3,1153.2 724.8,1205.5 725.3,1190.2 725.9,1164.0 726.4,1164.0 726.9,1170.9 727.4,1205.5 727.9,1158.2 728.4,1231.6 728.9,1170.9 729.4,1164.0 729.9,1164.0 730.4,1164.0 731.0,1158.2 731.5,1179.3 732.0,1231.6 732.5,1164.0 733.0,1158.2 733.5,1179.3 734.0,1205.5 734.5,1179.3 735.0,1158.2 735.5,1164.0 736.1,1164.0 736.6,1190.2 737.1,1170.9 737.6,1179.3 738.1,1179.3 738.6,1179.3 739.1,1170.9 739.6,1164.0 740.1,1179.3 740.6,1170.9 741.2,1205.5 741.7,1170.9 742.2,1205.5 742.7,1179.3 743.2,1179.3 743.7,1170.9 744.2,1164.0 744.7,1148.7 745.2,1170.9 745.7,1158.2 746.3,1179.3 746.8,1179.3 747.3,1170.9 747.8,1240.0 748.3,1170.9 748.8,1179.3 749.3,1164.0 749.8,1170.9 750.3,1179.3 750.8,1170.9 751.4,1164.0 751.9,1170.9 752.4,1164.0 752.9,1170.9 753.4,1158.2 753.9,1179.3 754.4,1179.3 754.9,1170.9 755.4,1164.0 755.9,1179.3 756.5,1179.3 757.0,1170.9 757.5,1164.0 758.0,1164.0 758.5,1190.2 759.0,1170.9 759.5,1231.6 760.0,1158.2 760.5,1179.3 761.0,1164.0 761.6,1170.9 762.1,1205.5 762.6,1179.3 763.1,1190.2 763.6,1170.9 764.1,1170.9 764.6,1164.0 765.1,1231.6 765.6,1179.3 766.1,1240.0 766.7,1179.3 767.2,1179.3 767.7,1190.2 768.2,1170.9 768.7,1179.3 769.2,1170.9 769.7,1164.0 770.2,1179.3 770.7,1164.0 771.2,1205.5 771.8,1170.9 772.3,1205.5 772.8,1170.9 773.3,1179.3 773.8,1164.0 774.3,1148.7 774.8,1158.2 775.3,1164.0 775.8,1158.2 776.3,1190.2 776.9,1179.3 777.4,1179.3 777.9,1190.2 778.4,1205.5 778.9,1170.9 779.4,1164.0 779.9,1170.9 780.4,1158.2 780.9,1170.9 781.4,1164.0 782.0,1170.9 782.5,1164.0 783.0,1158.2 783.5,1144.8 784.0,1179.3 784.5,1205.5 785.0,1231.6 785.5,1190.2 786.0,1179.3 786.5,1179.3 787.1,1205.5 787.6,1170.9 788.1,1153.2 788.6,1137.9 789.1,1190.2 789.6,1179.3 790.1,1179.3 790.6,1179.3 791.1,1158.2 791.6,1179.3 792.2,1179.3 792.7,1164.0 793.2,1190.2 793.7,1240.0 794.2,1153.2 794.7,1158.2 795.2,1153.2 795.7,1153.2 796.2,1158.2 796.7,1158.2 797.3,1190.2 797.8,1179.3 798.3,1164.0 798.8,1158.2 799.3,1158.2 799.8,1190.2 800.3,1179.3 800.8,1153.2 801.3,1190.2 801.8,1179.3 802.4,1158.2 802.9,1164.0 803.4,1240.0 803.9,1190.2 804.4,1158.2 804.9,1170.9 805.4,1164.0 805.9,1164.0 806.4,1170.9 806.9,1158.2 807.5,1170.9 808.0,1205.5 808.5,1148.7 809.0,1179.3 809.5,1170.9 810.0,1179.3 810.5,1190.2 811.0,1164.0 811.5,1153.2 812.0,1158.2 812.6,1141.2 813.1,1179.3 813.6,1144.8 814.1,1137.9 814.6,1144.8 815.1,1170.9 815.6,1141.2 816.1,1137.9 816.6,1179.3 817.1,1158.2 817.7,1137.9 818.2,1153.2 818.7,1158.2 819.2,1134.9 819.7,1127.1 820.2,1158.2 820.7,1141.2 821.2,1132.1 821.7,1127.1 822.2,1124.8 822.8,1137.9 823.3,1179.3 823.8,1120.6 824.3,1110.2 824.8,1115.0 825.3,1122.6 825.8,1111.8 826.3,1095.4 826.8,1105.9 827.3,1113.4 827.9,1097.5 828.4,1099.8 828.9,1089.8 829.4,1085.6 829.9,1076.6 830.4,1073.0 830.9,1059.5 831.4,1046.3 831.9,1022.9 832.4,1003.2 833.0,989.7 833.5,985.0 833.5,985.2 834.0,985.2 834.5,993.2 835.0,1003.5 835.5,1005.5 836.0,1002.4 836.5,994.6 837.0,983.0 837.5,971.7 838.1,960.8 838.6,949.2 839.1,937.5 839.6,924.1 840.1,910.8 840.6,898.3 841.1,886.7 841.6,872.0 842.0,863.6 842.1,866.5 842.6,878.6 843.2,890.8 843.7,901.7 844.2,912.4 844.7,923.5 845.2,936.6 845.7,947.4 846.2,957.9 846.7,968.9 847.2,978.4 847.7,989.0 848.3,998.7 848.8,1006.5 849.3,1018.7 849.8,1025.8 850.3,1034.1 850.8,1041.5 851.3,1049.5 851.8,1052.7 852.3,1065.9 852.8,1072.5 853.4,1070.9 853.9,1087.2 854.4,1084.1 854.9,1092.5 855.4,1081.2 855.9,1088.1 856.4,1094.4 856.9,1097.5 857.4,1107.3 857.9,1113.4 858.5,1116.8 859.0,1124.8 859.5,1137.9 860.0,1127.1 860.5,1129.5 861.0,1122.6 861.5,1124.8 862.0,1141.2 862.5,1134.9 863.0,1134.9 863.6,1141.2 864.1,1132.1 864.6,1144.8 865.1,1153.2 865.6,1164.0 866.1,1134.9 866.6,1153.2 867.1,1129.5 867.6,1153.2 868.1,1148.7 868.7,1164.0 869.2,1158.2 869.7,1144.8 870.2,1148.7 870.7,1164.0 871.2,1179.3 871.7,1158.2 872.2,1179.3 872.7,1158.2 873.2,1170.9 873.8,1179.3 874.3,1158.2 874.8,1190.2 875.3,1190.2 875.8,1190.2 876.3,1170.9 876.8,1170.9 877.3,1170.9 877.8,1153.2 878.3,1190.2 878.9,1170.9 879.4,1153.2 879.9,1158.2 880.4,1153.2 880.9,1164.0 881.4,1158.2 881.9,1158.2 882.4,1153.2 882.9,1190.2 883.4,1190.2 884.0,1164.0 884.5,1170.9 885.0,1179.3 885.5,1205.5 886.0,1170.9 886.5,1164.0 887.0,1179.3 887.5,1158.2 888.0,1190.2 888.5,1137.9 889.1,1148.7 889.6,1137.9 890.1,1137.9 890.6,1158.2 891.1,1137.9 891.6,1122.6 892.1,1134.9 892.6,1134.9 893.1,1129.5 893.6,1137.9 894.2,1137.9 894.7,1134.9 895.2,1134.9 895.7,1144.8 896.2,1132.1 896.7,1148.7 897.2,1170.9 897.7,1164.0 898.2,1170.9 898.7,1153.2 899.3,1158.2 899.8,1153.2 900.3,1179.3 900.8,1170.9 901.3,1190.2 901.8,1231.6 902.3,1164.0 902.8,1190.2 903.3,1158.2 903.8,1179.3 904.4,1179.3 904.9,1205.5 905.4,1190.2 905.9,1179.3 906.4,1179.3 906.9,1158.2 907.4,1164.0 907.9,1190.2 908.4,1158.2 908.9,1190.2 909.5,1164.0 910.0,1179.3 910.5,1205.5 911.0,1179.3 911.5,1170.9 912.0,1190.2 912.5,1170.9 913.0,1164.0 913.5,1240.0 914.0,1179.3 914.6,1179.3 915.1,1158.2 915.6,1190.2 916.1,1179.3 916.6,1164.0 917.1,1170.9 917.6,1164.0 918.1,1190.2 918.6,1190.2 919.1,1190.2 919.7,1190.2 920.2,1170.9 920.7,1164.0 921.2,1153.2 921.7,1170.9 922.2,1179.3 922.7,1164.0 923.2,1179.3 923.7,1170.9 924.2,1190.2 924.8,1231.6 925.3,1205.5 925.8,1158.2 926.3,1153.2 926.8,1179.3 927.3,1170.9 927.8,1231.6 928.3,1170.9 928.8,1144.8 929.3,1170.9 929.9,1205.5 930.4,1170.9 930.9,1164.0 931.4,1153.2 931.9,1179.3 932.4,1231.6 932.9,1170.9 933.4,1170.9 933.9,1179.3 934.4,1158.2 935.0,1164.0 935.5,1170.9 936.0,1179.3 936.5,1205.5 937.0,1170.9 937.5,1190.2 938.0,1231.6 938.5,1190.2 939.0,1164.0 939.5,1231.6 940.1,1179.3 940.6,1179.3 941.1,1153.2 941.6,1231.6 942.1,1190.2 942.6,1179.3 943.1,1190.2 943.6,1190.2 944.1,1179.3 944.6,1179.3 945.2,1179.3 945.7,1153.2 946.2,1179.3 946.7,1179.3 947.2,1179.3 947.7,1164.0 948.2,1164.0 948.7,1170.9 949.2,1205.5 949.7,1144.8 950.3,1164.0 950.8,1158.2 951.3,1170.9 951.8,1148.7 952.3,1164.0 952.8,1170.9 953.3,1179.3 953.8,1170.9 954.3,1170.9 954.8,1179.3 955.4,1158.2 955.9,1205.5 956.4,1205.5 956.9,1179.3 957.4,1170.9 957.9,1190.2 958.4,1205.5 958.9,1179.3 959.4,1190.2 959.9,1179.3 960.5,1231.6 961.0,1205.5 961.5,1205.5 962.0,1153.2 962.5,1179.3 963.0,1205.5 963.5,1179.3 964.0,1190.2 964.5,1179.3 965.0,1179.3 965.6,1231.6 966.1,1190.2 966.6,1170.9 967.1,1158.2 967.6,1170.9 968.1,1190.2 968.6,1170.9 969.1,1179.3 969.6,1205.5 970.1,1190.2 970.7,1164.0 971.2,1190.2 971.7,1170.9 972.2,1153.2 972.7,1170.9 973.2,1179.3 973.7,1205.5 974.2,1179.3 974.7,1164.0 975.2,1170.9 975.8,1179.3 976.3,1158.2 976.8,1158.2 977.3,1231.6 977.8,1190.2 978.3,1190.2 978.8,1170.9 979.3,1190.2 979.8,1205.5 980.3,1164.0 980.9,1179.3 981.4,1148.7 981.9,1179.3 982.4,1164.0 982.9,1170.9 983.4,1205.5 983.9,1179.3 984.4,1179.3 984.9,1179.3 985.4,1170.9 986.0,1158.2 986.5,1153.2 987.0,1205.5 987.5,1170.9 988.0,1158.2 988.5,1170.9 989.0,1231.6 989.5,1153.2 990.0,1164.0 990.5,1164.0 991.1,1158.2 991.6,1170.9 992.1,1190.2 992.6,1190.2 993.1,1179.3 993.6,1205.5 994.1,1164.0 994.6,1179.3 995.1,1153.2 995.6,1164.0 996.2,1158.2 996.7,1170.9 997.2,1164.0 997.7,1190.2 998.2,1164.0 998.7,1158.2 999.2,1205.5 999.7,1164.0 1000.2,1179.3 1000.7,1170.9 1001.3,1141.2 1001.8,1170.9 1002.3,1158.2 1002.8,1153.2 1003.3,1179.3 1003.8,1205.5 1004.3,1190.2 1004.8,1170.9 1005.3,1179.3 1005.8,1144.8 1006.4,1190.2 1006.9,1205.5 1007.4,1158.2 1007.9,1190.2 1008.4,1144.8 1008.9,1158.2 1009.4,1179.3 1009.9,1190.2 1010.4,1205.5 1010.9,1164.0 1011.5,1179.3 1012.0,1158.2 1012.5,1205.5 1013.0,1179.3 1013.5,1205.5 1014.0,1179.3 1014.5,1190.2 1015.0,1231.6 1015.5,1231.6 1016.0,1179.3 1016.6,1179.3 1017.1,1164.0 1017.6,1240.0 1018.1,1170.9 1018.6,1170.9 1019.1,1179.3 1019.6,1179.3 1020.1,1170.9 1020.6,1190.2 1021.1,1179.3 1021.7,1179.3 1022.2,1190.2 1022.7,1179.3 1023.2,1153.2 1023.7,1205.5 1024.2,1170.9 1024.7,1179.3 1025.2,1231.6 1025.7,1190.2 1026.2,1170.9 1026.8,1170.9 1027.3,1148.7 1027.8,1158.2 1028.3,1231.6 1028.8,1164.0 1029.3,1179.3 1029.8,1205.5 1030.3,1179.3 1030.8,1158.2 1031.3,1179.3 1031.9,1190.2 1032.4,1190.2 1032.9,1179.3 1033.4,1190.2 1033.9,1170.9 1034.4,1153.2 1034.9,1164.0 1035.4,1190.2 1035.9,1231.6 1036.4,1158.2 1037.0,1158.2 1037.5,1164.0 1038.0,1153.2 1038.5,1190.2 1039.0,1170.9 1039.5,1170.9 1040.0,1190.2 1040.5,1190.2 1041.0,1190.2 1041.5,1205.5 1042.1,1190.2 1042.6,1190.2 1043.1,1170.9 1043.6,1231.6 1044.1,1164.0 1044.6,1158.2 1045.1,1144.8 1045.6,1164.0 1046.1,1164.0 1046.6,1190.2 1047.2,1170.9 1047.7,1179.3 1048.2,1231.6 1048.7,1153.2 1049.2,1170.9 1049.7,1231.6 1050.2,1158.2 1050.7,1205.5 1051.2,1190.2 1051.7,1190.2 1052.3,1170.9 1052.8,1158.2 1053.3,1170.9 1053.8,1190.2 1054.3,1179.3 1054.8,1164.0 1055.3,1190.2 1055.8,1205.5 1056.3,1170.9 1056.8,1205.5 1057.4,1158.2 1057.9,1190.2 1058.4,1170.9 1058.9,1153.2 1059.4,1148.7 1059.9,1205.5 1060.4,1170.9 1060.9,1158.2 1061.4,1164.0 1061.9,1179.3 1062.5,1179.3 1063.0,1179.3 1063.5,1179.3 1064.0,1158.2 1064.5,1170.9 1065.0,1164.0 1065.5,1190.2 1066.0,1170.9 1066.5,1170.9 1067.0,1231.6 1067.6,1205.5 1068.1,1190.2 1068.6,1170.9 1069.1,1164.0 1069.6,1170.9 1070.1,1190.2 1070.6,1231.6 1071.1,1153.2 1071.6,1164.0 1072.1,1205.5 1072.7,1190.2 1073.2,1164.0 1073.7,1153.2 1074.2,1170.9 1074.7,1190.2 1075.2,1164.0 1075.7,1158.2 1076.2,1158.2 1076.7,1190.2 1077.2,1190.2 1077.8,1158.2 1078.3,1158.2 1078.8,1170.9 1079.3,1158.2 1079.8,1231.6 1080.3,1164.0 1080.8,1153.2 1081.3,1153.2 1081.8,1190.2 1082.3,1205.5 1082.9,1190.2 1083.4,1179.3 1083.9,1205.5 1084.4,1158.2 1084.9,1190.2 1085.4,1170.9 1085.9,1158.2 1086.4,1170.9 1086.9,1170.9 1087.4,1164.0 1088.0,1158.2 1088.5,1170.9 1089.0,1179.3 1089.5,1205.5 1090.0,1164.0 1090.5,1179.3 1091.0,1164.0 1091.5,1179.3 1092.0,1170.9 1092.5,1190.2 1093.1,1170.9 1093.6,1170.9 1094.1,1170.9 1094.6,1179.3 1095.1,1190.2 1095.6,1170.9 1096.1,1170.9 1096.6,1164.0 1097.1,1158.2 1097.6,1170.9 1098.2,1190.2 1098.7,1205.5 1099.2,1164.0 1099.7,1170.9 1100.2,1134.9 1100.7,1190.2 1101.2,1179.3 1101.7,1179.3 1102.2,1231.6 1102.7,1190.2 1103.3,1179.3 1103.8,1170.9 1104.3,1148.7 1104.8,1170.9 1105.3,1179.3 1105.8,1158.2 1106.3,1190.2 1106.8,1231.6 1107.3,1179.3 1107.8,1179.3 1108.4,1164.0 1108.9,1170.9 1109.4,1179.3 1109.9,1205.5 1110.4,1170.9 1110.9,1153.2 1111.4,1158.2 1111.9,1179.3 1112.4,1179.3 1112.9,1190.2 1113.5,1190.2 1114.0,1179.3 1114.5,1170.9 1115.0,1190.2 1115.5,1179.3 1116.0,1179.3 1116.5,1144.8 1117.0,1190.2 1117.5,1179.3 1118.0,1170.9 1118.6,1179.3 1119.1,1170.9 1119.6,1190.2 1120.1,1179.3 1120.6,1164.0 1121.1,1190.2 1121.6,1179.3 1122.1,1153.2 1122.6,1179.3 1123.1,1231.6 1123.7,1170.9 1124.2,1179.3 1124.7,1158.2 1125.2,1205.5 1125.7,1170.9 1126.2,1179.3 1126.7,1190.2 1127.2,1231.6 1127.7,1164.0 1128.2,1179.3 1128.8,1190.2 1129.3,1179.3 1129.8,1170.9 1130.3,1179.3 1130.8,1179.3 1131.3,1164.0 1131.8,1158.2 1132.3,1164.0 1132.8,1205.5 1133.3,1153.2 1133.9,1164.0 1134.4,1179.3 1134.9,1164.0 1135.4,1190.2 1135.9,1170.9 1136.4,1170.9 1136.9,1164.0 1137.4,1190.2 1137.9,1164.0 1138.4,1170.9 1139.0,1164.0 1139.5,1179.3 1140.0,1164.0 1140.5,1164.0 1141.0,1158.2 1141.5,1158.2 1142.0,1190.2 1142.5,1205.5 1143.0,1190.2 1143.5,1179.3 1144.1,1190.2 1144.6,1164.0 1145.1,1190.2 1145.6,1148.7 1146.1,1153.2 1146.6,1170.9 1147.1,1190.2 1147.6,1190.2 1148.1,1190.2 1148.6,1205.5 1149.2,1205.5 1149.7,1164.0 1150.2,1205.5 1150.7,1170.9 1151.2,1153.2 1151.7,1179.3 1152.2,1179.3 1152.7,1231.6 1153.2,1190.2 1153.7,1158.2 1154.3,1179.3 1154.8,1205.5 1155.3,1164.0 1155.8,1164.0 1156.3,1179.3 1156.8,1240.0 1157.3,1190.2 1157.8,1240.0 1158.3,1179.3 1158.8,1153.2 1159.4,1205.5 1159.9,1164.0 1160.4,1164.0 1160.9,1205.5 1161.4,1164.0 1161.9,1170.9 1162.4,1148.7 1162.9,1170.9 1163.4,1179.3 1163.9,1170.9 1164.5,1164.0 1165.0,1190.2 1165.5,1170.9 1166.0,1153.2 1166.5,1158.2 1167.0,1170.9 1167.5,1190.2 1168.0,1190.2 1168.5,1148.7 1169.0,1205.5 1169.6,1179.3 1170.1,1158.2 1170.6,1179.3 1171.1,1190.2 1171.6,1164.0 1172.1,1190.2 1172.6,1164.0 1173.1,1144.8 1173.6,1153.2 1174.1,1190.2 1174.7,1170.9 1175.2,1164.0 1175.7,1164.0 1176.2,1153.2 1176.7,1179.3 1177.2,1170.9 1177.7,1179.3 1178.2,1170.9 1178.7,1179.3 1179.2,1205.5 1179.8,1170.9 1180.3,1164.0 1180.8,1179.3 1181.3,1190.2 1181.8,1164.0 1182.3,1190.2 1182.8,1231.6 1183.3,1158.2 1183.8,1164.0 1184.3,1158.2 1184.9,1164.0 1185.4,1231.6 1185.9,1190.2 1186.4,1190.2 1186.9,1190.2 1187.4,1231.6 1187.9,1231.6 1188.4,1164.0 1188.9,1205.5 1189.4,1158.2 1190.0,1153.2 1190.5,1158.2 1191.0,1179.3 1191.5,1158.2 1192.0,1164.0 1192.5,1205.5 1193.0,1190.2 1193.5,1179.3 1194.0,1205.5 1194.5,1164.0 1195.1,1190.2 1195.6,1170.9 1196.1,1153.2 1196.6,1190.2 1197.1,1164.0 1197.6,1170.9 1198.1,1164.0 1198.6,1170.9 1199.1,1158.2 1199.6,1190.2 1200.2,1170.9 1200.7,1179.3 1201.2,1164.0 1201.7,1179.3 1202.2,1170.9 1202.7,1158.2 1203.2,1170.9 1203.7,1158.2 1204.2,1179.3 1204.7,1179.3 1205.3,1179.3 1205.8,1164.0 1206.3,1205.5 1206.8,1164.0 1207.3,1205.5 1207.8,1179.3 1208.3,1179.3 1208.8,1179.3 1209.3,1205.5 1209.8,1170.9 1210.4,1179.3 1210.9,1179.3 1211.4,1158.2 1211.9,1148.7 1212.4,1170.9 1212.9,1179.3 1213.4,1164.0 1213.9,1170.9 1214.4,1190.2 1214.9,1190.2 1215.5,1179.3 1216.0,1170.9 1216.5,1164.0 1217.0,1170.9 1217.5,1158.2 1218.0,1179.3 1218.5,1190.2 1219.0,1164.0 1219.5,1205.5 1220.0,1179.3 1220.6,1179.3 1221.1,1148.7 1221.6,1179.3 1222.1,1179.3 1222.6,1144.8 1223.1,1164.0 1223.6,1205.5 1224.1,1164.0 1224.6,1164.0 1225.1,1190.2 1225.7,1170.9 1226.2,1179.3 1226.7,1170.9 1227.2,1231.6 1227.7,1179.3 1228.2,1179.3 1228.7,1158.2 1229.2,1231.6 1229.7,1170.9 1230.2,1179.3 1230.8,1144.8 1231.3,1190.2 1231.8,1164.0 1232.3,1170.9 1232.8,1170.9 1233.3,1170.9 1233.8,1164.0 1234.3,1231.6 1234.8,1158.2 1235.3,1179.3 1235.9,1153.2 1236.4,1231.6 1236.9,1179.3 1237.4,1179.3 1237.9,1231.6 1238.4,1190.2 1238.9,1179.3 1239.4,1179.3 1239.9,1170.9 1240.4,1164.0 1241.0,1158.2 1241.5,1170.9 1242.0,1205.5 1242.5,1158.2 1243.0,1231.6 1243.5,1179.3 1244.0,1170.9 1244.5,1179.3 1245.0,1158.2 1245.5,1144.8 1246.1,1164.0 1246.6,1153.2 1247.1,1153.2 1247.6,1170.9 1248.1,1158.2 1248.6,1179.3 1249.1,1190.2 1249.6,1205.5 1250.1,1170.9 1250.6,1158.2 1251.2,1179.3 1251.7,1158.2 1252.2,1190.2 1252.7,1153.2 1253.2,1164.0 1253.7,1158.2 1254.2,1205.5 1254.7,1231.6 1255.2,1164.0 1255.7,1190.2 1256.3,1205.5 1256.8,1205.5 1257.3,1179.3 1257.8,1170.9 1258.3,1205.5 1258.8,1179.3 1259.3,1190.2 1259.8,1231.6 1260.3,1179.3 1260.8,1153.2 1261.4,1164.0 1261.9,1179.3 1262.4,1170.9 1262.9,1170.9 1263.4,1205.5 1263.9,1170.9 1264.4,1179.3 1264.9,1164.0 1265.4,1170.9 1265.9,1179.3 1266.5,1179.3 1267.0,1164.0 1267.5,1231.6 1268.0,1153.2 1268.5,1179.3 1269.0,1153.2 1269.5,1190.2 1270.0,1170.9 1270.5,1164.0 1271.0,1179.3 1271.6,1164.0 1272.1,1179.3 1272.6,1170.9 1273.1,1164.0 1273.6,1164.0 1274.1,1179.3 1274.6,1179.3 1275.1,1179.3 1275.6,1148.7 1276.1,1190.2 1276.7,1144.8 1277.2,1158.2 1277.7,1158.2 1278.2,1170.9 1278.7,1190.2 1279.2,1148.7 1279.7,1134.9 1280.2,1190.2 1280.7,1190.2 1281.2,1164.0 1281.8,1153.2 1282.3,1158.2 1282.8,1158.2 1283.3,1190.2 1283.8,1170.9 1284.3,1144.8 1284.8,1164.0 1285.3,1158.2 1285.8,1205.5 1286.3,1190.2 1286.9,1179.3 1287.4,1190.2 1287.9,1158.2 1288.4,1170.9 1288.9,1170.9 1289.4,1153.2 1289.9,1190.2 1290.4,1164.0 1290.9,1179.3 1291.4,1179.3 1292.0,1231.6 1292.5,1148.7 1293.0,1179.3 1293.5,1231.6 1294.0,1205.5 1294.5,1179.3 1295.0,1158.2 1295.5,1179.3 1296.0,1179.3 1296.5,1179.3 1297.1,1148.7 1297.6,1190.2 1298.1,1158.2 1298.6,1164.0 1299.1,1205.5 1299.6,1190.2 1300.1,1158.2 1300.6,1190.2 1301.1,1144.8 1301.6,1205.5 1302.2,1170.9 1302.7,1190.2 1303.2,1153.2 1303.7,1179.3 1304.2,1170.9 1304.7,1190.2 1305.2,1231.6 1305.7,1170.9 1306.2,1148.7 1306.7,1179.3 1307.3,1164.0 1307.8,1179.3 1308.3,1141.2 1308.8,1231.6 1309.3,1153.2 1309.8,1170.9 1310.3,1190.2 1310.8,1164.0 1311.3,1179.3 1311.8,1158.2 1312.4,1148.7 1312.9,1153.2 1313.4,1190.2 1313.9,1153.2 1314.4,1158.2 1314.9,1158.2 1315.4,1205.5 1315.9,1170.9 1316.4,1190.2 1316.9,1158.2 1317.5,1164.0 1318.0,1179.3 1318.5,1148.7 1319.0,1170.9 1319.5,1179.3 1320.0,1231.6 1320.5,1179.3 1321.0,1179.3 1321.5,1190.2 1322.0,1179.3 1322.6,1179.3 1323.1,1231.6 1323.6,1164.0 1324.1,1148.7 1324.6,1190.2 1325.1,1190.2 1325.6,1179.3 1326.1,1164.0 1326.6,1179.3 1327.1,1179.3 1327.7,1179.3 1328.2,1158.2 1328.7,1170.9 1329.2,1170.9 1329.7,1190.2 1330.2,1153.2 1330.7,1158.2 1331.2,1190.2 1331.7,1170.9 1332.2,1179.3 1332.8,1158.2 1333.3,1240.0 1333.8,1205.5 1334.3,1158.2 1334.8,1153.2 1335.3,1170.9 1335.8,1158.2 1336.3,1190.2 1336.8,1231.6 1337.3,1164.0 1337.9,1170.9 1338.4,1158.2 1338.9,1231.6 1339.4,1240.0 1339.9,1190.2 1340.4,1158.2 1340.9,1153.2 1341.4,1141.2 1341.9,1164.0 1342.4,1179.3 1343.0,1190.2 1343.5,1231.6 1344.0,1179.3 1344.5,1190.2 1345.0,1231.6 1345.5,1190.2 1346.0,1164.0 1346.5,1179.3 1347.0,1170.9 1347.5,1179.3 1348.1,1205.5 1348.6,1190.2 1349.1,1179.3 1349.6,1179.3 1350.1,1164.0 1350.6,1164.0 1351.1,1179.3 1351.6,1179.3 1352.1,1170.9 1352.6,1190.2 1353.2,1164.0 1353.7,1179.3 1354.2,1170.9 1354.7,1158.2 1355.2,1179.3 1355.7,1170.9 1356.2,1231.6 1356.7,1164.0 1357.2,1179.3 1357.7,1164.0 1358.3,1164.0 1358.8,1170.9 1359.3,1179.3 1359.8,1170.9 1360.3,1179.3 1360.8,1153.2 1361.3,1179.3 1361.8,1158.2 1362.3,1179.3 1362.8,1205.5 1363.4,1190.2 1363.9,1231.6 1364.4,1164.0 1364.9,1170.9 1365.4,1170.9 1365.9,1190.2 1366.4,1179.3 1366.9,1190.2 1367.4,1170.9 1367.9,1179.3 1368.5,1170.9 1369.0,1190.2 1369.5,1205.5 1370.0,1170.9 1370.5,1164.0 1371.0,1148.7 1371.5,1164.0 1372.0,1190.2 1372.5,1158.2 1373.0,1158.2 1373.6,1205.5 1374.1,1179.3 1374.6,1190.2 1375.1,1179.3 1375.6,1179.3 1376.1,1158.2 1376.6,1164.0 1377.1,1179.3 1377.6,1158.2 1378.1,1153.2 1378.7,1153.2 1379.2,1179.3 1379.7,1148.7 1380.2,1179.3 1380.7,1164.0 1381.2,1190.2 1381.7,1170.9 1382.2,1164.0 1382.7,1153.2 1383.2,1158.2 1383.8,1190.2 1384.3,1164.0 1384.8,1190.2 1385.3,1205.5 1385.8,1164.0 1386.3,1153.2 1386.8,1153.2 1387.3,1164.0 1387.8,1170.9 1388.3,1190.2 1388.9,1170.9 1389.4,1148.7 1389.9,1190.2 1390.4,1190.2 1390.9,1170.9 1391.4,1148.7 1391.9,1190.2 1392.4,1240.0 1392.9,1179.3 1393.4,1158.2 1394.0,1170.9 1394.5,1190.2 1395.0,1190.2 1395.5,1190.2 1396.0,1170.9 1396.5,1179.3 1397.0,1170.9 1397.5,1190.2 1398.0,1190.2 1398.5,1158.2 1399.1,1164.0 1399.6,1170.9 1400.1,1170.9 1400.6,1179.3 1401.1,1190.2 1401.6,1190.2 1402.1,1170.9 1402.6,1179.3 1403.1,1190.2 1403.6,1170.9 1404.2,1153.2 1404.7,1179.3 1405.2,1158.2 1405.7,1164.0 1406.2,1153.2 1406.7,1153.2 1407.2,1158.2 1407.7,1164.0 1408.2,1190.2 1408.7,1164.0 1409.3,1190.2 1409.8,1164.0 1410.3,1158.2 1410.8,1153.2 1411.3,1170.9 1411.8,1179.3 1412.3,1158.2 1412.8,1158.2 1413.3,1170.9 1413.8,1205.5 1414.4,1179.3 1414.9,1190.2 1415.4,1190.2 1415.9,1179.3 1416.4,1179.3 1416.9,1179.3 1417.4,1170.9 1417.9,1164.0 1418.4,1179.3 1418.9,1190.2 1419.5,1205.5 1420.0,1170.9 1420.5,1190.2 1421.0,1170.9 1421.5,1240.0 1422.0,1179.3 1422.5,1158.2 1423.0,1179.3 1423.5,1240.0 1424.0,1164.0 1424.6,1158.2 1425.1,1179.3 1425.6,1148.7 1426.1,1170.9 1426.6,1205.5 1427.1,1179.3 1427.6,1164.0 1428.1,1164.0 1428.6,1153.2 1429.1,1148.7 1429.7,1158.2 1430.2,1158.2 1430.7,1190.2 1431.2,1158.2 1431.7,1158.2 1432.2,1164.0 1432.7,1164.0 1433.2,1164.0 1433.7,1164.0 1434.2,1170.9 1434.8,1164.0 1435.3,1158.2 1435.8,1134.9 1436.3,1158.2 1436.8,1153.2 1437.3,1158.2 1437.8,1134.9 1438.3,1137.9 1438.8,1134.9 1439.3,1127.1 1439.9,1129.5 1440.4,1122.6 1440.9,1111.8 1441.4,1111.8 1441.9,1103.3 1442.4,1107.3 1442.9,1107.3 1443.4,1110.2 1443.9,1108.7 1444.4,1091.6 1445.0,1094.4 1445.5,1097.5 1446.0,1086.4 1446.5,1088.9 1447.0,1077.8 1447.5,1084.8 1448.0,1074.2 1448.5,1066.8 1449.0,1062.8 1449.5,1066.4 1450.1,1060.7 1450.6,1045.3 1451.1,1042.5 1451.6,1031.4 1452.1,1020.0 1452.6,1003.1 1453.1,981.2 1453.6,957.8 1454.0,940.5 1454.1,948.8 1454.6,970.8 1455.2,993.9 1455.7,1010.8 1456.2,1025.0 1456.7,1034.6 1457.2,1042.2 1457.7,1046.9 1458.2,1043.2 1458.7,1069.8 1459.2,1060.3 1459.7,1070.3 1460.3,1063.6 1460.8,1063.6 1461.3,1067.8 1461.8,1081.9 1462.3,1079.1 1462.8,1074.8 1463.3,1086.4 1463.8,1078.5 1464.3,1103.3 1464.8,1088.1 1465.4,1088.9 1465.9,1100.9 1466.4,1094.4 1466.9,1097.5 1467.4,1115.0 1467.9,1104.6 1468.4,1115.0 1468.9,1115.0 1469.4,1113.4 1469.9,1120.6 1470.5,1118.6 1471.0,1120.6 1471.5,1127.1 1472.0,1115.0 1472.5,1132.1 1473.0,1122.6 1473.5,1141.2 1474.0,1129.5 1474.5,1141.2 1475.0,1153.2 1475.6,1153.2 1476.1,1141.2 1476.6,1134.9 1477.1,1153.2 1477.6,1153.2 1478.1,1158.2 1478.6,1144.8 1479.1,1164.0 1479.6,1134.9 1480.1,1164.0 1480.7,1148.7 1481.2,1170.9 1481.7,1158.2 1482.2,1148.7 1482.7,1164.0 1483.2,1164.0 1483.7,1158.2 1484.2,1190.2 1484.7,1190.2 1485.2,1153.2 1485.8,1164.0 1486.3,1170.9 1486.8,1170.9 1487.3,1170.9 1487.8,1164.0 1488.3,1179.3 1488.8,1164.0 1489.3,1164.0 1489.8,1205.5 1490.3,1164.0 1490.9,1231.6 1491.4,1231.6 1491.9,1179.3 1492.4,1164.0 1492.9,1170.9 1493.4,1170.9 1493.9,1190.2 1494.4,1170.9 1494.9,1170.9 1495.4,1190.2 1496.0,1179.3 1496.5,1205.5 1497.0,1205.5 1497.5,1179.3 1498.0,1205.5 1498.5,1148.7 1499.0,1179.3 1499.5,1153.2 1500.0,1205.5 1500.5,1179.3 1501.1,1179.3 1501.6,1179.3 1502.1,1190.2 1502.6,1231.6 1503.1,1164.0 1503.6,1153.2 1504.1,1190.2 1504.6,1190.2 1505.1,1164.0 1505.6,1190.2 1506.2,1164.0 1506.7,1205.5 1507.2,1164.0 1507.7,1164.0 1508.2,1170.9 1508.7,1158.2 1509.2,1170.9 1509.7,1170.9 1510.2,1144.8 1510.7,1190.2 1511.3,1164.0 1511.8,1205.5 1512.3,1170.9 1512.8,1164.0 1513.3,1164.0 1513.8,1164.0 1514.3,1231.6 1514.8,1205.5 1515.3,1170.9 1515.8,1153.2 1516.4,1170.9 1516.9,1179.3 1517.4,1179.3 1517.9,1164.0 1518.4,1179.3 1518.9,1190.2 1519.4,1158.2 1519.9,1153.2 1520.4,1158.2 1520.9,1205.5 1521.5,1179.3 1522.0,1179.3 1522.5,1179.3 1523.0,1190.2 1523.5,1170.9 1524.0,1190.2 1524.5,1205.5 1525.0,1190.2 1525.5,1179.3 1526.0,1137.9 1526.6,1179.3 1527.1,1164.0 1527.6,1179.3 1528.1,1170.9 1528.6,1190.2 1529.1,1231.6 1529.6,1190.2 1530.1,1170.9 1530.6,1164.0 1531.1,1170.9 1531.7,1158.2 1532.2,1158.2 1532.7,1132.1 1533.2,1190.2 1533.7,1179.3 1534.2,1148.7 1534.7,1205.5 1535.2,1231.6 1535.7,1190.2 1536.2,1148.7 1536.8,1170.9 1537.3,1179.3 1537.8,1153.2 1538.3,1148.7 1538.8,1231.6 1539.3,1179.3 1539.8,1153.2 1540.3,1164.0 1540.8,1170.9 1541.3,1170.9 1541.9,1190.2 1542.4,1158.2 1542.9,1153.2 1543.4,1164.0 1543.9,1190.2 1544.4,1158.2 1544.9,1179.3 1545.4,1144.8 1545.9,1179.3 1546.4,1190.2 1547.0,1170.9 1547.5,1164.0 1548.0,1158.2 1548.5,1158.2 1549.0,1170.9 1549.5,1164.0 1550.0,1164.0 1550.5,1190.2 1551.0,1164.0 1551.5,1205.5 1552.1,1205.5 1552.6,1158.2 1553.1,1205.5 1553.6,1164.0 1554.1,1205.5 1554.6,1164.0 1555.1,1158.2 1555.6,1158.2 1556.1,1153.2 1556.6,1164.0 1557.2,1170.9 1557.7,1205.5 1558.2,1170.9 1558.7,1179.3 1559.2,1158.2 1559.7,1170.9 1560.2,1205.5 1560.7,1205.5 1561.2,1190.2 1561.7,1158.2 1562.3,1164.0 1562.8,1164.0 1563.3,1158.2 1563.8,1179.3 1564.3,1179.3 1564.8,1179.3 1565.3,1158.2 1565.8,1153.2 1566.3,1179.3 1566.8,1205.5 1567.4,1179.3 1567.9,1179.3 1568.4,1190.2 1568.9,1158.2 1569.4,1170.9 1569.9,1205.5 1570.4,1170.9 1570.9,1158.2 1571.4,1231.6 1571.9,1205.5 1572.5,1190.2 1573.0,1164.0 1573.5,1148.7 1574.0,1170.9 1574.5,1153.2 1575.0,1170.9 1575.5,1190.2 1576.0,1179.3 1576.5,1179.3 1577.0,1205.5 1577.6,1205.5 1578.1,1190.2 1578.6,1205.5 1579.1,1179.3 1579.6,1190.2 1580.1,1190.2 1580.6,1190.2 1581.1,1170.9 1581.6,1179.3 1582.1,1179.3 1582.7,1170.9 1583.2,1205.5 1583.7,1164.0 1584.2,1190.2 1584.7,1164.0 1585.2,1170.9 1585.7,1190.2 1586.2,1190.2 1586.7,1164.0 1587.2,1153.2 1587.8,1190.2 1588.3,1179.3 1588.8,1190.2 1589.3,1179.3 1589.8,1153.2 1590.3,1148.7 1590.8,1170.9 1591.3,1231.6 1591.8,1170.9 1592.3,1179.3 1592.9,1164.0 1593.4,1170.9 1593.9,1158.2 1594.4,1179.3 1594.9,1231.6 1595.4,1179.3 1595.9,1164.0 1596.4,1170.9 1596.9,1170.9 1597.4,1170.9 1598.0,1170.9 1598.5,1148.7 1599.0,1190.2 1599.5,1170.9 1600.0,1205.5 1600.5,1158.2 1601.0,1179.3 1601.5,1164.0 1602.0,1179.3 1602.5,1170.9 1603.1,1148.7 1603.6,1158.2 1604.1,1190.2 1604.6,1205.5 1605.1,1205.5 1605.6,1164.0 1606.1,1153.2 1606.6,1170.9 1607.1,1179.3 1607.6,1179.3 1608.2,1205.5 1608.7,1190.2 1609.2,1190.2 1609.7,1205.5 1610.2,1170.9 1610.7,1158.2 1611.2,1179.3 1611.7,1179.3 1612.2,1164.0 1612.7,1179.3 1613.3,1179.3 1613.8,1164.0 1614.3,1164.0 1614.8,1179.3 1615.3,1179.3 1615.8,1205.5 1616.3,1190.2 1616.8,1164.0 1617.3,1179.3 1617.8,1170.9 1618.4,1170.9 1618.9,1164.0 1619.4,1240.0 1619.9,1205.5 1620.4,1170.9 1620.9,1144.8 1621.4,1179.3 1621.9,1158.2 1622.4,1158.2 1622.9,1170.9 1623.5,1205.5 1624.0,1170.9 1624.5,1164.0 1625.0,1179.3 1625.5,1141.2 1626.0,1231.6 1626.5,1170.9 1627.0,1158.2 1627.5,1170.9 1628.0,1190.2 1628.6,1179.3 1629.1,1179.3 1629.6,1179.3 1630.1,1153.2 1630.6,1164.0 1631.1,1179.3 1631.6,1164.0 1632.1,1179.3 1632.6,1164.0 1633.1,1148.7 1633.7,1170.9 1634.2,1231.6 1634.7,1190.2 1635.2,1190.2 1635.7,1164.0 1636.2,1164.0 1636.7,1190.2 1637.2,1190.2 1637.7,1190.2 1638.2,1179.3 1638.8,1179.3 1639.3,1190.2 1639.8,1170.9 1640.3,1158.2 1640.8,1205.5 1641.3,1144.8 1641.8,1170.9 1642.3,1190.2 1642.8,1153.2 1643.3,1170.9 1643.9,1179.3 1644.4,1190.2 1644.9,1190.2 1645.4,1190.2 1645.9,1179.3 1646.4,1190.2 1646.9,1164.0 1647.4,1231.6 1647.9,1190.2 1648.4,1179.3 1649.0,1164.0 1649.5,1205.5 1650.0,1190.2 1650.5,1170.9 1651.0,1205.5 1651.5,1190.2 1652.0,1179.3 1652.5,1190.2 1653.0,1190.2 1653.5,1158.2 1654.1,1170.9 1654.6,1179.3 1655.1,1190.2 1655.6,1179.3 1656.1,1158.2 1656.6,1190.2 1657.1,1170.9 1657.6,1170.9 1658.1,1164.0 1658.6,1170.9 1659.2,1205.5 1659.7,1170.9 1660.2,1158.2 1660.7,1164.0 1661.2,1137.9 1661.7,1148.7 1662.2,1205.5 1662.7,1231.6 1663.2,1190.2 1663.7,1170.9 1664.3,1158.2 1664.8,1190.2 1665.3,1164.0 1665.8,1179.3 1666.3,1179.3 1666.8,1179.3 1667.3,1170.9 1667.8,1179.3 1668.3,1158.2 1668.8,1170.9 1669.4,1158.2 1669.9,1205.5 1670.4,1170.9 1670.9,1205.5 1671.4,1190.2 1671.9,1170.9 1672.4,1179.3 1672.9,1158.2 1673.4,1179.3 1673.9,1153.2 1674.5,1179.3 1675.0,1153.2 1675.5,1190.2 1676.0,1164.0 1676.5,1170.9 1677.0,1190.2 1677.5,1179.3 1678.0,1170.9 1678.5,1170.9 1679.0,1179.3 1679.6,1190.2 1680.1,1179.3 1680.6,1179.3 1681.1,1179.3 1681.6,1179.3 1682.1,1158.2 1682.6,1179.3 1683.1,1164.0 1683.6,1205.5 1684.1,1231.6 1684.7,1164.0 1685.2,1179.3 1685.7,1205.5 1686.2,1205.5 1686.7,1190.2 1687.2,1179.3 1687.7,1158.2 1688.2,1179.3 1688.7,1190.2 1689.2,1158.2 1689.8,1190.2 1690.3,1231.6 1690.8,1170.9 1691.3,1190.2 1691.8,1190.2 1692.3,1170.9 1692.8,1170.9 1693.3,1144.8 1693.8,1179.3 1694.3,1190.2 1694.9,1190.2 1695.4,1205.5 1695.9,1190.2 1696.4,1164.0 1696.9,1205.5 1697.4,1190.2 1697.9,1148.7 1698.4,1170.9 1698.9,1164.0 1699.4,1148.7 1700.0,1170.9 1700.5,1205.5 1701.0,1205.5 1701.5,1190.2 1702.0,1179.3 1702.5,1179.3 1703.0,1179.3 1703.5,1148.7 1704.0,1153.2 1704.5,1164.0 1705.1,1164.0 1705.6,1190.2 1706.1,1190.2 1706.6,1179.3 1707.1,1153.2 1707.6,1190.2 1708.1,1164.0 1708.6,1190.2 1709.1,1179.3 1709.6,1148.7 1710.2,1179.3 1710.7,1205.5 1711.2,1170.9 1711.7,1158.2 1712.2,1190.2 1712.7,1170.9 1713.2,1170.9 1713.7,1164.0 1714.2,1148.7 1714.7,1170.9 1715.3,1158.2 1715.8,1190.2 1716.3,1205.5 1716.8,1170.9 1717.3,1148.7 1717.8,1153.2 1718.3,1170.9 1718.8,1158.2 1719.3,1158.2 1719.8,1153.2 1720.4,1179.3 1720.9,1164.0 1721.4,1158.2 1721.9,1164.0 1722.4,1170.9 1722.9,1170.9 1723.4,1190.2 1723.9,1164.0 1724.4,1170.9 1724.9,1170.9 1725.5,1170.9 1726.0,1190.2 1726.5,1179.3 1727.0,1164.0 1727.5,1158.2 1728.0,1170.9 1728.5,1205.5 1729.0,1179.3 1729.5,1205.5 1730.0,1190.2 1730.6,1179.3 1731.1,1205.5 1731.6,1190.2 1732.1,1170.9 1732.6,1231.6 1733.1,1170.9 1733.6,1170.9 1734.1,1190.2 1734.6,1153.2 1735.1,1179.3 1735.7,1231.6 1736.2,1134.9 1736.7,1153.2 1737.2,1205.5 1737.7,1190.2 1738.2,1179.3 1738.7,1170.9 1739.2,1170.9 1739.7,1148.7 1740.2,1170.9 1740.8,1205.5 1741.3,1170.9 1741.8,1170.9 1742.3,1164.0 1742.8,1205.5 1743.3,1158.2 1743.8,1205.5 1744.3,1144.8 1744.8,1231.6 1745.3,1190.2 1745.9,1179.3 1746.4,1170.9 1746.9,1179.3 1747.4,1190.2 1747.9,1190.2 1748.4,1158.2 1748.9,1190.2 1749.4,1205.5 1749.9,1179.3 1750.4,1164.0 1751.0,1164.0 1751.5,1170.9 1752.0,1158.2 1752.5,1153.2 1753.0,1179.3 1753.5,1158.2 1754.0,1170.9 1754.5,1164.0 1755.0,1190.2 1755.5,1164.0 1756.1,1153.2 1756.6,1170.9 1757.1,1190.2 1757.6,1231.6 1758.1,1158.2 1758.6,1170.9 1759.1,1179.3 1759.6,1190.2 1760.1,1179.3 1760.6,1170.9 1761.2,1190.2 1761.7,1170.9 1762.2,1190.2 1762.7,1190.2 1763.2,1205.5 1763.7,1205.5 1764.2,1190.2 1764.7,1148.7 1765.2,1164.0 1765.7,1179.3 1766.3,1170.9 1766.8,1190.2 1767.3,1205.5 1767.8,1179.3 1768.3,1205.5 1768.8,1179.3 1769.3,1170.9 1769.8,1179.3 1770.3,1170.9 1770.8,1190.2 1771.4,1179.3 1771.9,1190.2 1772.4,1153.2 1772.9,1190.2 1773.4,1153.2 1773.9,1190.2 1774.4,1170.9 1774.9,1205.5 1775.4,1164.0 1775.9,1158.2 1776.5,1231.6 1777.0,1164.0 1777.5,1144.8 1778.0,1190.2 1778.5,1158.2 1779.0,1205.5 1779.5,1170.9 1780.0,1179.3 1780.5,1158.2 1781.0,1158.2 1781.6,1190.2 1782.1,1148.7 1782.6,1179.3 1783.1,1179.3 1783.6,1158.2 1784.1,1144.8 1784.6,1158.2 1785.1,1170.9 1785.6,1190.2 1786.1,1190.2 1786.7,1190.2 1787.2,1153.2 1787.7,1158.2 1788.2,1158.2 1788.7,1190.2 1789.2,1179.3 1789.7,1205.5 1790.2,1158.2 1790.7,1190.2 1791.2,1205.5 1791.8,1190.2 1792.3,1190.2 1792.8,1148.7 1793.3,1158.2 1793.8,1179.3 1794.3,1158.2 1794.8,1190.2 1795.3,1190.2 1795.8,1170.9 1796.3,1179.3 1796.9,1179.3 1797.4,1205.5 1797.9,1164.0 1798.4,1164.0 1798.9,1148.7 1799.4,1190.2 1799.9,1158.2 1800.4,1179.3 1800.9,1164.0 1801.4,1164.0 1802.0,1170.9 1802.5,1205.5 1803.0,1170.9 1803.5,1190.2 1804.0,1153.2 1804.5,1179.3 1805.0,1231.6 1805.5,1164.0 1806.0,1205.5 1806.5,1158.2 1807.1,1231.6 1807.6,1158.2 1808.1,1231.6 1808.6,1179.3 1809.1,1170.9 1809.6,1164.0 1810.1,1170.9 1810.6,1205.5 1811.1,1190.2 1811.6,1170.9 1812.2,1190.2 1812.7,1179.3 1813.2,1205.5 1813.7,1179.3 1814.2,1190.2 1814.7,1179.3 1815.2,1179.3 1815.7,1179.3 1816.2,1170.9 1816.7,1158.2 1817.3,1164.0 1817.8,1164.0 1818.3,1179.3 1818.8,1158.2 1819.3,1231.6 1819.8,1190.2 1820.3,1164.0 1820.8,1179.3 1821.3,1179.3 1821.8,1231.6 1822.4,1164.0 1822.9,1179.3 1823.4,1164.0 1823.9,1190.2 1824.4,1158.2 1824.9,1179.3 1825.4,1190.2 1825.9,1205.5 1826.4,1170.9 1826.9,1190.2 1827.5,1158.2 1828.0,1179.3 1828.5,1153.2 1829.0,1170.9 1829.5,1170.9 1830.0,1170.9 1830.5,1170.9 1831.0,1231.6 1831.5,1231.6 1832.0,1164.0 1832.6,1190.2 1833.1,1164.0 1833.6,1190.2 1834.1,1179.3 1834.6,1170.9 1835.1,1170.9 1835.6,1179.3 1836.1,1190.2 1836.6,1170.9 1837.1,1179.3 1837.7,1170.9 1838.2,1190.2 1838.7,1153.2 1839.2,1190.2 1839.7,1153.2 1840.2,1164.0 1840.7,1231.6 1841.2,1158.2 1841.7,1190.2 1842.2,1153.2 1842.8,1170.9 1843.3,1164.0 1843.8,1164.0 1844.3,1190.2 1844.8,1190.2 1845.3,1164.0 1845.8,1190.2 1846.3,1148.7 1846.8,1164.0 1847.3,1179.3 1847.9,1190.2 1848.4,1158.2 1848.9,1164.0 1849.4,1170.9 1849.9,1164.0 1850.4,1179.3 1850.9,1205.5 1851.4,1190.2 1851.9,1164.0 1852.4,1205.5 1853.0,1170.9 1853.5,1153.2 1854.0,1158.2 1854.5,1164.0 1855.0,1179.3 1855.5,1164.0 1856.0,1170.9 1856.5,1205.5 1857.0,1158.2 1857.5,1164.0 1858.1,1170.9 1858.6,1205.5 1859.1,1205.5 1859.6,1190.2 1860.1,1170.9 1860.6,1190.2 1861.1,1164.0 1861.6,1231.6 1862.1,1158.2 1862.6,1190.2 1863.2,1231.6 1863.7,1170.9 1864.2,1190.2 1864.7,1153.2 1865.2,1170.9 1865.7,1179.3 1866.2,1170.9 1866.7,1190.2 1867.2,1190.2 1867.7,1205.5 1868.3,1158.2 1868.8,1137.9 1869.3,1190.2 1869.8,1170.9 1870.3,1164.0 1870.8,1153.2 1871.3,1170.9 1871.8,1153.2 1872.3,1164.0 1872.8,1164.0 1873.4,1190.2 1873.9,1164.0 1874.4,1170.9 1874.9,1153.2 1875.4,1164.0 1875.9,1158.2 1876.4,1190.2 1876.9,1158.2 1877.4,1164.0 1877.9,1179.3 1878.5,1170.9 1879.0,1170.9 1879.5,1179.3 1880.0,1170.9 1880.5,1179.3 1881.0,1190.2 1881.5,1164.0 1882.0,1179.3 1882.5,1205.5 1883.0,1148.7 1883.6,1170.9 1884.1,1164.0 1884.6,1144.8 1885.1,1179.3 1885.6,1164.0 1886.1,1240.0 1886.6,1170.9 1887.1,1190.2 1887.6,1170.9 1888.1,1179.3 1888.7,1164.0 1889.2,1164.0 1889.7,1158.2 1890.2,1153.2 1890.7,1190.2 1891.2,1170.9 1891.7,1179.3 1892.2,1153.2 1892.7,1148.7 1893.2,1170.9 1893.8,1190.2 1894.3,1158.2 1894.8,1179.3 1895.3,1179.3 1895.8,1170.9 1896.3,1164.0 1896.8,1164.0 1897.3,1170.9 1897.8,1164.0 1898.3,1170.9 1898.9,1164.0 1899.4,1144.8 1899.9,1164.0 1900.4,1170.9 1900.9,1158.2 1901.4,1164.0 1901.9,1231.6 1902.4,1170.9 1902.9,1170.9 1903.4,1158.2 1904.0,1164.0 1904.5,1205.5 1905.0,1170.9 1905.5,1190.2 1906.0,1164.0 1906.5,1170.9 1907.0,1179.3 1907.5,1179.3 1908.0,1190.2 1908.5,1190.2 1909.1,1153.2 1909.6,1179.3 1910.1,1164.0 1910.6,1205.5 1911.1,1158.2 1911.6,1190.2 1912.1,1179.3 1912.6,1179.3 1913.1,1190.2 1913.6,1170.9 1914.2,1164.0 1914.7,1158.2 1915.2,1190.2 1915.7,1190.2 1916.2,1170.9 1916.7,1205.5 1917.2,1190.2 1917.7,1190.2 1918.2,1179.3 1918.7,1170.9 1919.3,1205.5 1919.8,1205.5 1920.3,1179.3 1920.8,1170.9 1921.3,1231.6 1921.8,1158.2 1922.3,1170.9 1922.8,1179.3 1923.3,1205.5 1923.8,1164.0 1924.4,1158.2 1924.9,1170.9 1925.4,1148.7 1925.9,1164.0 1926.4,1170.9 1926.9,1164.0 1927.4,1170.9 1927.9,1190.2 1928.4,1190.2 1928.9,1164.0 1929.5,1170.9 1930.0,1190.2 1930.5,1179.3 1931.0,1231.6 1931.5,1179.3 1932.0,1170.9 1932.5,1190.2 1933.0,1205.5 1933.5,1170.9 1934.0,1179.3 1934.6,1179.3 1935.1,1179.3 1935.6,1164.0 1936.1,1190.2 1936.6,1179.3 1937.1,1179.3 1937.6,1190.2 1938.1,1179.3 1938.6,1170.9 1939.1,1164.0 1939.7,1190.2 1940.2,1144.8 1940.7,1205.5 1941.2,1190.2 1941.7,1164.0 1942.2,1158.2 1942.7,1158.2 1943.2,1164.0 1943.7,1231.6 1944.2,1179.3 1944.8,1190.2 1945.3,1164.0 1945.8,1179.3 1946.3,1179.3 1946.8,1153.2 1947.3,1153.2 1947.8,1158.2 1948.3,1179.3 1948.8,1179.3 1949.3,1170.9 1949.9,1164.0 1950.4,1158.2 1950.9,1170.9 1951.4,1179.3 1951.9,1179.3 1952.4,1158.2 1952.9,1170.9 1953.4,1179.3 1953.9,1205.5 1954.4,1170.9 1955.0,1190.2 1955.5,1190.2 1956.0,1179.3 1956.5,1179.3 1957.0,1190.2 1957.5,1190.2 1958.0,1170.9 1958.5,1190.2 1959.0,1179.3 1959.5,1158.2 1960.1,1190.2 1960.6,1164.0 1961.1,1179.3 1961.6,1190.2 1962.1,1179.3 1962.6,1190.2 1963.1,1179.3 1963.6,1170.9 1964.1,1148.7 1964.6,1179.3 1965.2,1179.3 1965.7,1205.5 1966.2,1158.2 1966.7,1148.7 1967.2,1164.0 1967.7,1153.2 1968.2,1179.3 1968.7,1164.0 1969.2,1179.3 1969.7,1205.5 1970.3,1141.2 1970.8,1144.8 1971.3,1158.2 1971.8,1205.5 1972.3,1164.0 1972.8,1190.2 1973.3,1153.2 1973.8,1179.3 1974.3,1205.5 1974.8,1164.0 1975.4,1164.0 1975.9,1158.2 1976.4,1170.9 1976.9,1190.2" fill="none" stroke="#111" stroke-width="0.9" stroke-linejoin="round"/></g>
<polyline points="159.8,1621.4 162.7,1613.7 164.9,1625.7 168.1,1647.7 170.3,1646.6 174.7,1611.5 178.0,1619.2 181.3,1630.1 184.6,1643.3 187.9,1606.0 190.1,1653.1 193.4,1632.3 195.5,1626.8 197.7,1642.2 199.9,1636.7 204.3,1613.7 207.6,1638.9 212.0,1658.6 214.2,1638.9 216.4,1649.9 219.7,1630.1 224.0,1632.3 227.3,1652.0 230.6,1678.3 232.8,1629.0 235.0,1647.7 237.2,1634.5 239.4,1643.3 242.7,1669.6 245.9,1640.0 248.1,1660.8 251.4,1650.9 254.7,1712.3 258.0,1676.2 262.4,1656.4 264.6,1641.1 266.8,1663.0 271.2,1667.4 275.5,1643.3 279.9,1676.2 284.3,1658.6 288.7,1647.7 292.0,1612.6 294.2,1617.0 297.5,1632.3 299.6,1627.9 301.8,1667.4 304.0,1644.4 307.3,1678.3 311.7,1682.7 315.0,1663.0 317.2,1723.3 320.5,1711.2 322.7,1629.0 325.9,1676.2 328.1,1658.6 330.3,1702.5 332.5,1660.8 334.7,1693.7 338.0,1669.6 341.3,1689.3 344.6,1699.2 346.8,1700.3 350.0,1676.2 353.3,1660.8 357.7,1645.5 362.1,1585.2 365.4,1601.6 368.7,1630.1 371.0,1641.0 372.6,1652.3 374.6,1645.1 376.2,1649.3 379.3,1668.8 382.9,1694.5 385.9,1690.4 389.0,1691.4 391.6,1701.7 394.2,1741.8 396.7,1721.2 400.8,1723.3 404.4,1732.5 407.0,1707.9 409.6,1702.7 415.2,1732.5 417.3,1710.9 420.4,1712.0 425.5,1681.1 428.6,1686.3 433.7,1735.6 438.9,1697.6 442.0,1721.2 444.0,1718.1 446.6,1704.8 449.7,1756.2 452.3,1704.8 457.4,1745.9 460.0,1704.8 462.5,1721.2 465.1,1713.0 468.2,1745.9 473.3,1704.8 475.9,1779.8 478.0,1740.8 483.1,1735.6 486.2,1759.3 489.3,1729.5 491.8,1770.6 494.4,1735.6 497.0,1752.1 502.6,1721.2 507.8,1779.3 510.3,1704.8 518.1,1796.8 520.6,1749.0 526.3,1771.1 529.4,1767.5 531.4,1774.7 534.0,1713.0 536.6,1741.8 539.1,1713.0 541.7,1779.3 546.8,1749.0 549.9,1771.1 552.5,1756.2 555.1,1771.1 557.6,1735.6 562.7,1745.2 565.0,1800.9 568.4,1806.6 570.7,1780.5 574.1,1771.4 576.4,1853.2 579.8,1755.5 582.0,1760.0 584.3,1791.8 586.6,1766.8 590.0,1787.3 594.5,1802.0 598.0,1763.4 600.2,1760.0 603.6,1779.3 605.9,1778.2 610.5,1766.8 612.7,1783.9 615.0,1763.4 617.3,1802.0 620.7,1755.5 624.1,1853.2 626.4,1782.7 628.6,1811.1 632.0,1800.9 634.3,1763.4 637.7,1798.6 640.0,1816.8 642.3,1796.4 644.5,1853.2 648.0,1782.7 650.2,1816.8 653.6,1787.3 655.9,1782.7 658.2,1828.2 662.7,1822.5 665.0,1787.3 668.4,1755.5 670.7,1766.8 674.1,1822.5 678.6,1807.7 680.0,1806.1 682.3,1763.6 684.5,1806.1 686.8,1853.0 689.8,1853.0 692.9,1821.2 695.9,1792.4 698.2,1793.2 700.5,1833.3 703.5,1828.8 706.5,1797.0 708.8,1803.0 714.1,1840.2 717.9,1818.2 721.7,1778.8 723.9,1783.3 727.0,1806.1 730.0,1792.4 732.3,1793.9 734.5,1839.4 736.8,1822.0 739.1,1834.1 741.4,1821.2 742.9,1816.7 745.2,1833.3 748.2,1853.0 750.5,1801.5 752.0,1839.4 753.5,1853.0 755.8,1822.7 758.8,1748.5 761.1,1834.1 764.1,1801.5 766.4,1853.0 769.4,1840.2 771.7,1859.8 777.0,1822.7 780.0,1817.4 782.3,1834.1 784.5,1809.1 787.6,1792.4 790.6,1809.1 792.9,1828.0 795.9,1828.8 798.2,1833.3 801.2,1797.0 803.5,1821.2 805.8,1833.3 808.8,1778.8 811.1,1822.7 814.1,1828.8 817.1,1828.0 819.4,1809.1 822.4,1792.4 824.7,1809.1 827.0,1834.1 829.2,1806.8 833.0,1803.0 834.5,1768.2 837.6,1760.6 839.1,1784.8 840.6,1833.3 842.9,1801.5 844.4,1833.3 845.9,1892.4 848.2,1793.9 850.5,1771.2 853.5,1833.3 855.8,1830.3 858.8,1809.1 861.8,1787.9 864.1,1822.7 867.1,1801.5 869.4,1828.8 872.4,1816.7 874.7,1883.3 877.0,1845.5 880.0,1822.7 881.5,1840.9 883.8,1834.1 886.1,1840.9 888.3,1853.0 890.6,1778.8 892.1,1839.4 893.6,1797.0 895.9,1774.2 898.2,1883.3 900.5,1834.1 902.7,1866.7 905.8,1834.1 909.5,1834.1 912.6,1828.0 914.8,1851.5 917.1,1900.8 920.2,1822.0 922.4,1847.0 925.5,1840.2 928.5,1840.2 930.8,1846.2 933.0,1827.3 936.1,1811.4 938.3,1866.7 941.4,1806.1 943.6,1828.8 946.7,1859.8 948.9,1816.7 951.2,1816.7" fill="none" stroke="#000" stroke-width="3.6" stroke-linejoin="round" stroke-linecap="round"/>
<polyline points="1191.7,1631.0 1197.2,1645.4 1200.5,1623.2 1202.8,1619.9 1206.1,1643.2 1208.3,1642.1 1211.2,1635.4 1213.8,1647.6 1217.2,1624.3 1219.4,1608.8 1221.6,1636.5 1224.5,1636.5 1227.2,1617.7 1229.4,1656.5 1231.6,1644.3 1234.9,1672.0 1238.3,1663.2 1241.6,1624.3 1243.1,1623.2 1246.0,1642.1 1248.2,1636.5 1251.1,1674.3 1256.0,1638.8 1258.2,1642.1 1261.5,1641.0 1263.8,1648.8 1266.7,1629.9 1269.3,1684.3 1272.0,1641.0 1274.9,1668.7 1277.1,1670.9 1280.0,1705.3 1284.8,1655.4 1287.5,1713.1 1290.4,1649.9 1293.7,1669.8 1298.2,1670.9 1300.4,1664.3 1303.7,1700.9 1305.9,1680.9 1308.1,1716.4 1311.5,1653.2 1313.7,1664.3 1317.0,1644.3 1319.2,1692.0 1321.5,1668.7 1324.8,1667.6 1327.0,1716.4 1330.3,1662.1 1332.5,1673.2 1335.9,1667.6 1340.3,1690.9 1343.0,1662.1 1345.9,1687.6 1348.7,1680.9 1351.4,1713.1 1353.6,1698.7 1355.8,1710.9 1358.5,1687.6 1361.4,1687.6 1364.3,1683.1 1366.9,1693.1 1369.2,1718.6 1372.5,1689.8 1374.7,1705.3 1378.0,1686.5 1380.3,1685.4 1382.9,1716.4 1385.8,1715.3 1388.0,1653.2 1390.2,1593.3 1393.6,1580.0 1396.2,1574.4 1399.1,1592.2 1401.3,1626.6 1403.5,1653.2 1406.9,1693.1 1409.5,1703.1 1411.8,1688.7 1414.6,1704.2 1416.9,1719.8 1419.7,1768.6 1422.0,1708.7 1425.1,1693.1 1428.0,1715.3 1430.8,1719.8 1433.1,1692.0 1435.7,1748.6 1437.9,1722.0 1441.3,1754.1 1444.2,1712.0 1446.8,1715.3 1449.5,1734.2 1452.4,1719.8 1454.6,1723.1 1456.8,1743.0 1460.1,1690.9 1464.6,1737.5 1469.0,1724.2 1472.8,1714.2 1475.7,1760.8 1478.3,1728.6 1481.2,1722.0 1483.4,1733.1 1485.6,1706.4 1488.5,1733.1 1492.3,1737.5 1495.6,1744.2 1499.0,1793.0 1501.8,1736.4 1504.1,1804.1 1506.7,1764.1 1510.0,1757.5 1513.4,1779.7 1515.6,1739.7 1517.8,1730.8 1520.5,1786.3 1522.3,1753.0 1525.6,1768.6 1528.5,1734.2 1531.1,1755.3 1533.8,1804.1 1536.7,1768.6 1539.6,1787.4 1542.2,1784.1 1546.7,1730.8 1550.0,1764.1 1554.4,1744.2 1556.6,1760.8 1559.5,1750.8 1562.2,1795.2 1564.9,1777.4 1567.7,1748.6 1570.6,1730.8 1573.3,1776.3 1575.5,1737.5 1578.8,1770.8 1580.0,1775.4 1583.3,1762.1 1586.2,1798.7 1588.9,1755.4 1591.5,1739.9 1594.4,1753.2 1597.3,1824.2 1600.0,1764.3 1603.3,1768.8 1607.7,1818.7 1610.6,1759.9 1613.3,1757.7 1616.6,1784.3 1618.2,1793.2 1620.4,1761.0 1623.3,1807.6 1627.7,1797.6 1631.0,1782.1 1634.4,1776.5 1636.6,1869.7 1639.9,1807.6 1642.1,1772.1 1644.8,1807.6 1647.0,1784.3 1649.9,1829.8 1652.1,1804.3 1655.4,1761.0 1658.8,1775.4 1663.2,1757.7 1665.4,1802.0 1668.3,1835.3 1671.0,1773.2 1675.4,1768.8 1678.7,1807.6 1682.1,1798.7 1684.3,1798.7 1686.9,1764.3 1692.0,1818.7 1697.6,1764.3 1700.9,1799.8 1703.1,1807.6 1706.0,1772.1 1708.2,1813.1 1710.9,1768.8 1713.8,1823.1 1715.8,1797.6 1718.7,1848.6 1721.6,1789.8 1723.8,1768.8 1726.4,1813.1 1729.1,1803.1 1732.0,1842.0 1734.2,1773.2 1736.4,1799.8 1739.3,1829.8 1742.0,1823.1 1745.3,1824.2 1747.5,1855.3 1750.4,1818.7 1752.6,1842.0 1755.3,1818.7 1759.3,1833.1 1763.0,1855.3 1766.4,1846.4 1769.0,1828.7 1771.9,1826.4 1774.1,1798.7 1777.5,1802.0 1779.7,1784.3 1781.9,1855.3 1784.1,1819.8 1786.8,1794.3 1789.7,1807.6 1793.0,1808.7 1795.2,1824.2 1797.9,1765.4 1800.8,1829.8 1803.0,1830.9 1806.3,1788.7 1808.5,1835.3 1810.8,1836.4 1813.4,1848.6 1816.3,1768.8 1818.5,1822.0 1821.4,1833.1 1824.1,1855.3 1827.4,1803.1 1829.6,1804.3 1832.5,1861.9 1834.7,1807.6 1837.4,1776.5 1840.0,1792.0 1842.9,1784.3 1846.3,1809.8 1848.0,1876.4 1851.1,1813.1 1853.4,1848.6 1856.2,1848.6 1860.7,1808.7 1863.6,1829.8 1866.2,1822.0 1869.5,1813.1 1872.4,1835.3 1876.2,1835.3 1880.0,1788.7 1882.2,1835.3 1885.1,1808.7 1888.0,1829.8 1890.2,1830.9 1892.8,1861.9 1898.4,1842.0 1901.7,1868.6 1905.0,1857.5 1906.6,1848.6 1911.7,1894.1 1913.9,1818.7 1916.8,1854.2 1919.5,1843.1 1923.5,1815.3 1925.0,1813.1 1927.2,1855.3 1930.1,1826.4 1932.8,1813.1 1935.0,1876.4 1937.7,1813.1 1940.6,1869.7 1943.4,1808.7 1946.1,1817.6 1948.3,1885.2 1951.0,1894.1 1953.9,1835.3 1956.1,1789.8 1959.0,1847.5 1961.6,1813.1 1964.3,1835.3 1967.2,1824.2 1969.4,1935.2 1972.7,1861.9 1976.1,1822.0 1978.3,1815.3 1980.5,1824.2" fill="none" stroke="#000" stroke-width="3.6" stroke-linejoin="round" stroke-linecap="round"/>
<text x="15.8" y="25.2" font-size="47" text-anchor="start" font-weight="bold" >a</text>
<text x="171.5" y="68.4" font-size="41" text-anchor="start" font-weight="bold" >iii</text>
<text x="180.0" y="472.0" font-size="41" text-anchor="start" font-weight="bold" >ii</text>
<text x="184.5" y="875.0" font-size="41" text-anchor="start" font-weight="bold" >i</text>
<text class="r2" x="1733.0" y="78.6" font-size="46" text-anchor="start" font-weight="normal" >2θ=35.1°</text>
<text class="r2" x="1733.0" y="483.2" font-size="46" text-anchor="start" font-weight="normal" >2θ=58.5°</text>
<text class="r2" x="1733.0" y="887.4" font-size="46" text-anchor="start" font-weight="normal" >2θ=37.5°</text>
<text x="1749.0" y="212.6" font-size="46" text-anchor="start" font-weight="bold" >Bi (100)</text>
<text x="1714.0" y="612.8" font-size="46" text-anchor="start" font-weight="bold" letter-spacing="0.35">MoS<tspan font-size="32" dy="11">2</tspan><tspan dy="-11"> (110)</tspan></text>
<text x="1712.0" y="1016.5" font-size="46" text-anchor="start" font-weight="bold" letter-spacing="0.35">Al<tspan font-size="32" dy="11">2</tspan><tspan dy="-11">O</tspan><tspan font-size="32" dy="11">3</tspan><tspan dy="-11"> (110)</tspan></text>
<text class="r2" x="1376.0" y="544.2" font-size="46" text-anchor="start" font-weight="normal" >~6.4°</text>
<text class="r2" x="497.0" y="899.0" font-size="46" text-anchor="start" font-weight="normal" >60°</text>
<text class="r" x="122.5" y="85.5" font-size="46" text-anchor="end" font-weight="normal" >60</text>
<text class="r" x="122.5" y="178.5" font-size="46" text-anchor="end" font-weight="normal" >45</text>
<text class="r" x="122.5" y="271.5" font-size="46" text-anchor="end" font-weight="normal" >30</text>
<text class="r" x="122.5" y="364.5" font-size="46" text-anchor="end" font-weight="normal" >15</text>
<text class="r" x="122.0" y="487.0" font-size="46" text-anchor="end" font-weight="normal" >45</text>
<text class="r" x="122.0" y="558.4" font-size="46" text-anchor="end" font-weight="normal" >40</text>
<text class="r" x="122.0" y="629.8" font-size="46" text-anchor="end" font-weight="normal" >35</text>
<text class="r" x="122.0" y="701.2" font-size="46" text-anchor="end" font-weight="normal" >30</text>
<text class="r" x="122.0" y="772.6" font-size="46" text-anchor="end" font-weight="normal" >25</text>
<text class="r" x="115.0" y="920.0" font-size="46" text-anchor="end" font-weight="normal" >10</text>
<text class="r" x="116.0" y="899.0" font-size="30" text-anchor="start" font-weight="normal" >5</text>
<text class="r" x="115.0" y="1006.8" font-size="46" text-anchor="end" font-weight="normal" >10</text>
<text class="r" x="116.0" y="985.8" font-size="30" text-anchor="start" font-weight="normal" >4</text>
<text class="r" x="115.0" y="1093.7" font-size="46" text-anchor="end" font-weight="normal" >10</text>
<text class="r" x="116.0" y="1072.7" font-size="30" text-anchor="start" font-weight="normal" >3</text>
<text class="r" x="115.0" y="1180.5" font-size="46" text-anchor="end" font-weight="normal" >10</text>
<text class="r" x="116.0" y="1159.5" font-size="30" text-anchor="start" font-weight="normal" >2</text>
<text class="r" x="142.6" y="1265.7" font-size="46" text-anchor="middle" font-weight="normal" >−90</text>
<text class="r" x="448.6" y="1265.7" font-size="46" text-anchor="middle" font-weight="normal" >−60</text>
<text class="r" x="754.6" y="1265.7" font-size="46" text-anchor="middle" font-weight="normal" >−30</text>
<text class="r" x="1060.6" y="1265.7" font-size="46" text-anchor="middle" font-weight="normal" >0</text>
<text class="r" x="1366.6" y="1265.7" font-size="46" text-anchor="middle" font-weight="normal" >30</text>
<text class="r" x="1672.6" y="1265.7" font-size="46" text-anchor="middle" font-weight="normal" >60</text>
<text class="r" x="1978.6" y="1265.7" font-size="46" text-anchor="middle" font-weight="normal" >90</text>
<text class="r2" x="1060.0" y="1316.8" font-size="46" text-anchor="middle" font-weight="normal" >φ (°)</text>
<text class="r2" x="34.0" y="599.0" font-size="45" text-anchor="middle" font-weight="normal" transform="rotate(-90 34 599)">Intensity (cps)</text>
<text x="13.3" y="1396.5" font-size="48.5" text-anchor="start" font-weight="bold" >b</text>
<text x="1055.0" y="1398.7" font-size="51" text-anchor="start" font-weight="bold" >c</text>
<text class="r" x="132.3" y="1400.7" font-size="46" text-anchor="end" font-weight="normal" >10</text>
<text class="r" x="130.5" y="1382.7" font-size="31" text-anchor="start" font-weight="normal" >2</text>
<text class="r" x="132.3" y="1746.4" font-size="46" text-anchor="end" font-weight="normal" >10</text>
<text class="r" x="130.5" y="1728.4" font-size="31" text-anchor="start" font-weight="normal" >1</text>
<text class="r" x="132.3" y="2092.1" font-size="46" text-anchor="end" font-weight="normal" >10</text>
<text class="r" x="130.5" y="2074.1" font-size="31" text-anchor="start" font-weight="normal" >0</text>
<text class="r" x="1163.5" y="1400.7" font-size="46" text-anchor="end" font-weight="normal" >10</text>
<text class="r" x="1161.8" y="1382.7" font-size="31" text-anchor="start" font-weight="normal" >2</text>
<text class="r" x="1163.5" y="1747.6" font-size="46" text-anchor="end" font-weight="normal" >10</text>
<text class="r" x="1161.8" y="1729.6" font-size="31" text-anchor="start" font-weight="normal" >1</text>
<text class="r" x="1163.5" y="2094.5" font-size="46" text-anchor="end" font-weight="normal" >10</text>
<text class="r" x="1161.8" y="2076.5" font-size="31" text-anchor="start" font-weight="normal" >0</text>
<text class="r" x="159.2" y="2121.4" font-size="46" text-anchor="middle" font-weight="normal" >30</text>
<text class="r" x="1190.0" y="2124.4" font-size="46" text-anchor="middle" font-weight="normal" >30</text>
<text class="r" x="291.2" y="2121.4" font-size="46" text-anchor="middle" font-weight="normal" >35</text>
<text class="r" x="1322.1" y="2124.4" font-size="46" text-anchor="middle" font-weight="normal" >35</text>
<text class="r" x="423.1" y="2121.4" font-size="46" text-anchor="middle" font-weight="normal" >40</text>
<text class="r" x="1454.2" y="2124.4" font-size="46" text-anchor="middle" font-weight="normal" >40</text>
<text class="r" x="555.1" y="2121.4" font-size="46" text-anchor="middle" font-weight="normal" >45</text>
<text class="r" x="1586.3" y="2124.4" font-size="46" text-anchor="middle" font-weight="normal" >45</text>
<text class="r" x="687.1" y="2121.4" font-size="46" text-anchor="middle" font-weight="normal" >50</text>
<text class="r" x="1718.4" y="2124.4" font-size="46" text-anchor="middle" font-weight="normal" >50</text>
<text class="r" x="819.0" y="2121.4" font-size="46" text-anchor="middle" font-weight="normal" >55</text>
<text class="r" x="1850.5" y="2124.4" font-size="46" text-anchor="middle" font-weight="normal" >55</text>
<text class="r" x="951.0" y="2121.4" font-size="46" text-anchor="middle" font-weight="normal" >60</text>
<text class="r" x="1982.6" y="2124.4" font-size="46" text-anchor="middle" font-weight="normal" >60</text>
<text class="r2" x="555.0" y="2178.0" font-size="46" text-anchor="middle" font-weight="normal" >2θ (°)</text>
<text class="r2" x="1586.0" y="2178.0" font-size="46" text-anchor="middle" font-weight="normal" >2θ (°)</text>
<text class="r2" x="65.6" y="1725.5" font-size="45" text-anchor="middle" font-weight="normal" transform="rotate(-90 65.6 1725.5)">Intensity (cps)</text>
<text class="r2" x="1096.5" y="1725.5" font-size="45" text-anchor="middle" font-weight="normal" transform="rotate(-90 1096.5 1725.5)">Intensity (cps)</text>
<text class="r2" x="944.0" y="1502.5" font-size="46" text-anchor="end" font-weight="normal" >φ = -24.95°</text>
<text class="r2" x="1959.5" y="1502.7" font-size="46" text-anchor="end" font-weight="normal" >φ = 64.73°</text>
<text class="r2" x="185.0" y="1602.2" font-size="46" text-anchor="start" font-weight="normal" letter-spacing="0.15">Bi (100)</text>
<text class="r2" x="352.0" y="1572.2" font-size="46" text-anchor="start" font-weight="normal" letter-spacing="0.35">Al<tspan font-size="31" dy="13">2</tspan><tspan dy="-13">O</tspan><tspan font-size="31" dy="13">3</tspan><tspan dy="-13"> (110)</tspan></text>
<text class="r2" x="1335.5" y="1555.9" font-size="46" text-anchor="start" font-weight="normal" letter-spacing="0.5">Bi (010)</text>
<line x1="250" y1="946" x2="820" y2="946" stroke="#000" stroke-width="3"/>
<polygon points="236,946 259,940 259,952" fill="#000"/>
<polygon points="838,946 815,940 815,952" fill="#000"/>
<line x1="1400" y1="596.8" x2="1445" y2="596.8" stroke="#000" stroke-width="2.7"/>
<polygon points="1386,596.8 1409,590.9 1409,602.6999999999999" fill="#000"/>
<polygon points="1460.5,596.8 1437.5,590.9 1437.5,602.6999999999999" fill="#000"/>
<rect x="142.5" y="10.5" width="1836.0" height="1213.1" fill="none" stroke="#000" stroke-width="5"/>
<line x1="142.5" y1="415.2" x2="1978.5" y2="415.2" stroke="#000" stroke-width="2.6"/>
<line x1="142.5" y1="819.3" x2="1978.5" y2="819.3" stroke="#000" stroke-width="2.6"/>
<path d="M295.6 13v2.5 M295.6 412.2v6 M295.6 816.3v6 M295.6 1220v-2 M448.6 13v4 M448.6 410.2v10 M448.6 814.3v10 M448.6 1220v-3.5 M601.6 13v2.5 M601.6 412.2v6 M601.6 816.3v6 M601.6 1220v-2 M754.6 13v4 M754.6 410.2v10 M754.6 814.3v10 M754.6 1220v-3.5 M907.6 13v2.5 M907.6 412.2v6 M907.6 816.3v6 M907.6 1220v-2 M1060.6 13v4 M1060.6 410.2v10 M1060.6 814.3v10 M1060.6 1220v-3.5 M1213.6 13v2.5 M1213.6 412.2v6 M1213.6 816.3v6 M1213.6 1220v-2 M1366.6 13v4 M1366.6 410.2v10 M1366.6 814.3v10 M1366.6 1220v-3.5 M1519.6 13v2.5 M1519.6 412.2v6 M1519.6 816.3v6 M1519.6 1220v-2 M1672.6 13v4 M1672.6 410.2v10 M1672.6 814.3v10 M1672.6 1220v-3.5 M1825.6 13v2.5 M1825.6 412.2v6 M1825.6 816.3v6 M1825.6 1220v-2 M145 352.0h4 M145 305.5h2.5 M145 259.0h4 M145 212.5h2.5 M145 166.0h4 M145 119.5h2.5 M145 73.0h4 M145 26.5h2.5 M145 795.3h2.5 M145 759.6h4 M145 723.9h2.5 M145 688.2h4 M145 652.5h2.5 M145 616.8h4 M145 581.1h2.5 M145 545.4h4 M145 509.7h2.5 M145 474.0h4 M145 438.3h2.5 M145 1162.5h4 M145 1075.7h4 M145 988.8h4 M145 902.0h4" stroke="#000" stroke-width="2.6" fill="none"/>
<rect x="159.2" y="1384.2" width="791.8" height="691.4" fill="none" stroke="#000" stroke-width="3.5"/>
<path d="M225.2 1385.9v3.5 M225.2 2073.9v-3.5 M291.2 1385.9v6 M291.2 2073.9v-6 M357.1 1385.9v3.5 M357.1 2073.9v-3.5 M423.1 1385.9v6 M423.1 2073.9v-6 M489.1 1385.9v3.5 M489.1 2073.9v-3.5 M555.1 1385.9v6 M555.1 2073.9v-6 M621.1 1385.9v3.5 M621.1 2073.9v-3.5 M687.1 1385.9v6 M687.1 2073.9v-6 M753.0 1385.9v3.5 M753.0 2073.9v-3.5 M819.0 1385.9v6 M819.0 2073.9v-6 M885.0 1385.9v3.5 M885.0 2073.9v-3.5 M160.9 1971.5h3.5 M949.3 1971.5h-3.5 M160.9 1910.7h3.5 M949.3 1910.7h-3.5 M160.9 1867.5h3.5 M949.3 1867.5h-3.5 M160.9 1834.0h3.5 M949.3 1834.0h-3.5 M160.9 1806.6h3.5 M949.3 1806.6h-3.5 M160.9 1783.4h3.5 M949.3 1783.4h-3.5 M160.9 1763.4h3.5 M949.3 1763.4h-3.5 M160.9 1745.7h3.5 M949.3 1745.7h-3.5 M160.9 1729.9h6 M949.3 1729.9h-6 M160.9 1625.8h3.5 M949.3 1625.8h-3.5 M160.9 1565.0h3.5 M949.3 1565.0h-3.5 M160.9 1521.8h3.5 M949.3 1521.8h-3.5 M160.9 1488.3h3.5 M949.3 1488.3h-3.5 M160.9 1460.9h3.5 M949.3 1460.9h-3.5 M160.9 1437.7h3.5 M949.3 1437.7h-3.5 M160.9 1417.7h3.5 M949.3 1417.7h-3.5 M160.9 1400.0h3.5 M949.3 1400.0h-3.5" stroke="#000" stroke-width="2.6" fill="none"/>
<rect x="1190.0" y="1384.2" width="792.6" height="693.8" fill="none" stroke="#000" stroke-width="3.5"/>
<path d="M1256.0 1385.9v3.5 M1256.0 2076.3v-3.5 M1322.1 1385.9v6 M1322.1 2076.3v-6 M1388.2 1385.9v3.5 M1388.2 2076.3v-3.5 M1454.2 1385.9v6 M1454.2 2076.3v-6 M1520.2 1385.9v3.5 M1520.2 2076.3v-3.5 M1586.3 1385.9v6 M1586.3 2076.3v-6 M1652.3 1385.9v3.5 M1652.3 2076.3v-3.5 M1718.4 1385.9v6 M1718.4 2076.3v-6 M1784.4 1385.9v3.5 M1784.4 2076.3v-3.5 M1850.5 1385.9v6 M1850.5 2076.3v-6 M1916.5 1385.9v3.5 M1916.5 2076.3v-3.5 M1191.7 1973.6h3.5 M1980.9 1973.6h-3.5 M1191.7 1912.5h3.5 M1980.9 1912.5h-3.5 M1191.7 1869.1h3.5 M1980.9 1869.1h-3.5 M1191.7 1835.5h3.5 M1980.9 1835.5h-3.5 M1191.7 1808.1h3.5 M1980.9 1808.1h-3.5 M1191.7 1784.8h3.5 M1980.9 1784.8h-3.5 M1191.7 1764.7h3.5 M1980.9 1764.7h-3.5 M1191.7 1747.0h3.5 M1980.9 1747.0h-3.5 M1191.7 1731.1h6 M1980.9 1731.1h-6 M1191.7 1626.7h3.5 M1980.9 1626.7h-3.5 M1191.7 1565.6h3.5 M1980.9 1565.6h-3.5 M1191.7 1522.2h3.5 M1980.9 1522.2h-3.5 M1191.7 1488.6h3.5 M1980.9 1488.6h-3.5 M1191.7 1461.2h3.5 M1980.9 1461.2h-3.5 M1191.7 1437.9h3.5 M1980.9 1437.9h-3.5 M1191.7 1417.8h3.5 M1980.9 1417.8h-3.5 M1191.7 1400.1h3.5 M1980.9 1400.1h-3.5" stroke="#000" stroke-width="2.6" fill="none"/>
<rect x="215.1" y="13" width="28.2" height="1206.5" fill="rgb(232,0,140)" fill-opacity="0.22"/>
<rect x="827.3" y="13" width="28.2" height="1206.5" fill="rgb(232,0,140)" fill-opacity="0.22"/>
<rect x="1438.8" y="13" width="28.2" height="1206.5" fill="rgb(232,0,140)" fill-opacity="0.22"/>
<rect x="798" y="8" width="18.6" height="811.5" fill="rgb(0,0,255)" fill-opacity="0.39"/>
</svg>
</body></html>
